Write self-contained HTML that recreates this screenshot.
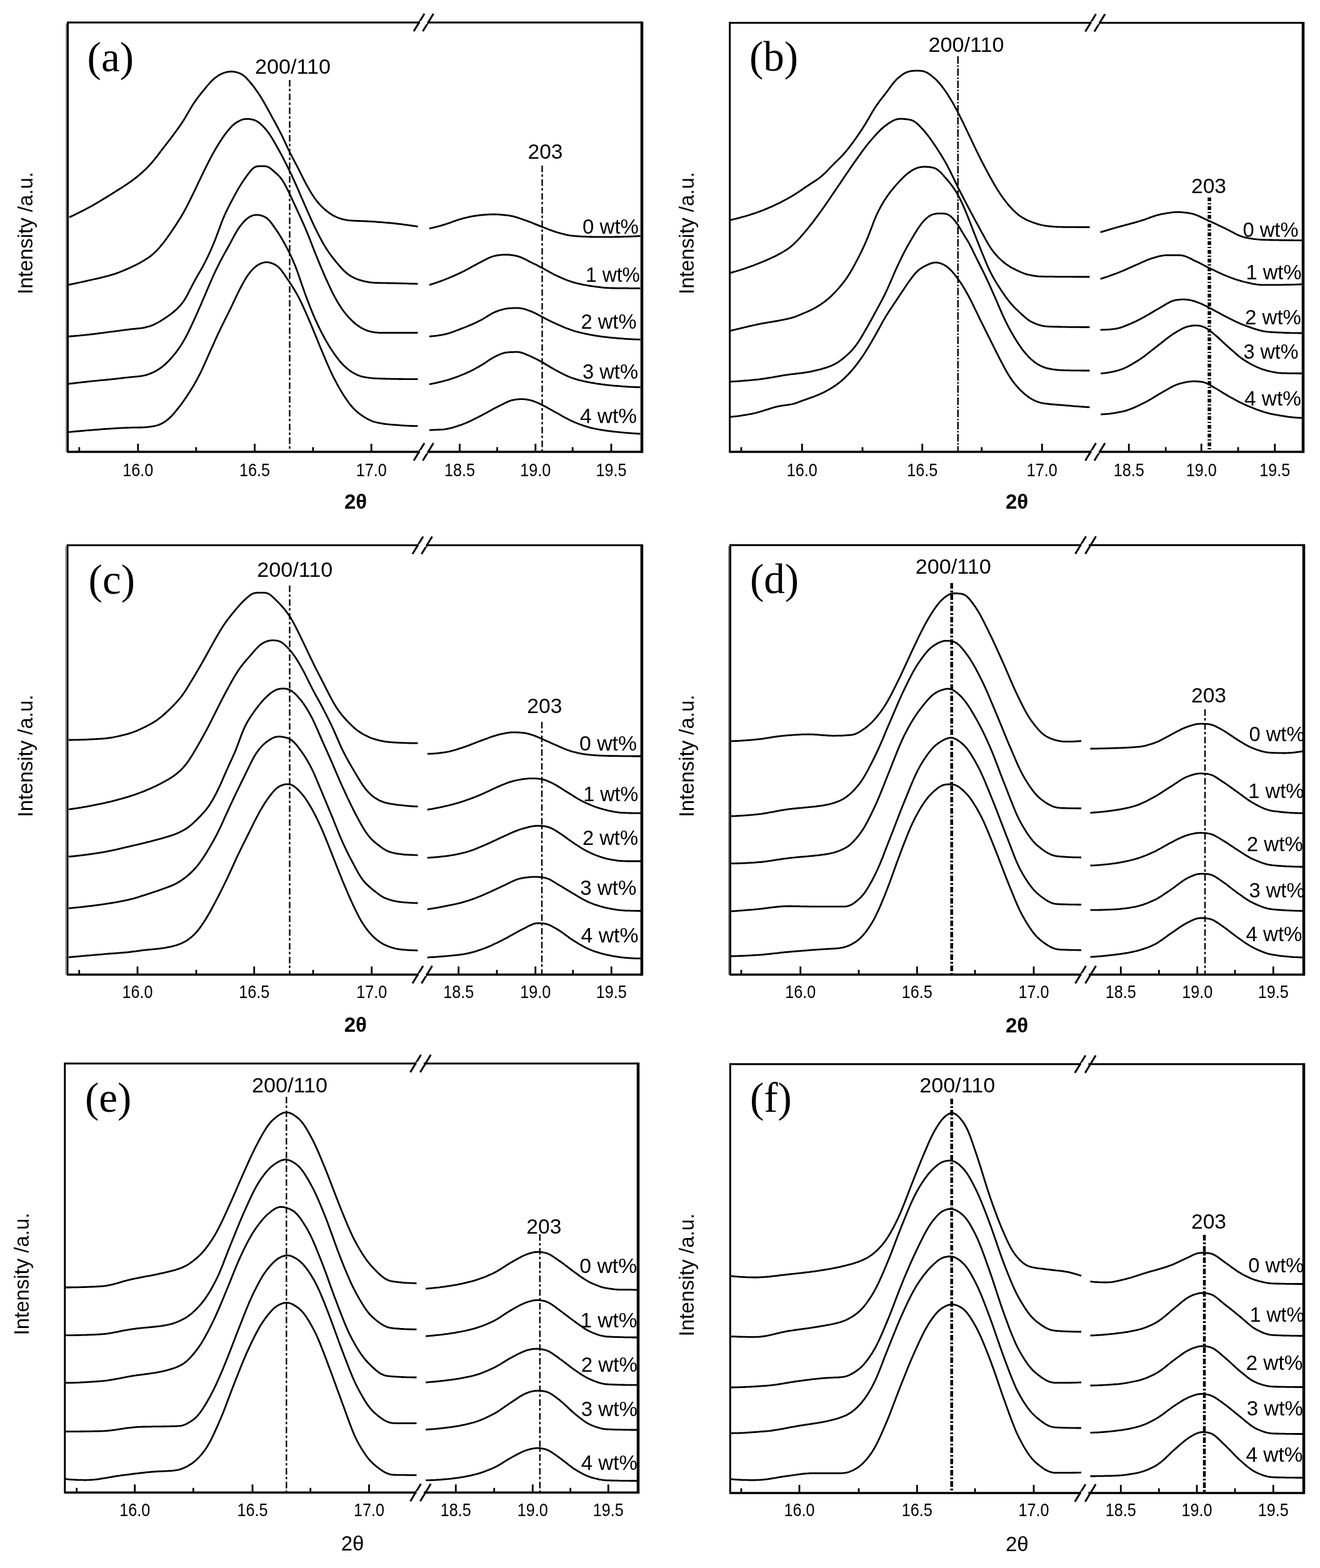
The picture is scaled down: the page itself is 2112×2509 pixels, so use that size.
<!DOCTYPE html>
<html><head><meta charset="utf-8"><style>
html,body{margin:0;padding:0;background:#fff;}
svg{display:block;}
.cv{fill:none;stroke:#000;stroke-width:2.8;stroke-linejoin:round;stroke-linecap:butt;}
.tk{font-family:"Liberation Sans",Arial,sans-serif;font-size:30px;fill:#000;}
.lb{font-family:"Liberation Sans",Arial,sans-serif;font-size:33px;fill:#000;}
.pl{font-family:"Liberation Serif","Times New Roman",serif;font-size:67px;fill:#000;}
.ax{font-family:"Liberation Sans",Arial,sans-serif;font-size:34px;fill:#000;}
.th2{font-family:"Liberation Sans",Arial,sans-serif;font-size:33px;fill:#000;}
.th{font-family:"Liberation Sans",Arial,sans-serif;font-size:33px;fill:#000;font-weight:bold;}
</style></head><body>
<svg xmlns="http://www.w3.org/2000/svg" width="2112" height="2509" viewBox="0 0 2112 2509">
<line x1="108.5" y1="36.0" x2="1027.0" y2="36.0" stroke="#000" stroke-width="3.0"/>
<line x1="108.5" y1="723.0" x2="1027.0" y2="723.0" stroke="#000" stroke-width="3.5"/>
<line x1="108.5" y1="34.5" x2="108.5" y2="724.5" stroke="#000" stroke-width="3.0"/>
<line x1="106.0" y1="37.5" x2="106.0" y2="723.0" stroke="#888" stroke-width="2"/>
<line x1="1027.0" y1="34.5" x2="1027.0" y2="724.8" stroke="#000" stroke-width="4.5"/>
<line x1="126.8" y1="723.0" x2="126.8" y2="715.5" stroke="#000" stroke-width="2.8"/>
<line x1="220.8" y1="723.0" x2="220.8" y2="710.0" stroke="#000" stroke-width="2.8"/>
<text x="220.8" y="762.0" class="tk" text-anchor="middle" textLength="49" lengthAdjust="spacingAndGlyphs">16.0</text>
<line x1="313.8" y1="723.0" x2="313.8" y2="715.5" stroke="#000" stroke-width="2.8"/>
<line x1="407.5" y1="723.0" x2="407.5" y2="710.0" stroke="#000" stroke-width="2.8"/>
<text x="407.5" y="762.0" class="tk" text-anchor="middle" textLength="49" lengthAdjust="spacingAndGlyphs">16.5</text>
<line x1="500.9" y1="723.0" x2="500.9" y2="715.5" stroke="#000" stroke-width="2.8"/>
<line x1="594.2" y1="723.0" x2="594.2" y2="710.0" stroke="#000" stroke-width="2.8"/>
<text x="594.2" y="762.0" class="tk" text-anchor="middle" textLength="49" lengthAdjust="spacingAndGlyphs">17.0</text>
<line x1="735.5" y1="723.0" x2="735.5" y2="710.0" stroke="#000" stroke-width="2.8"/>
<text x="735.5" y="762.0" class="tk" text-anchor="middle" textLength="49" lengthAdjust="spacingAndGlyphs">18.5</text>
<line x1="795.5" y1="723.0" x2="795.5" y2="715.5" stroke="#000" stroke-width="2.8"/>
<line x1="856.8" y1="723.0" x2="856.8" y2="710.0" stroke="#000" stroke-width="2.8"/>
<text x="856.8" y="762.0" class="tk" text-anchor="middle" textLength="49" lengthAdjust="spacingAndGlyphs">19.0</text>
<line x1="916.2" y1="723.0" x2="916.2" y2="715.5" stroke="#000" stroke-width="2.8"/>
<line x1="978.0" y1="723.0" x2="978.0" y2="710.0" stroke="#000" stroke-width="2.8"/>
<text x="978.0" y="762.0" class="tk" text-anchor="middle" textLength="49" lengthAdjust="spacingAndGlyphs">19.5</text>
<line x1="662.0" y1="50.0" x2="679.0" y2="22.0" stroke="#000" stroke-width="3"/>
<line x1="676.5" y1="50.0" x2="693.5" y2="22.0" stroke="#000" stroke-width="3"/>
<line x1="672.0" y1="36.0" x2="683.5" y2="36.0" stroke="#fff" stroke-width="5"/>
<line x1="662.0" y1="737.0" x2="679.0" y2="709.0" stroke="#000" stroke-width="3"/>
<line x1="676.5" y1="737.0" x2="693.5" y2="709.0" stroke="#000" stroke-width="3"/>
<line x1="672.0" y1="723.0" x2="683.5" y2="723.0" stroke="#fff" stroke-width="5"/>
<line x1="463.5" y1="128.0" x2="463.5" y2="723.0" stroke="#000" stroke-width="2.3" stroke-dasharray="10.5 3.5 4 4"/>
<line x1="867.5" y1="265.0" x2="867.5" y2="723.0" stroke="#000" stroke-width="2.3" stroke-dasharray="10.5 3.5 4 4"/>
<path d="M110.8,347.7l2.5,-1.2l2.5,-1.1l2.5,-1.2l2.5,-1.2l2.5,-1.2l2.5,-1.3l2.5,-1.2l2.5,-1.3l2.5,-1.3l2.5,-1.3l2.5,-1.3l2.5,-1.3l2.5,-1.4l2.5,-1.3l2.5,-1.4l2.5,-1.5l2.5,-1.4l2.5,-1.5l2.5,-1.4l2.5,-1.5l2.5,-1.6l2.5,-1.5l2.5,-1.5l2.5,-1.6l2.5,-1.5l2.5,-1.6l2.5,-1.5l2.5,-1.6l2.5,-1.6l2.5,-1.5l2.5,-1.6l2.5,-1.6l2.5,-1.6l2.5,-1.5l2.5,-1.7l2.5,-1.6l2.5,-1.7l2.5,-1.7l2.5,-1.8l2.5,-1.8l2.5,-1.8l2.5,-1.9l2.5,-2l2.5,-2l2.5,-2.1l2.5,-2.1l2.5,-2.3l2.5,-2.3l2.5,-2.4l2.5,-2.5l2.5,-2.6l2.5,-2.7l2.5,-2.8l2.5,-3l2.5,-3.1l2.6,-3.2l2.5,-3.3l2.5,-3.4l2.5,-3.3l2.5,-3.2l2.5,-3.3l2.5,-3.2l2.5,-3.2l2.5,-3.3l2.5,-3.2l2.5,-3.3l2.5,-3.4l2.5,-3.4l2.5,-3.4l2.5,-3.5l2.5,-3.6l2.5,-3.7l2.5,-3.9l2.5,-4l2.5,-4.2l2.5,-4.3l2.5,-4.3l2.5,-4.2l2.5,-4.1l2.5,-3.8l2.5,-3.6l2.5,-3.4l2.5,-3.3l2.5,-3.2l2.5,-3.1l2.5,-3.1l2.5,-3l2.5,-3.1l2.5,-2.9l2.5,-2.9l2.5,-2.6l2.5,-2.4l2.5,-2.2l2.5,-1.9l2.5,-1.7l2.5,-1.6l2.5,-1.3l2.5,-1.2l2.5,-1l2.5,-.7l2.5,-.6l2.5,-.4l2.5,-.3l2.5,0l2.5,.2l2.5,.4l2.5,.5l2.5,.7l2.5,.9l2.5,1.2l2.5,1.6l2.5,1.9l2.5,2.3l2.5,2.6l2.5,2.8l2.5,2.9l2.5,3l2.5,3.2l2.5,3.4l2.5,3.5l2.5,3.7l2.5,3.8l2.5,4l2.5,4.1l2.5,4.3l2.5,4.5l2.5,4.5l2.5,4.6l2.5,4.6l2.5,4.6l2.5,4.6l2.5,4.6l2.5,4.7l2.5,4.7l2.5,4.8l2.5,5l2.5,5.2l2.5,5.3l2.5,5.5l2.5,5.3l2.5,5.2l2.5,5l2.5,4.7l2.5,4.7l2.5,4.7l2.5,4.8l2.5,4.8l2.5,5l2.5,5.1l2.5,5l2.5,4.8l2.5,4.7l2.5,4.4l2.5,4.4l2.5,4.1l2.5,3.9l2.5,3.7l2.5,3.4l2.5,3.1l2.5,3l2.5,2.7l2.5,2.5l2.5,2.4l2.5,2.1l2.5,2l2.5,1.9l2.5,1.8l2.6,1.6l2.5,1.5l2.5,1.3l2.5,1.2l2.5,1l2.5,.9l2.5,.8l2.5,.6l2.5,.6l2.5,.5l2.5,.4l2.5,.3l2.5,.2l2.5,.2l2.5,.1l2.5,.2l2.5,.1l2.5,.1l2.5,.1l2.5,.1l2.5,.1l2.5,.1l2.5,.1l2.5,.1l2.5,.2l2.5,.1l2.5,.2l2.5,.1l2.5,.2l2.5,.2l2.5,.2l2.5,.2l2.5,.2l2.5,.2l2.5,.2l2.5,.2l2.5,.2l2.5,.2l2.5,.3l2.5,.2l2.5,.3l2.5,.3l2.5,.2l2.5,.3l2.5,.3l2.5,.3l2.5,.4l2.5,.3l2.5,.3l2.5,.4l2.5,.3l2.5,.4l2.5,.4l2.5,.3l2.5,.4l2.5,.4" class="cv"/>
<path d="M686.9,365.7l2.5,-.6l2.5,-.6l2.5,-.6l2.5,-.6l2.5,-.7l2.5,-.6l2.5,-.7l2.5,-.7l2.5,-.7l2.5,-.8l2.5,-.8l2.5,-.9l2.5,-.8l2.5,-.9l2.5,-.9l2.5,-.9l2.5,-.9l2.5,-.9l2.5,-.8l2.5,-.7l2.5,-.7l2.5,-.7l2.5,-.6l2.5,-.6l2.5,-.6l2.5,-.5l2.5,-.5l2.5,-.5l2.5,-.4l2.5,-.4l2.5,-.3l2.5,-.3l2.5,-.3l2.5,-.2l2.5,-.3l2.5,-.2l2.5,-.2l2.5,-.1l2.5,-.1l2.5,-.1l2.5,0l2.5,0l2.5,.1l2.5,.1l2.5,.1l2.5,.2l2.5,.3l2.5,.2l2.5,.3l2.5,.3l2.5,.3l2.5,.4l2.5,.5l2.5,.6l2.5,.7l2.5,.7l2.5,.8l2.5,.9l2.5,.8l2.5,.9l2.5,.9l2.5,.9l2.5,.9l2.5,1l2.5,.9l2.5,1l2.5,1.1l2.6,1l2.5,1l2.5,1l2.5,1l2.5,1l2.5,.9l2.5,1l2.5,1l2.5,1l2.5,.9l2.5,.9l2.5,.9l2.5,.9l2.5,.8l2.5,.8l2.5,.7l2.5,.7l2.5,.6l2.5,.7l2.5,.6l2.5,.5l2.5,.5l2.5,.5l2.5,.3l2.5,.3l2.5,.3l2.5,.1l2.5,.2l2.5,.2l2.5,.1l2.5,.2l2.5,.1l2.5,.1l2.5,.1l2.5,.1l2.5,.1l2.5,0l2.5,.1l2.5,0l2.5,.1l2.5,0l2.5,0l2.5,0l2.5,0l2.5,0l2.5,0l2.5,0l2.5,-.1l2.5,0l2.5,0l2.5,0l2.5,-.1l2.5,0l2.5,0l2.5,-.1l2.5,0l2.5,-.1l2.5,-.1l2.5,-.1l2.5,0l2.5,-.1l2.5,-.1l2.5,-.1l2.5,-.1l2.5,-.2l2.5,-.1l2.5,-.2l2.5,-.1" class="cv"/>
<path d="M109.8,455.6l2.5,-.5l2.5,-.5l2.5,-.5l2.5,-.5l2.5,-.5l2.5,-.6l2.5,-.5l2.5,-.5l2.5,-.6l2.6,-.5l2.5,-.6l2.5,-.6l2.5,-.5l2.5,-.6l2.5,-.6l2.5,-.5l2.5,-.6l2.5,-.6l2.5,-.5l2.5,-.6l2.5,-.6l2.5,-.6l2.5,-.6l2.5,-.7l2.5,-.6l2.5,-.7l2.5,-.7l2.6,-.8l2.5,-.8l2.5,-.8l2.5,-.9l2.5,-.9l2.5,-1l2.5,-1l2.5,-1l2.5,-1.1l2.5,-1l2.5,-1.2l2.5,-1.1l2.5,-1.1l2.5,-1.2l2.5,-1.2l2.5,-1.2l2.5,-1.3l2.5,-1.4l2.5,-1.3l2.6,-1.5l2.5,-1.4l2.5,-1.6l2.5,-1.6l2.5,-1.7l2.5,-1.8l2.5,-1.9l2.5,-2.2l2.5,-2.3l2.5,-2.4l2.5,-2.6l2.5,-2.8l2.5,-2.9l2.5,-3l2.5,-3.2l2.5,-3.3l2.5,-3.5l2.5,-3.6l2.5,-3.6l2.6,-3.7l2.5,-3.7l2.5,-3.8l2.5,-3.8l2.5,-3.9l2.5,-3.9l2.5,-4.1l2.5,-4.3l2.5,-4.5l2.5,-4.6l2.5,-4.9l2.5,-5l2.5,-5l2.5,-5.2l2.5,-5.1l2.5,-5.2l2.5,-5.3l2.5,-5.3l2.6,-5.2l2.5,-5.3l2.5,-5.2l2.5,-5.1l2.5,-5l2.5,-5l2.5,-4.9l2.5,-4.8l2.5,-4.6l2.5,-4.5l2.5,-4.4l2.5,-4.2l2.5,-4.1l2.5,-3.9l2.5,-3.8l2.5,-3.6l2.5,-3.4l2.5,-3.3l2.5,-3.1l2.6,-3l2.5,-2.7l2.5,-2.5l2.5,-2.1l2.5,-1.7l2.5,-1.6l2.5,-1.3l2.5,-1.2l2.5,-.9l2.5,-.6l2.5,-.3l2.5,-.1l2.5,.1l2.5,.3l2.5,.4l2.5,.6l2.5,.8l2.5,1.2l2.6,1.5l2.5,1.9l2.5,2.2l2.5,2.4l2.5,2.7l2.5,2.8l2.5,3.1l2.5,3.4l2.5,3.8l2.5,4l2.5,4.2l2.5,4.4l2.5,4.4l2.5,4.5l2.5,4.5l2.5,4.7l2.5,4.7l2.5,4.9l2.5,4.9l2.6,5.1l2.5,5.1l2.5,5.3l2.5,5.4l2.5,5.5l2.5,5.5l2.5,5.6l2.5,5.7l2.5,5.8l2.5,5.8l2.5,5.7l2.5,5.8l2.5,5.7l2.5,5.7l2.5,5.6l2.5,5.6l2.5,5.5l2.5,5.4l2.6,5.2l2.5,5l2.5,4.9l2.5,4.8l2.5,4.6l2.5,4.4l2.5,4.2l2.5,3.9l2.5,3.8l2.5,3.5l2.5,3.4l2.5,3.2l2.5,3.1l2.5,3.1l2.5,2.9l2.5,2.9l2.5,2.9l2.5,2.7l2.5,2.5l2.6,2.4l2.5,2.1l2.5,1.8l2.5,1.7l2.5,1.4l2.5,1.4l2.5,1.1l2.5,1.1l2.5,.9l2.5,.8l2.5,.7l2.5,.7l2.5,.6l2.5,.5l2.5,.5l2.5,.5l2.5,.3l2.5,.2l2.5,.2l2.6,.1l2.5,.1l2.5,.1l2.5,0l2.5,.1l2.5,0l2.5,.1l2.5,0l2.5,.1l2.5,0l2.5,.1l2.5,0l2.5,.1l2.5,0l2.5,.1l2.5,.1l2.5,0l2.5,.1l2.6,.1l2.5,0l2.5,.1l2.5,.1l2.5,0l2.5,.1l2.5,.1l2.5,0l2.5,.1l2.5,.1" class="cv"/>
<path d="M686.9,456.0l2.5,-.8l2.5,-.8l2.5,-.8l2.5,-.9l2.5,-.8l2.5,-.9l2.5,-.9l2.5,-.9l2.5,-1l2.5,-.9l2.5,-1l2.5,-1l2.5,-1.1l2.5,-1l2.5,-1.1l2.5,-1.1l2.5,-1.1l2.5,-1.2l2.5,-1.1l2.5,-1.2l2.5,-1.2l2.5,-1.2l2.5,-1.3l2.5,-1.3l2.5,-1.4l2.5,-1.3l2.5,-1.4l2.5,-1.4l2.5,-1.4l2.5,-1.3l2.5,-1.4l2.5,-1.3l2.5,-1.3l2.5,-1.3l2.5,-1.3l2.5,-1.3l2.5,-1.3l2.5,-1.2l2.5,-1.1l2.5,-.9l2.5,-.8l2.5,-.6l2.5,-.5l2.5,-.4l2.5,-.3l2.5,-.3l2.5,-.2l2.5,-.1l2.5,-.1l2.5,.1l2.5,.1l2.5,.3l2.5,.3l2.5,.3l2.5,.5l2.5,.5l2.5,.7l2.5,.8l2.5,1l2.5,1.1l2.5,1.3l2.5,1.3l2.5,1.3l2.5,1.3l2.5,1.2l2.5,1.3l2.5,1.2l2.6,1.2l2.5,1.3l2.5,1.3l2.5,1.3l2.5,1.3l2.5,1.3l2.5,1.4l2.5,1.4l2.5,1.4l2.5,1.4l2.5,1.4l2.5,1.3l2.5,1.3l2.5,1.2l2.5,1.2l2.5,1.1l2.5,1.1l2.5,1.1l2.5,1.1l2.5,1l2.5,1l2.5,1l2.5,.8l2.5,.9l2.5,.7l2.5,.7l2.5,.7l2.5,.6l2.5,.6l2.5,.5l2.5,.6l2.5,.5l2.5,.4l2.5,.5l2.5,.4l2.5,.4l2.5,.4l2.5,.3l2.5,.4l2.5,.3l2.5,.3l2.5,.3l2.5,.3l2.5,.3l2.5,.3l2.5,.2l2.5,.1l2.5,.2l2.5,0l2.5,.1l2.5,0l2.5,.1l2.5,0l2.5,0l2.5,.1l2.5,0l2.5,0l2.5,0l2.5,0l2.5,0l2.5,.1l2.5,0l2.5,0l2.5,0l2.5,0l2.5,0l2.5,0l2.5,0" class="cv"/>
<path d="M109.8,538.4l2.5,-.2l2.5,-.2l2.5,-.2l2.5,-.3l2.5,-.2l2.5,-.2l2.5,-.2l2.5,-.3l2.5,-.2l2.6,-.3l2.5,-.2l2.5,-.3l2.5,-.3l2.5,-.3l2.5,-.2l2.5,-.3l2.5,-.3l2.5,-.3l2.5,-.4l2.5,-.3l2.5,-.3l2.5,-.3l2.5,-.4l2.5,-.3l2.5,-.3l2.5,-.4l2.5,-.3l2.6,-.3l2.5,-.3l2.5,-.4l2.5,-.3l2.5,-.3l2.5,-.4l2.5,-.3l2.5,-.3l2.5,-.4l2.5,-.3l2.5,-.3l2.5,-.3l2.5,-.3l2.5,-.2l2.5,-.3l2.5,-.2l2.5,-.3l2.5,-.2l2.5,-.4l2.6,-.3l2.5,-.5l2.5,-.5l2.5,-.6l2.5,-.7l2.5,-.7l2.5,-.9l2.5,-1l2.5,-1.1l2.5,-1.3l2.5,-1.4l2.5,-1.4l2.5,-1.5l2.5,-1.6l2.5,-1.6l2.5,-1.6l2.5,-1.7l2.5,-1.8l2.5,-1.8l2.6,-2l2.5,-2l2.5,-2.2l2.5,-2.2l2.5,-2.5l2.5,-2.6l2.5,-2.9l2.5,-3.2l2.5,-3.7l2.5,-4.1l2.5,-4.6l2.5,-4.9l2.5,-4.9l2.5,-4.9l2.5,-4.8l2.5,-4.6l2.5,-4.4l2.5,-4.3l2.6,-4.4l2.5,-4.4l2.5,-4.6l2.5,-4.7l2.5,-5l2.5,-5.2l2.5,-5.4l2.5,-5.6l2.5,-5.8l2.5,-6l2.5,-6.3l2.5,-6.6l2.5,-6.8l2.5,-6.8l2.5,-6.6l2.5,-6.2l2.5,-5.7l2.5,-5.3l2.5,-5.1l2.6,-4.9l2.5,-4.9l2.5,-4.7l2.5,-4.7l2.5,-4.5l2.5,-4.5l2.5,-4.2l2.5,-4.1l2.5,-3.9l2.5,-3.7l2.5,-3.6l2.5,-3.5l2.5,-3.3l2.5,-3.2l2.5,-2.9l2.5,-2.2l2.5,-1.6l2.5,-1l2.6,-.4l2.5,-.1l2.5,-.1l2.5,0l2.5,.1l2.5,.3l2.5,.6l2.5,1.2l2.5,1.6l2.5,2.1l2.5,2.2l2.5,2.2l2.5,2.3l2.5,2.3l2.5,2.7l2.5,3.2l2.5,3.7l2.5,4.3l2.5,4.7l2.6,5.1l2.5,5.2l2.5,5.3l2.5,5.4l2.5,5.4l2.5,5.4l2.5,5.5l2.5,5.4l2.5,5.4l2.5,5.5l2.5,5.6l2.5,5.7l2.5,5.9l2.5,6.1l2.5,6.3l2.5,6.5l2.5,6.4l2.5,6.5l2.6,6.3l2.5,6.2l2.5,6.2l2.5,6l2.5,5.9l2.5,5.9l2.5,5.7l2.5,5.5l2.5,5.4l2.5,5.4l2.5,5.2l2.5,5l2.5,4.8l2.5,4.5l2.5,4.3l2.5,4l2.5,3.9l2.5,3.6l2.5,3.5l2.6,3.2l2.5,3l2.5,2.8l2.5,2.6l2.5,2.5l2.5,2.3l2.5,2.2l2.5,1.9l2.5,1.8l2.5,1.7l2.5,1.5l2.5,1.4l2.5,1.2l2.5,1.1l2.5,.9l2.5,.7l2.5,.7l2.5,.5l2.5,.4l2.6,.4l2.5,.2l2.5,.2l2.5,.1l2.5,0l2.5,0l2.5,0l2.5,0l2.5,0l2.5,0l2.5,0l2.5,0l2.5,0l2.5,0l2.5,0l2.5,0l2.5,0l2.5,0l2.6,0l2.5,0l2.5,0l2.5,0l2.5,0l2.5,0l2.5,0l2.5,0l2.5,0l2.5,0" class="cv"/>
<path d="M686.9,538.3l2.5,-.2l2.5,-.2l2.5,-.2l2.5,-.3l2.5,-.3l2.5,-.4l2.5,-.4l2.5,-.4l2.5,-.5l2.5,-.5l2.5,-.6l2.5,-.7l2.5,-.7l2.5,-.9l2.5,-.8l2.5,-.9l2.5,-1l2.5,-1l2.5,-.9l2.5,-1l2.5,-1l2.5,-.9l2.5,-1l2.5,-1l2.5,-1l2.5,-1.1l2.5,-1l2.5,-1.1l2.5,-1.1l2.5,-1.2l2.5,-1.2l2.5,-1.2l2.5,-1.3l2.5,-1.4l2.5,-1.5l2.5,-1.5l2.5,-1.6l2.5,-1.6l2.5,-1.5l2.5,-1.4l2.5,-1.3l2.5,-1.1l2.5,-1l2.5,-1l2.5,-.9l2.5,-.7l2.5,-.7l2.5,-.6l2.5,-.5l2.5,-.3l2.5,-.3l2.5,-.2l2.5,-.1l2.5,-.2l2.5,-.1l2.5,0l2.5,.1l2.5,.2l2.5,.4l2.5,.5l2.5,.7l2.5,.7l2.5,.9l2.5,.9l2.5,.9l2.5,1l2.5,1.2l2.6,1.2l2.5,1.3l2.5,1.4l2.5,1.3l2.5,1.3l2.5,1.3l2.5,1.3l2.5,1.3l2.5,1.3l2.5,1.2l2.5,1.3l2.5,1.2l2.5,1.1l2.5,1.2l2.5,1.1l2.5,1.1l2.5,1.1l2.5,1.1l2.5,1.1l2.5,1l2.5,1l2.5,.9l2.5,.9l2.5,.9l2.5,.8l2.5,.8l2.5,.7l2.5,.6l2.5,.7l2.5,.6l2.5,.6l2.5,.6l2.5,.6l2.5,.5l2.5,.5l2.5,.5l2.5,.4l2.5,.4l2.5,.5l2.5,.4l2.5,.3l2.5,.4l2.5,.4l2.5,.3l2.5,.3l2.5,.3l2.5,.3l2.5,.3l2.5,.2l2.5,.3l2.5,.2l2.5,.2l2.5,.2l2.5,.2l2.5,.2l2.5,.2l2.5,.2l2.5,.2l2.5,.2l2.5,.1l2.5,.2l2.5,.1l2.5,.1l2.5,.2l2.5,.1l2.5,0l2.5,.1l2.5,.1" class="cv"/>
<path d="M109.8,614.2l2.5,-.3l2.5,-.3l2.5,-.3l2.5,-.3l2.5,-.3l2.5,-.3l2.5,-.3l2.5,-.3l2.5,-.3l2.6,-.2l2.5,-.3l2.5,-.3l2.5,-.3l2.5,-.2l2.5,-.3l2.5,-.2l2.5,-.3l2.5,-.2l2.5,-.3l2.5,-.2l2.5,-.3l2.5,-.2l2.5,-.2l2.5,-.3l2.5,-.2l2.5,-.3l2.5,-.2l2.6,-.3l2.5,-.2l2.5,-.3l2.5,-.3l2.5,-.3l2.5,-.3l2.5,-.3l2.5,-.3l2.5,-.3l2.5,-.3l2.5,-.2l2.5,-.3l2.5,-.3l2.5,-.2l2.5,-.2l2.5,-.3l2.5,-.2l2.5,-.3l2.5,-.3l2.6,-.4l2.5,-.5l2.5,-.6l2.5,-.7l2.5,-.8l2.5,-.9l2.5,-1l2.5,-1.1l2.5,-1.3l2.5,-1.3l2.5,-1.5l2.5,-1.7l2.5,-1.7l2.5,-1.9l2.5,-2l2.5,-2.3l2.5,-2.4l2.5,-2.5l2.5,-2.7l2.6,-2.9l2.5,-2.9l2.5,-3.1l2.5,-3.3l2.5,-3.4l2.5,-3.7l2.5,-3.8l2.5,-4l2.5,-4.3l2.5,-4.6l2.5,-4.8l2.5,-5.1l2.5,-5.2l2.5,-5.3l2.5,-5.4l2.5,-5.5l2.5,-5.7l2.5,-5.7l2.6,-5.8l2.5,-5.8l2.5,-5.9l2.5,-5.8l2.5,-5.9l2.5,-5.8l2.5,-5.9l2.5,-5.7l2.5,-5.7l2.5,-5.5l2.5,-5.3l2.5,-5.2l2.5,-5l2.5,-4.9l2.5,-4.7l2.5,-4.6l2.5,-4.6l2.5,-4.5l2.5,-4.5l2.6,-4.6l2.5,-4.7l2.5,-4.7l2.5,-4.7l2.5,-4.4l2.5,-4.2l2.5,-3.7l2.5,-3.3l2.5,-3.1l2.5,-2.7l2.5,-2.5l2.5,-2.2l2.5,-1.9l2.5,-1.5l2.5,-1.1l2.5,-.9l2.5,-.5l2.5,-.2l2.6,.1l2.5,.4l2.5,.6l2.5,.8l2.5,1.1l2.5,1.4l2.5,1.8l2.5,2.4l2.5,2.9l2.5,3.3l2.5,3.5l2.5,3.6l2.5,3.7l2.5,3.7l2.5,4l2.5,4.1l2.5,4.3l2.5,4.5l2.5,4.8l2.6,4.8l2.5,5.1l2.5,5.2l2.5,5.4l2.5,5.8l2.5,6.2l2.5,6.7l2.5,7.2l2.5,7.3l2.5,7.3l2.5,7.1l2.5,7l2.5,6.8l2.5,6.6l2.5,6.5l2.5,6.2l2.5,6.1l2.5,5.8l2.6,5.7l2.5,5.5l2.5,5.3l2.5,5.1l2.5,4.8l2.5,4.7l2.5,4.6l2.5,4.3l2.5,4.2l2.5,4.1l2.5,3.8l2.5,3.8l2.5,3.6l2.5,3.5l2.5,3.3l2.5,3.1l2.5,3l2.5,2.7l2.5,2.5l2.6,2.3l2.5,2.2l2.5,2l2.5,1.8l2.5,1.7l2.5,1.4l2.5,1.4l2.5,1.2l2.5,1.1l2.5,.9l2.5,.8l2.5,.6l2.5,.6l2.5,.4l2.5,.3l2.5,.4l2.5,.2l2.5,.3l2.5,.2l2.6,.2l2.5,.1l2.5,.1l2.5,.1l2.5,.1l2.5,.1l2.5,0l2.5,.1l2.5,.1l2.5,0l2.5,.1l2.5,0l2.5,.1l2.5,0l2.5,0l2.5,.1l2.5,0l2.5,0l2.6,.1l2.5,0l2.5,0l2.5,0l2.5,.1l2.5,0l2.5,0l2.5,0l2.5,0l2.5,0" class="cv"/>
<path d="M686.9,614.7l2.5,-.4l2.5,-.5l2.5,-.5l2.5,-.5l2.5,-.5l2.5,-.6l2.5,-.6l2.5,-.6l2.5,-.6l2.5,-.7l2.5,-.7l2.5,-.7l2.5,-.8l2.5,-.8l2.5,-.8l2.5,-.9l2.5,-.9l2.5,-.9l2.5,-.9l2.5,-1l2.5,-1l2.5,-1.1l2.5,-1l2.5,-1.1l2.5,-1.2l2.5,-1.2l2.5,-1.3l2.5,-1.2l2.5,-1.3l2.5,-1.4l2.5,-1.3l2.5,-1.4l2.5,-1.5l2.5,-1.5l2.5,-1.6l2.5,-1.6l2.5,-1.7l2.5,-1.7l2.5,-1.6l2.5,-1.6l2.5,-1.4l2.5,-1.3l2.5,-1.3l2.5,-1.2l2.5,-1.1l2.5,-1l2.5,-.9l2.5,-.6l2.5,-.5l2.5,-.3l2.5,-.2l2.5,-.2l2.5,-.1l2.5,-.1l2.5,-.1l2.5,0l2.5,.2l2.5,.3l2.5,.6l2.5,.8l2.5,.9l2.5,1.1l2.5,1.1l2.5,1.1l2.5,1.1l2.5,1.2l2.5,1.2l2.6,1.2l2.5,1.3l2.5,1.3l2.5,1.3l2.5,1.4l2.5,1.4l2.5,1.5l2.5,1.5l2.5,1.5l2.5,1.5l2.5,1.5l2.5,1.5l2.5,1.4l2.5,1.4l2.5,1.3l2.5,1.3l2.5,1.4l2.5,1.2l2.5,1.3l2.5,1.2l2.5,1.2l2.5,1.1l2.5,1l2.5,1l2.5,.8l2.5,.8l2.5,.8l2.5,.7l2.5,.7l2.5,.6l2.5,.6l2.5,.6l2.5,.5l2.5,.5l2.5,.5l2.5,.5l2.5,.4l2.5,.4l2.5,.5l2.5,.4l2.5,.3l2.5,.4l2.5,.4l2.5,.3l2.5,.3l2.5,.3l2.5,.3l2.5,.3l2.5,.2l2.5,.3l2.5,.2l2.5,.2l2.5,.2l2.5,.2l2.5,.2l2.5,.2l2.5,.2l2.5,.2l2.5,.2l2.5,.1l2.5,.2l2.5,.1l2.5,.1l2.5,.2l2.5,.1l2.5,0l2.5,.1l2.5,.1" class="cv"/>
<path d="M109.8,691.3l2.5,-.2l2.5,-.2l2.5,-.3l2.5,-.2l2.5,-.2l2.5,-.2l2.5,-.2l2.5,-.3l2.5,-.2l2.6,-.2l2.5,-.2l2.5,-.2l2.5,-.2l2.5,-.2l2.5,-.2l2.5,-.2l2.5,-.2l2.5,-.2l2.5,-.2l2.5,-.2l2.5,-.2l2.5,-.2l2.5,-.2l2.5,-.2l2.5,-.2l2.5,-.1l2.5,-.2l2.6,-.2l2.5,-.1l2.5,-.2l2.5,-.1l2.5,-.1l2.5,-.2l2.5,-.1l2.5,-.1l2.5,-.2l2.5,-.1l2.5,0l2.5,-.1l2.5,-.1l2.5,0l2.5,-.1l2.5,0l2.5,0l2.5,-.1l2.5,0l2.6,-.1l2.5,-.1l2.5,-.2l2.5,-.2l2.5,-.2l2.5,-.4l2.5,-.3l2.5,-.5l2.5,-.4l2.5,-.6l2.5,-.7l2.5,-.9l2.5,-1.1l2.5,-1.3l2.5,-1.5l2.5,-1.7l2.5,-1.9l2.5,-2l2.5,-2.4l2.6,-2.6l2.5,-2.7l2.5,-3l2.5,-3.1l2.5,-3.1l2.5,-3.2l2.5,-3.3l2.5,-3.4l2.5,-3.6l2.5,-3.6l2.5,-3.8l2.5,-3.8l2.5,-4l2.5,-4l2.5,-4.2l2.5,-4.4l2.5,-4.5l2.5,-4.8l2.6,-4.9l2.5,-5.2l2.5,-5.4l2.5,-5.6l2.5,-5.6l2.5,-5.7l2.5,-5.6l2.5,-5.6l2.5,-5.5l2.5,-5.6l2.5,-5.5l2.5,-5.5l2.5,-5.3l2.5,-5.3l2.5,-5.1l2.5,-5.1l2.5,-5l2.5,-5l2.5,-5l2.6,-5.2l2.5,-5.2l2.5,-5.3l2.5,-5.4l2.5,-5.3l2.5,-5.2l2.5,-5l2.5,-4.8l2.5,-4.7l2.5,-4.4l2.5,-4.3l2.5,-4l2.5,-3.6l2.5,-3.2l2.5,-2.9l2.5,-2.6l2.5,-2.2l2.5,-2.1l2.6,-1.7l2.5,-1.4l2.5,-1.1l2.5,-.8l2.5,-.6l2.5,-.3l2.5,.1l2.5,.3l2.5,.6l2.5,.8l2.5,1.1l2.5,1.3l2.5,1.6l2.5,2l2.5,2.5l2.5,3.1l2.5,3.4l2.5,3.6l2.5,3.7l2.6,3.8l2.5,3.7l2.5,3.8l2.5,3.9l2.5,4.1l2.5,4.2l2.5,4.4l2.5,4.7l2.5,4.9l2.5,5.2l2.5,5.4l2.5,5.5l2.5,5.7l2.5,5.7l2.5,5.9l2.5,5.9l2.5,6.1l2.5,6.1l2.6,6.2l2.5,6.1l2.5,6.2l2.5,6l2.5,6.1l2.5,5.9l2.5,6l2.5,5.8l2.5,5.7l2.5,5.6l2.5,5.3l2.5,5.2l2.5,4.9l2.5,4.7l2.5,4.6l2.5,4.4l2.5,4.3l2.5,4.1l2.5,3.9l2.6,3.9l2.5,3.7l2.5,3.5l2.5,3.2l2.5,3l2.5,2.8l2.5,2.4l2.5,2.3l2.5,2.1l2.5,1.9l2.5,1.8l2.5,1.7l2.5,1.6l2.5,1.5l2.5,1.4l2.5,1.3l2.5,1.2l2.5,1l2.5,.8l2.6,.7l2.5,.6l2.5,.6l2.5,.5l2.5,.4l2.5,.4l2.5,.3l2.5,.4l2.5,.2l2.5,.3l2.5,.2l2.5,.2l2.5,.2l2.5,.2l2.5,.2l2.5,.2l2.5,.2l2.5,.2l2.6,.1l2.5,.2l2.5,.1l2.5,.1l2.5,.1l2.5,.1l2.5,.1l2.5,0l2.5,.1l2.5,0" class="cv"/>
<path d="M686.9,688.1l2.5,0l2.5,-.1l2.5,-.1l2.5,-.1l2.5,-.1l2.5,-.1l2.5,-.2l2.5,-.1l2.5,-.2l2.5,-.3l2.5,-.4l2.5,-.4l2.5,-.6l2.5,-.6l2.5,-.7l2.5,-.7l2.5,-.8l2.5,-.8l2.5,-.9l2.5,-.8l2.5,-.9l2.5,-.9l2.5,-1l2.5,-1.1l2.5,-1.1l2.5,-1.1l2.5,-1.2l2.5,-1.2l2.5,-1.3l2.5,-1.3l2.5,-1.2l2.5,-1.3l2.5,-1.3l2.5,-1.3l2.5,-1.3l2.5,-1.4l2.5,-1.3l2.5,-1.4l2.5,-1.4l2.5,-1.4l2.5,-1.4l2.5,-1.3l2.5,-1.3l2.5,-1.3l2.5,-1.2l2.5,-1.3l2.5,-1.2l2.5,-1.3l2.5,-1.2l2.5,-1.1l2.5,-1.1l2.5,-.9l2.5,-.7l2.5,-.5l2.5,-.5l2.5,-.3l2.5,-.2l2.5,-.2l2.5,0l2.5,0l2.5,.1l2.5,.3l2.5,.5l2.5,.5l2.5,.6l2.5,.7l2.5,.8l2.6,1l2.5,1l2.5,1.1l2.5,1.2l2.5,1.3l2.5,1.2l2.5,1.3l2.5,1.4l2.5,1.4l2.5,1.4l2.5,1.4l2.5,1.4l2.5,1.4l2.5,1.3l2.5,1.4l2.5,1.4l2.5,1.4l2.5,1.5l2.5,1.4l2.5,1.3l2.5,1.4l2.5,1.3l2.5,1.2l2.5,1.2l2.5,1.1l2.5,1.1l2.5,1l2.5,1l2.5,1l2.5,.9l2.5,.9l2.5,.9l2.5,.8l2.5,.7l2.5,.7l2.5,.7l2.5,.6l2.5,.6l2.5,.5l2.5,.5l2.5,.5l2.5,.5l2.5,.4l2.5,.4l2.5,.4l2.5,.3l2.5,.4l2.5,.3l2.5,.3l2.5,.3l2.5,.3l2.5,.3l2.5,.2l2.5,.3l2.5,.3l2.5,.2l2.5,.3l2.5,.2l2.5,.2l2.5,.2l2.5,.2l2.5,.2l2.5,.2l2.5,.2l2.5,.1l2.5,.2l2.5,.1l2.5,.1" class="cv"/>
<text x="139.6" y="113.8" class="pl" >(a)</text>
<text x="408.0" y="117.5" class="lb" textLength="121" lengthAdjust="spacingAndGlyphs">200/110</text>
<text x="844.5" y="254.0" class="lb" textLength="56" lengthAdjust="spacingAndGlyphs">203</text>
<text x="932.0" y="373.5" class="lb" textLength="90" lengthAdjust="spacingAndGlyphs">0 wt%</text>
<text x="937.0" y="451.0" class="lb" textLength="87" lengthAdjust="spacingAndGlyphs">1 wt%</text>
<text x="929.5" y="526.0" class="lb" textLength="89" lengthAdjust="spacingAndGlyphs">2 wt%</text>
<text x="932.0" y="606.0" class="lb" textLength="89" lengthAdjust="spacingAndGlyphs">3 wt%</text>
<text x="928.0" y="677.0" class="lb" textLength="91" lengthAdjust="spacingAndGlyphs">4 wt%</text>
<text x="0.0" y="0.0" class="ax" transform="translate(51.5,471) rotate(-90)" textLength="196" lengthAdjust="spacingAndGlyphs">Intensity /a.u.</text>
<text x="551.0" y="813.5" class="th" >2θ</text>
<line x1="1167.7" y1="36.5" x2="2085.0" y2="36.5" stroke="#000" stroke-width="3.0"/>
<line x1="1167.7" y1="723.0" x2="2085.0" y2="723.0" stroke="#000" stroke-width="3.5"/>
<line x1="1167.7" y1="35.0" x2="1167.7" y2="724.5" stroke="#000" stroke-width="3.0"/>
<line x1="2085.0" y1="35.0" x2="2085.0" y2="724.8" stroke="#000" stroke-width="4.5"/>
<line x1="1186.0" y1="723.0" x2="1186.0" y2="715.5" stroke="#000" stroke-width="2.8"/>
<line x1="1283.3" y1="723.0" x2="1283.3" y2="710.0" stroke="#000" stroke-width="2.8"/>
<text x="1283.3" y="762.0" class="tk" text-anchor="middle" textLength="49" lengthAdjust="spacingAndGlyphs">16.0</text>
<line x1="1380.0" y1="723.0" x2="1380.0" y2="715.5" stroke="#000" stroke-width="2.8"/>
<line x1="1475.7" y1="723.0" x2="1475.7" y2="710.0" stroke="#000" stroke-width="2.8"/>
<text x="1475.7" y="762.0" class="tk" text-anchor="middle" textLength="49" lengthAdjust="spacingAndGlyphs">16.5</text>
<line x1="1570.7" y1="723.0" x2="1570.7" y2="715.5" stroke="#000" stroke-width="2.8"/>
<line x1="1667.3" y1="723.0" x2="1667.3" y2="710.0" stroke="#000" stroke-width="2.8"/>
<text x="1667.3" y="762.0" class="tk" text-anchor="middle" textLength="49" lengthAdjust="spacingAndGlyphs">17.0</text>
<line x1="1806.2" y1="723.0" x2="1806.2" y2="710.0" stroke="#000" stroke-width="2.8"/>
<text x="1806.2" y="762.0" class="tk" text-anchor="middle" textLength="49" lengthAdjust="spacingAndGlyphs">18.5</text>
<line x1="1865.2" y1="723.0" x2="1865.2" y2="715.5" stroke="#000" stroke-width="2.8"/>
<line x1="1922.2" y1="723.0" x2="1922.2" y2="710.0" stroke="#000" stroke-width="2.8"/>
<text x="1922.2" y="762.0" class="tk" text-anchor="middle" textLength="49" lengthAdjust="spacingAndGlyphs">19.0</text>
<line x1="1981.0" y1="723.0" x2="1981.0" y2="715.5" stroke="#000" stroke-width="2.8"/>
<line x1="2039.8" y1="723.0" x2="2039.8" y2="710.0" stroke="#000" stroke-width="2.8"/>
<text x="2039.8" y="762.0" class="tk" text-anchor="middle" textLength="49" lengthAdjust="spacingAndGlyphs">19.5</text>
<line x1="1736.5" y1="50.5" x2="1753.5" y2="22.5" stroke="#000" stroke-width="3"/>
<line x1="1751.0" y1="50.5" x2="1768.0" y2="22.5" stroke="#000" stroke-width="3"/>
<line x1="1746.5" y1="36.5" x2="1758.0" y2="36.5" stroke="#fff" stroke-width="5"/>
<line x1="1736.5" y1="737.0" x2="1753.5" y2="709.0" stroke="#000" stroke-width="3"/>
<line x1="1751.0" y1="737.0" x2="1768.0" y2="709.0" stroke="#000" stroke-width="3"/>
<line x1="1746.5" y1="723.0" x2="1758.0" y2="723.0" stroke="#fff" stroke-width="5"/>
<line x1="1532.7" y1="90.0" x2="1532.7" y2="723.0" stroke="#000" stroke-width="2.4" stroke-dasharray="12 2.5 2.5 2.5"/>
<line x1="1935.0" y1="316.0" x2="1935.0" y2="723.0" stroke="#000" stroke-width="5.5" stroke-dasharray="6 3 2 3"/>
<path d="M1168.0,352.1l2.5,-.5l2.5,-.6l2.5,-.6l2.5,-.6l2.5,-.6l2.5,-.6l2.5,-.7l2.5,-.7l2.5,-.7l2.5,-.7l2.5,-.8l2.5,-.7l2.5,-.8l2.5,-.8l2.5,-.8l2.5,-.8l2.5,-.9l2.5,-.9l2.5,-.9l2.5,-1l2.5,-.9l2.5,-1l2.6,-1.1l2.5,-1l2.5,-1.1l2.5,-1.1l2.5,-1.1l2.5,-1.1l2.5,-1.2l2.5,-1.2l2.5,-1.2l2.5,-1.2l2.5,-1.3l2.5,-1.3l2.5,-1.3l2.5,-1.4l2.5,-1.4l2.5,-1.4l2.5,-1.4l2.5,-1.5l2.5,-1.5l2.5,-1.6l2.5,-1.6l2.5,-1.7l2.5,-1.6l2.5,-1.7l2.5,-1.8l2.5,-1.7l2.5,-1.7l2.5,-1.6l2.5,-1.7l2.5,-1.6l2.5,-1.6l2.5,-1.6l2.5,-1.7l2.5,-1.7l2.5,-1.8l2.5,-2l2.5,-2.1l2.5,-2.3l2.5,-2.4l2.5,-2.5l2.5,-2.6l2.5,-2.6l2.5,-2.6l2.5,-2.5l2.5,-2.6l2.5,-2.4l2.5,-2.5l2.6,-2.5l2.5,-2.5l2.5,-2.6l2.5,-2.8l2.5,-2.9l2.5,-3l2.5,-3.1l2.5,-3.3l2.5,-3.3l2.5,-3.4l2.5,-3.5l2.5,-3.6l2.5,-3.6l2.5,-3.7l2.5,-3.7l2.5,-3.9l2.5,-4l2.5,-4l2.5,-4.2l2.5,-4.3l2.5,-4.4l2.5,-4.3l2.5,-4.1l2.5,-3.9l2.5,-3.7l2.5,-3.5l2.5,-3.4l2.5,-3.2l2.5,-3.2l2.5,-3.2l2.5,-3.3l2.5,-3.3l2.5,-3.5l2.5,-3.4l2.5,-3.2l2.5,-3.1l2.5,-2.8l2.5,-2.4l2.5,-2.3l2.5,-2l2.5,-1.9l2.5,-1.7l2.5,-1.5l2.5,-1.1l2.5,-.9l2.6,-.6l2.5,-.4l2.5,-.3l2.5,-.2l2.5,-.1l2.5,0l2.5,.1l2.5,.2l2.5,.3l2.5,.6l2.5,.9l2.5,1.1l2.5,1.5l2.5,1.8l2.5,1.9l2.5,2.1l2.5,2.1l2.5,2.4l2.5,2.6l2.5,2.8l2.5,3.1l2.5,3.2l2.5,3.5l2.5,3.5l2.5,3.7l2.5,3.9l2.5,4l2.5,4.2l2.5,4.4l2.5,4.6l2.5,4.6l2.5,4.8l2.5,4.8l2.5,5l2.5,5.1l2.5,5.2l2.5,5.2l2.5,5.2l2.5,5.3l2.5,5.2l2.5,5.3l2.5,5.3l2.5,5.2l2.5,5.2l2.5,5.2l2.5,5l2.5,4.9l2.6,4.9l2.5,4.8l2.5,4.7l2.5,4.7l2.5,4.5l2.5,4.5l2.5,4.5l2.5,4.3l2.5,4.3l2.5,4.1l2.5,3.9l2.5,3.8l2.5,3.6l2.5,3.5l2.5,3.3l2.5,3.2l2.5,3.1l2.5,2.8l2.5,2.7l2.5,2.6l2.5,2.5l2.5,2.3l2.5,2.1l2.5,2l2.5,1.7l2.5,1.6l2.5,1.5l2.5,1.3l2.5,1.3l2.5,1.1l2.5,1l2.5,1l2.5,.9l2.5,.8l2.5,.8l2.5,.8l2.5,.7l2.5,.7l2.5,.5l2.5,.5l2.5,.4l2.5,.3l2.5,.3l2.5,.2l2.5,.3l2.6,.2l2.5,.1l2.5,.2l2.5,.1l2.5,.1l2.5,0l2.5,.1l2.5,0l2.5,0l2.5,.1l2.5,0l2.5,0l2.5,0l2.5,0l2.5,0l2.5,.1l2.5,0l2.5,0l2.5,0l2.5,0l2.5,0l2.5,0l2.5,0l2.5,0" class="cv"/>
<path d="M1760.6,371.7l2.5,-.8l2.5,-.7l2.5,-.8l2.5,-.7l2.5,-.8l2.5,-.7l2.5,-.8l2.5,-.7l2.5,-.7l2.5,-.8l2.5,-.7l2.5,-.7l2.5,-.7l2.5,-.7l2.5,-.6l2.5,-.7l2.5,-.7l2.5,-.6l2.5,-.7l2.5,-.7l2.5,-.6l2.5,-.7l2.5,-.7l2.5,-.7l2.5,-.7l2.5,-.8l2.5,-.8l2.5,-.8l2.5,-.9l2.5,-.9l2.5,-.9l2.5,-1l2.5,-.9l2.5,-.9l2.5,-.8l2.5,-.8l2.5,-.6l2.5,-.6l2.5,-.6l2.5,-.4l2.5,-.5l2.5,-.5l2.5,-.4l2.5,-.3l2.5,-.4l2.5,-.3l2.5,-.2l2.5,-.2l2.5,-.1l2.5,0l2.5,.1l2.5,.1l2.5,.2l2.5,.3l2.5,.3l2.5,.3l2.5,.4l2.5,.5l2.5,.6l2.5,.7l2.5,.9l2.5,.9l2.5,1.1l2.5,1.1l2.4,1.2l2.5,1.2l2.5,1.2l2.5,1.1l2.5,1.2l2.5,1.1l2.5,1.1l2.5,1.2l2.5,1.1l2.5,1.2l2.5,1.2l2.5,1.2l2.5,1.1l2.5,1.2l2.5,1.2l2.5,1.2l2.5,1.3l2.5,1.2l2.5,1.3l2.5,1.4l2.5,1.3l2.5,1.3l2.5,1.3l2.5,1.2l2.5,1.1l2.5,1l2.5,.8l2.5,.7l2.5,.6l2.5,.5l2.5,.5l2.5,.4l2.5,.4l2.5,.4l2.5,.3l2.5,.3l2.5,.2l2.5,.2l2.5,.2l2.5,.1l2.5,.1l2.5,.1l2.5,0l2.5,.1l2.5,.1l2.5,0l2.5,.1l2.5,0l2.5,.1l2.5,0l2.5,.1l2.5,0l2.5,.1l2.5,0l2.5,0l2.5,.1l2.5,0l2.5,0l2.5,0l2.5,.1l2.5,0l2.5,0l2.5,0l2.5,0l2.5,0" class="cv"/>
<path d="M1168.0,436.8l2.5,-.7l2.5,-.7l2.5,-.7l2.5,-.7l2.5,-.8l2.5,-.7l2.5,-.8l2.5,-.8l2.5,-.9l2.5,-.8l2.5,-.9l2.5,-.9l2.5,-.9l2.5,-.9l2.5,-.9l2.5,-1l2.5,-1l2.5,-.9l2.5,-1l2.5,-1l2.5,-1.1l2.5,-1l2.6,-1.1l2.5,-1.1l2.5,-1.1l2.5,-1.1l2.5,-1.2l2.5,-1.2l2.5,-1.2l2.5,-1.3l2.5,-1.3l2.5,-1.3l2.5,-1.4l2.5,-1.5l2.5,-1.5l2.5,-1.6l2.5,-1.7l2.5,-1.8l2.5,-2l2.5,-2.1l2.5,-2.2l2.5,-2.4l2.5,-2.6l2.5,-2.6l2.5,-2.8l2.5,-2.9l2.5,-2.9l2.5,-2.9l2.5,-3l2.5,-3.1l2.5,-3.1l2.5,-3.1l2.5,-3.3l2.5,-3.2l2.5,-3.4l2.5,-3.4l2.5,-3.4l2.5,-3.4l2.5,-3.5l2.5,-3.5l2.5,-3.6l2.5,-3.6l2.5,-3.6l2.5,-3.7l2.5,-3.7l2.5,-3.7l2.5,-3.7l2.5,-3.7l2.5,-3.7l2.6,-3.7l2.5,-3.7l2.5,-3.7l2.5,-3.8l2.5,-3.7l2.5,-3.7l2.5,-3.7l2.5,-3.6l2.5,-3.7l2.5,-3.6l2.5,-3.5l2.5,-3.5l2.5,-3.6l2.5,-3.4l2.5,-3.5l2.5,-3.4l2.5,-3.4l2.5,-3.2l2.5,-3.2l2.5,-3.1l2.5,-2.9l2.5,-3l2.5,-2.8l2.5,-2.8l2.5,-2.7l2.5,-2.7l2.5,-2.5l2.5,-2.3l2.5,-2.2l2.5,-2.1l2.5,-1.8l2.5,-1.8l2.5,-1.7l2.5,-1.6l2.5,-1.4l2.5,-1.2l2.5,-1l2.5,-.6l2.5,-.4l2.5,-.1l2.5,0l2.5,.2l2.5,.1l2.5,.3l2.5,.3l2.6,.5l2.5,.6l2.5,1l2.5,1.4l2.5,1.9l2.5,2.1l2.5,2.4l2.5,2.6l2.5,2.6l2.5,2.8l2.5,3l2.5,3.1l2.5,3.2l2.5,3.5l2.5,3.5l2.5,3.6l2.5,3.7l2.5,3.7l2.5,3.9l2.5,3.9l2.5,4l2.5,4.1l2.5,4.2l2.5,4.4l2.5,4.5l2.5,4.8l2.5,4.9l2.5,5.1l2.5,5.2l2.5,5.3l2.5,5.1l2.5,5.1l2.5,5l2.5,4.9l2.5,4.8l2.5,4.8l2.5,4.8l2.5,4.7l2.5,4.8l2.5,4.7l2.5,4.7l2.5,4.6l2.5,4.7l2.5,4.6l2.5,4.6l2.5,4.6l2.5,4.7l2.6,4.6l2.5,4.7l2.5,4.5l2.5,4.4l2.5,4.1l2.5,3.8l2.5,3.5l2.5,3.2l2.5,2.9l2.5,2.8l2.5,2.6l2.5,2.4l2.5,2.2l2.5,2.1l2.5,2l2.5,1.8l2.5,1.7l2.5,1.6l2.5,1.5l2.5,1.3l2.5,1.3l2.5,1.3l2.5,1.2l2.5,1.1l2.5,1.1l2.5,1l2.5,1l2.5,.8l2.5,.8l2.5,.6l2.5,.5l2.5,.5l2.5,.4l2.5,.4l2.5,.3l2.5,.3l2.5,.2l2.5,.1l2.5,.1l2.5,.1l2.5,0l2.5,0l2.5,.1l2.5,0l2.5,0l2.6,0l2.5,.1l2.5,0l2.5,0l2.5,0l2.5,0l2.5,.1l2.5,0l2.5,0l2.5,0l2.5,0l2.5,0l2.5,0l2.5,.1l2.5,0l2.5,0l2.5,0l2.5,0l2.5,0l2.5,0l2.5,0l2.5,0l2.5,0l2.5,0" class="cv"/>
<path d="M1760.6,446.3l2.5,-.8l2.5,-.8l2.5,-.8l2.5,-.8l2.5,-.9l2.5,-.9l2.5,-.9l2.5,-.9l2.5,-.9l2.5,-.9l2.5,-1l2.5,-1l2.5,-1l2.5,-1l2.5,-1.1l2.5,-1l2.5,-1.1l2.5,-1.2l2.5,-1.1l2.5,-1.1l2.5,-1.1l2.5,-1.1l2.5,-1.1l2.5,-1.1l2.5,-1.1l2.5,-1.2l2.5,-1.1l2.5,-1.1l2.5,-1.1l2.5,-1.1l2.5,-.9l2.5,-.9l2.5,-.8l2.5,-.8l2.5,-.8l2.5,-.7l2.5,-.7l2.5,-.6l2.5,-.5l2.5,-.4l2.5,-.3l2.5,-.2l2.5,-.1l2.5,0l2.5,0l2.5,0l2.5,0l2.5,0l2.5,0l2.5,0l2.5,.2l2.5,.2l2.5,.4l2.5,.7l2.5,.9l2.5,1l2.5,1.2l2.5,1.2l2.5,1.3l2.5,1.3l2.5,1.2l2.5,1.2l2.5,1.2l2.5,1.3l2.4,1.2l2.5,1.3l2.5,1.3l2.5,1.3l2.5,1.2l2.5,1.3l2.5,1.2l2.5,1.2l2.5,1.2l2.5,1.2l2.5,1.2l2.5,1.2l2.5,1.1l2.5,1.2l2.5,1l2.5,1.1l2.5,1l2.5,1l2.5,.9l2.5,1l2.5,.9l2.5,.9l2.5,.8l2.5,.9l2.5,.7l2.5,.7l2.5,.7l2.5,.7l2.5,.5l2.5,.6l2.5,.6l2.5,.5l2.5,.6l2.5,.5l2.5,.4l2.5,.4l2.5,.3l2.5,.2l2.5,.2l2.5,0l2.5,.1l2.5,0l2.5,0l2.5,0l2.5,0l2.5,0l2.5,0l2.5,0l2.5,-.1l2.5,0l2.5,0l2.5,0l2.5,-.1l2.5,0l2.5,0l2.5,-.1l2.5,0l2.5,-.1l2.5,-.1l2.5,0l2.5,-.1l2.5,-.1l2.5,-.1l2.5,-.1l2.5,-.1" class="cv"/>
<path d="M1168.0,529.5l2.5,-.6l2.5,-.7l2.5,-.6l2.5,-.6l2.5,-.6l2.5,-.6l2.5,-.6l2.5,-.6l2.5,-.6l2.5,-.6l2.5,-.6l2.5,-.6l2.5,-.6l2.5,-.5l2.5,-.6l2.5,-.5l2.5,-.6l2.5,-.5l2.5,-.5l2.5,-.5l2.5,-.5l2.5,-.4l2.6,-.5l2.5,-.4l2.5,-.4l2.5,-.4l2.5,-.5l2.5,-.4l2.5,-.4l2.5,-.4l2.5,-.4l2.5,-.5l2.5,-.5l2.5,-.5l2.5,-.5l2.5,-.5l2.5,-.6l2.5,-.6l2.5,-.6l2.5,-.7l2.5,-.8l2.5,-.9l2.5,-1l2.5,-1l2.5,-1l2.5,-1.1l2.5,-1.1l2.5,-1l2.5,-1.1l2.5,-1.1l2.5,-1.2l2.5,-1.2l2.5,-1.2l2.5,-1.4l2.5,-1.4l2.5,-1.5l2.5,-1.5l2.5,-1.6l2.5,-1.7l2.5,-1.8l2.5,-1.9l2.5,-2l2.5,-2.1l2.5,-2.2l2.5,-2.3l2.5,-2.5l2.5,-2.6l2.5,-2.7l2.5,-2.7l2.6,-2.9l2.5,-3l2.5,-3.1l2.5,-3.2l2.5,-3.4l2.5,-3.6l2.5,-3.8l2.5,-4.1l2.5,-4.2l2.5,-4.5l2.5,-4.6l2.5,-4.8l2.5,-4.8l2.5,-5l2.5,-5l2.5,-5.2l2.5,-5.4l2.5,-5.7l2.5,-5.9l2.5,-6.3l2.5,-6.6l2.5,-6.6l2.5,-6.6l2.5,-6.1l2.5,-5.7l2.5,-5.2l2.5,-4.8l2.5,-4.5l2.5,-4.2l2.5,-4.1l2.5,-3.8l2.5,-3.5l2.5,-3.5l2.5,-3.2l2.5,-3.1l2.5,-3l2.5,-2.9l2.5,-2.8l2.5,-2.8l2.5,-2.7l2.5,-2.5l2.5,-2.5l2.5,-2.3l2.5,-2.2l2.5,-2l2.6,-1.9l2.5,-1.7l2.5,-1.5l2.5,-1.3l2.5,-1.1l2.5,-.9l2.5,-.7l2.5,-.5l2.5,-.3l2.5,-.1l2.5,0l2.5,.1l2.5,.2l2.5,.3l2.5,.4l2.5,.5l2.5,.8l2.5,1.2l2.5,1.7l2.5,2.1l2.5,2.4l2.5,2.8l2.5,2.8l2.5,2.9l2.5,2.9l2.5,3l2.5,3.1l2.5,3.3l2.5,3.5l2.5,3.7l2.5,4.1l2.5,4.4l2.5,4.7l2.5,5.1l2.5,5.5l2.5,5.7l2.5,5.9l2.5,6.2l2.5,6.3l2.5,6.5l2.5,6.5l2.5,6.5l2.5,6.3l2.5,6.3l2.5,6.2l2.5,6.2l2.5,6.2l2.6,6.3l2.5,6.2l2.5,6l2.5,5.8l2.5,5.4l2.5,5l2.5,4.6l2.5,4.4l2.5,4.2l2.5,4.1l2.5,3.9l2.5,3.9l2.5,3.7l2.5,3.7l2.5,3.6l2.5,3.4l2.5,3.3l2.5,3.1l2.5,2.9l2.5,2.8l2.5,2.7l2.5,2.5l2.5,2.4l2.5,2.4l2.5,2.3l2.5,2.3l2.5,2.2l2.5,2.1l2.5,2.1l2.5,1.8l2.5,1.6l2.5,1.3l2.5,1.2l2.5,1.1l2.5,1l2.5,.9l2.5,.8l2.5,.7l2.5,.6l2.5,.4l2.5,.3l2.5,.2l2.5,.2l2.5,.1l2.5,0l2.6,.1l2.5,.1l2.5,0l2.5,.1l2.5,0l2.5,.1l2.5,0l2.5,.1l2.5,0l2.5,.1l2.5,0l2.5,0l2.5,.1l2.5,0l2.5,0l2.5,0l2.5,0l2.5,.1l2.5,0l2.5,0l2.5,0l2.5,0l2.5,0l2.5,0" class="cv"/>
<path d="M1760.6,527.8l2.5,-.1l2.5,0l2.5,-.1l2.5,-.2l2.5,-.1l2.5,-.2l2.5,-.2l2.5,-.3l2.5,-.3l2.5,-.4l2.5,-.4l2.5,-.6l2.5,-.8l2.5,-.8l2.5,-.9l2.5,-1l2.5,-1l2.5,-1l2.5,-1.1l2.5,-1l2.5,-1.2l2.5,-1.1l2.5,-1.2l2.5,-1.3l2.5,-1.3l2.5,-1.3l2.5,-1.3l2.5,-1.4l2.5,-1.4l2.5,-1.4l2.5,-1.4l2.5,-1.5l2.5,-1.5l2.5,-1.5l2.5,-1.5l2.5,-1.4l2.5,-1.5l2.5,-1.4l2.5,-1.4l2.5,-1.5l2.5,-1.5l2.5,-1.5l2.5,-1.5l2.5,-1.3l2.5,-1.3l2.5,-1l2.5,-.8l2.5,-.6l2.5,-.4l2.5,-.3l2.5,-.2l2.5,-.2l2.5,0l2.5,0l2.5,.1l2.5,.3l2.5,.4l2.5,.5l2.5,.7l2.5,.7l2.5,.8l2.5,.9l2.5,.9l2.5,1l2.4,1.1l2.5,1.2l2.5,1.2l2.5,1.3l2.5,1.2l2.5,1.3l2.5,1.3l2.5,1.3l2.5,1.3l2.5,1.4l2.5,1.4l2.5,1.3l2.5,1.4l2.5,1.4l2.5,1.3l2.5,1.3l2.5,1.3l2.5,1.3l2.5,1.2l2.5,1.3l2.5,1.3l2.5,1.2l2.5,1.2l2.5,1.1l2.5,1.2l2.5,1l2.5,1l2.5,1l2.5,.9l2.5,.9l2.5,.9l2.5,.9l2.5,.9l2.5,.8l2.5,.8l2.5,.8l2.5,.7l2.5,.7l2.5,.6l2.5,.6l2.5,.4l2.5,.4l2.5,.3l2.5,.2l2.5,.2l2.5,.2l2.5,.1l2.5,.2l2.5,.1l2.5,.1l2.5,.1l2.5,.1l2.5,.2l2.5,.1l2.5,0l2.5,.1l2.5,.1l2.5,.1l2.5,0l2.5,.1l2.5,0l2.5,0l2.5,.1l2.5,0l2.5,0" class="cv"/>
<path d="M1168.0,610.7l2.5,-.1l2.5,-.2l2.5,-.1l2.5,-.2l2.5,-.1l2.5,-.2l2.5,-.2l2.5,-.2l2.5,-.2l2.5,-.2l2.5,-.2l2.5,-.2l2.5,-.3l2.5,-.2l2.5,-.2l2.5,-.3l2.5,-.3l2.5,-.2l2.5,-.3l2.5,-.3l2.5,-.4l2.5,-.3l2.6,-.4l2.5,-.4l2.5,-.4l2.5,-.4l2.5,-.4l2.5,-.5l2.5,-.4l2.5,-.4l2.5,-.5l2.5,-.4l2.5,-.4l2.5,-.5l2.5,-.4l2.5,-.4l2.5,-.3l2.5,-.4l2.5,-.3l2.5,-.3l2.5,-.3l2.5,-.3l2.5,-.3l2.5,-.2l2.5,-.3l2.5,-.3l2.5,-.4l2.5,-.4l2.5,-.4l2.5,-.4l2.5,-.5l2.5,-.5l2.5,-.5l2.5,-.6l2.5,-.5l2.5,-.6l2.5,-.7l2.5,-.6l2.5,-.7l2.5,-.7l2.5,-.8l2.5,-.8l2.5,-.9l2.5,-.9l2.5,-1l2.5,-1.1l2.5,-1.3l2.5,-1.4l2.5,-1.5l2.6,-1.7l2.5,-1.9l2.5,-1.9l2.5,-2.1l2.5,-2.1l2.5,-2.2l2.5,-2.3l2.5,-2.5l2.5,-2.7l2.5,-2.8l2.5,-3.1l2.5,-3.4l2.5,-3.6l2.5,-3.9l2.5,-4.1l2.5,-4.2l2.5,-4.3l2.5,-4.4l2.5,-4.3l2.5,-4.5l2.5,-4.5l2.5,-4.6l2.5,-4.6l2.5,-4.6l2.5,-4.6l2.5,-4.6l2.5,-4.6l2.5,-4.7l2.5,-4.9l2.5,-4.9l2.5,-5.2l2.5,-5.4l2.5,-5.7l2.5,-5.7l2.5,-5.9l2.5,-5.8l2.5,-5.6l2.5,-5.5l2.5,-5.3l2.5,-5.2l2.5,-5.1l2.5,-5l2.5,-4.8l2.5,-4.7l2.5,-4.5l2.6,-4.5l2.5,-4.3l2.5,-4.2l2.5,-4.1l2.5,-4.1l2.5,-4l2.5,-3.8l2.5,-3.5l2.5,-3.1l2.5,-2.8l2.5,-2.5l2.5,-2.3l2.5,-2l2.5,-1.6l2.5,-1.2l2.5,-.9l2.5,-.5l2.5,-.4l2.5,-.2l2.5,-.1l2.5,0l2.5,.1l2.5,.2l2.5,.3l2.5,.8l2.5,1.2l2.5,1.7l2.5,2.3l2.5,2.7l2.5,3.1l2.5,3.3l2.5,3.7l2.5,4l2.5,4.2l2.5,4.2l2.5,4.1l2.5,4l2.5,4.1l2.5,4.3l2.5,4.7l2.5,5.1l2.5,5.2l2.5,5.1l2.5,5.1l2.5,4.9l2.5,5l2.5,5l2.6,5.1l2.5,5.2l2.5,5.3l2.5,5.4l2.5,5.4l2.5,5.6l2.5,5.6l2.5,5.6l2.5,5.7l2.5,5.8l2.5,5.9l2.5,5.8l2.5,5.7l2.5,5.5l2.5,5.3l2.5,5l2.5,4.9l2.5,4.7l2.5,4.5l2.5,4.3l2.5,4.2l2.5,4.1l2.5,3.9l2.5,3.7l2.5,3.7l2.5,3.4l2.5,3.2l2.5,3l2.5,2.9l2.5,2.6l2.5,2.5l2.5,2.3l2.5,2.1l2.5,1.9l2.5,1.8l2.5,1.5l2.5,1.4l2.5,1.2l2.5,1.2l2.5,.9l2.5,.8l2.5,.7l2.5,.5l2.5,.5l2.5,.5l2.6,.4l2.5,.3l2.5,.3l2.5,.3l2.5,.1l2.5,.2l2.5,.1l2.5,.1l2.5,0l2.5,.1l2.5,0l2.5,.1l2.5,0l2.5,0l2.5,.1l2.5,0l2.5,0l2.5,0l2.5,.1l2.5,0l2.5,0l2.5,0l2.5,0l2.5,0" class="cv"/>
<path d="M1761.2,597.5l2.5,-.2l2.5,-.2l2.5,-.2l2.5,-.4l2.5,-.4l2.5,-.4l2.5,-.5l2.5,-.6l2.5,-.5l2.5,-.7l2.5,-.6l2.5,-.8l2.5,-.8l2.5,-.9l2.5,-1l2.5,-1.2l2.5,-1.2l2.4,-1.3l2.5,-1.4l2.5,-1.4l2.5,-1.5l2.5,-1.5l2.5,-1.5l2.5,-1.6l2.5,-1.6l2.5,-1.7l2.5,-1.8l2.5,-1.8l2.5,-1.9l2.5,-2l2.5,-1.9l2.5,-2l2.5,-2l2.5,-1.9l2.4,-2l2.5,-1.9l2.5,-1.9l2.5,-2l2.5,-2l2.5,-2l2.5,-1.9l2.5,-2l2.5,-1.9l2.5,-1.8l2.5,-1.8l2.5,-1.7l2.5,-1.7l2.5,-1.5l2.5,-1.6l2.5,-1.4l2.5,-1.4l2.4,-1.3l2.5,-1.2l2.5,-1.1l2.5,-.9l2.5,-.7l2.5,-.6l2.5,-.5l2.5,-.3l2.5,-.2l2.5,0l2.5,.1l2.5,.3l2.5,.5l2.5,.6l2.5,.9l2.5,1.1l2.5,1.4l2.4,1.7l2.5,1.9l2.5,1.9l2.5,2l2.5,2.1l2.5,2.1l2.5,2.2l2.5,2.3l2.5,2.3l2.5,2.4l2.5,2.3l2.5,2.3l2.5,2.2l2.5,2.3l2.5,2.2l2.5,2.2l2.5,2.2l2.5,2.2l2.4,2.1l2.5,2.2l2.5,2l2.5,1.9l2.5,1.8l2.5,1.7l2.5,1.6l2.5,1.5l2.5,1.5l2.5,1.4l2.5,1.3l2.5,1.3l2.5,1.2l2.5,1.2l2.5,1.1l2.5,1l2.5,1l2.4,.8l2.5,.8l2.5,.7l2.5,.7l2.5,.6l2.5,.6l2.5,.5l2.5,.5l2.5,.4l2.5,.4l2.5,.3l2.5,.2l2.5,.2l2.5,.1l2.5,0l2.5,.1l2.5,.1l2.4,0l2.5,0l2.5,.1l2.5,0l2.5,0l2.5,.1l2.5,0l2.5,0l2.5,0" class="cv"/>
<path d="M1168.0,667.2l2.5,-.3l2.5,-.2l2.5,-.3l2.5,-.3l2.5,-.3l2.5,-.4l2.5,-.3l2.5,-.4l2.5,-.4l2.5,-.4l2.5,-.4l2.5,-.5l2.5,-.5l2.5,-.4l2.5,-.6l2.5,-.5l2.5,-.6l2.5,-.7l2.5,-.7l2.5,-.8l2.5,-.7l2.5,-.8l2.6,-.8l2.5,-.8l2.5,-.8l2.5,-.8l2.5,-.8l2.5,-.7l2.5,-.7l2.5,-.6l2.5,-.6l2.5,-.5l2.5,-.4l2.5,-.4l2.5,-.3l2.5,-.3l2.5,-.4l2.5,-.3l2.5,-.5l2.5,-.5l2.5,-.6l2.5,-.8l2.5,-.8l2.5,-1l2.5,-.9l2.5,-1l2.5,-.9l2.5,-.9l2.5,-.8l2.5,-.9l2.5,-.9l2.5,-.9l2.5,-.9l2.5,-.9l2.5,-1l2.5,-1l2.5,-1.1l2.5,-1.1l2.5,-1.2l2.5,-1.2l2.5,-1.3l2.5,-1.3l2.5,-1.4l2.5,-1.4l2.5,-1.5l2.5,-1.6l2.5,-1.7l2.5,-1.7l2.5,-1.9l2.6,-1.9l2.5,-2.1l2.5,-2.2l2.5,-2.2l2.5,-2.4l2.5,-2.5l2.5,-2.6l2.5,-2.8l2.5,-2.8l2.5,-3l2.5,-3.1l2.5,-3.1l2.5,-3.3l2.5,-3.5l2.5,-3.5l2.5,-3.7l2.5,-3.7l2.5,-3.9l2.5,-4l2.5,-4.2l2.5,-4.3l2.5,-4.3l2.5,-4.4l2.5,-4.4l2.5,-4.5l2.5,-4.5l2.5,-4.6l2.5,-4.5l2.5,-4.5l2.5,-4.3l2.5,-4.2l2.5,-4l2.5,-3.9l2.5,-3.8l2.5,-3.7l2.5,-3.7l2.5,-3.7l2.5,-3.7l2.5,-3.8l2.5,-3.8l2.5,-3.8l2.5,-3.8l2.5,-3.7l2.5,-3.7l2.5,-3.6l2.6,-3.6l2.5,-3.5l2.5,-3.3l2.5,-3.1l2.5,-2.8l2.5,-2.4l2.5,-2.1l2.5,-1.8l2.5,-1.6l2.5,-1.5l2.5,-1.3l2.5,-1.2l2.5,-1.1l2.5,-1l2.5,-.8l2.5,-.7l2.5,-.3l2.5,-.1l2.5,.3l2.5,.6l2.5,.9l2.5,1l2.5,1.3l2.5,1.4l2.5,1.8l2.5,2l2.5,2.4l2.5,2.7l2.5,2.9l2.5,3.1l2.5,3.2l2.5,3.4l2.5,3.5l2.5,3.8l2.5,4l2.5,4.1l2.5,4.3l2.5,4.5l2.5,4.6l2.5,4.8l2.5,5l2.5,5.2l2.5,5.2l2.5,5.2l2.5,5.2l2.5,5.2l2.5,5.1l2.6,5l2.5,5.1l2.5,5l2.5,5l2.5,5l2.5,5.1l2.5,5l2.5,5.1l2.5,5l2.5,4.9l2.5,4.9l2.5,4.8l2.5,4.8l2.5,4.8l2.5,4.6l2.5,4.4l2.5,4.3l2.5,3.9l2.5,3.7l2.5,3.5l2.5,3.2l2.5,3l2.5,2.9l2.5,2.7l2.5,2.5l2.5,2.4l2.5,2.3l2.5,2.1l2.5,2l2.5,1.8l2.5,1.7l2.5,1.4l2.5,1.4l2.5,1.2l2.5,1.1l2.5,.9l2.5,.8l2.5,.7l2.5,.5l2.5,.4l2.5,.3l2.5,.3l2.5,.3l2.5,.3l2.5,.2l2.6,.2l2.5,.2l2.5,.2l2.5,.2l2.5,.2l2.5,.2l2.5,.2l2.5,.2l2.5,.2l2.5,.2l2.5,.2l2.5,.2l2.5,.3l2.5,.2l2.5,.2l2.5,.1l2.5,.2l2.5,.2l2.5,.2l2.5,.2l2.5,.2l2.5,.2l2.5,.1l2.5,.2" class="cv"/>
<path d="M1761.2,663.0l2.5,-.1l2.5,-.1l2.5,-.2l2.5,-.2l2.5,-.2l2.5,-.3l2.5,-.4l2.5,-.3l2.5,-.4l2.5,-.4l2.5,-.5l2.5,-.5l2.5,-.4l2.5,-.6l2.5,-.6l2.5,-.7l2.5,-.7l2.4,-.9l2.5,-.9l2.5,-1l2.5,-1l2.5,-1.1l2.5,-1.1l2.5,-1.2l2.5,-1.2l2.5,-1.2l2.5,-1.2l2.5,-1.2l2.5,-1.3l2.5,-1.3l2.5,-1.5l2.5,-1.4l2.5,-1.5l2.5,-1.6l2.4,-1.5l2.5,-1.5l2.5,-1.5l2.5,-1.5l2.5,-1.4l2.5,-1.5l2.5,-1.4l2.5,-1.4l2.5,-1.5l2.5,-1.4l2.5,-1.4l2.5,-1.3l2.5,-1.2l2.5,-1.1l2.5,-1l2.5,-.9l2.5,-.7l2.4,-.6l2.5,-.6l2.5,-.6l2.5,-.5l2.5,-.4l2.5,-.3l2.5,-.3l2.5,-.1l2.5,-.1l2.5,.1l2.5,.1l2.5,.2l2.5,.3l2.5,.4l2.5,.5l2.5,.8l2.5,1l2.4,1.2l2.5,1.4l2.5,1.4l2.5,1.5l2.5,1.5l2.5,1.4l2.5,1.5l2.5,1.5l2.5,1.5l2.5,1.6l2.5,1.5l2.5,1.5l2.5,1.5l2.5,1.5l2.5,1.4l2.5,1.4l2.5,1.3l2.5,1.4l2.4,1.3l2.5,1.3l2.5,1.3l2.5,1.2l2.5,1.2l2.5,1.2l2.5,1.1l2.5,1.1l2.5,1.1l2.5,1l2.5,1l2.5,1l2.5,.9l2.5,1l2.5,.9l2.5,.9l2.5,.9l2.4,.8l2.5,.8l2.5,.7l2.5,.7l2.5,.6l2.5,.6l2.5,.5l2.5,.5l2.5,.4l2.5,.5l2.5,.5l2.5,.4l2.5,.4l2.5,.4l2.5,.4l2.5,.4l2.5,.4l2.4,.3l2.5,.3l2.5,.3l2.5,.2l2.5,.2l2.5,.2l2.5,.1l2.5,.2l2.5,0" class="cv"/>
<text x="1199.0" y="113.3" class="pl" >(b)</text>
<text x="1485.6" y="82.5" class="lb" textLength="121" lengthAdjust="spacingAndGlyphs">200/110</text>
<text x="1906.0" y="308.5" class="lb" textLength="56" lengthAdjust="spacingAndGlyphs">203</text>
<text x="1988.5" y="379.0" class="lb" textLength="89" lengthAdjust="spacingAndGlyphs">0 wt%</text>
<text x="1993.5" y="447.0" class="lb" textLength="89" lengthAdjust="spacingAndGlyphs">1 wt%</text>
<text x="1992.0" y="518.5" class="lb" textLength="90" lengthAdjust="spacingAndGlyphs">2 wt%</text>
<text x="1989.5" y="573.5" class="lb" textLength="88" lengthAdjust="spacingAndGlyphs">3 wt%</text>
<text x="1991.0" y="648.5" class="lb" textLength="91" lengthAdjust="spacingAndGlyphs">4 wt%</text>
<text x="0.0" y="0.0" class="ax" transform="translate(1109.7,471) rotate(-90)" textLength="196" lengthAdjust="spacingAndGlyphs">Intensity /a.u.</text>
<text x="1609.0" y="814.0" class="th" >2θ</text>
<line x1="108.0" y1="872.5" x2="1026.9" y2="872.5" stroke="#000" stroke-width="3.0"/>
<line x1="108.0" y1="1559.5" x2="1026.9" y2="1559.5" stroke="#000" stroke-width="3.5"/>
<line x1="108.0" y1="871.0" x2="108.0" y2="1561.0" stroke="#000" stroke-width="3.0"/>
<line x1="105.5" y1="874.0" x2="105.5" y2="1559.5" stroke="#888" stroke-width="2"/>
<line x1="1026.9" y1="871.0" x2="1026.9" y2="1561.2" stroke="#000" stroke-width="4.5"/>
<line x1="126.7" y1="1559.5" x2="126.7" y2="1552.0" stroke="#000" stroke-width="2.8"/>
<line x1="220.0" y1="1559.5" x2="220.0" y2="1546.5" stroke="#000" stroke-width="2.8"/>
<text x="220.0" y="1597.0" class="tk" text-anchor="middle" textLength="49" lengthAdjust="spacingAndGlyphs">16.0</text>
<line x1="314.0" y1="1559.5" x2="314.0" y2="1552.0" stroke="#000" stroke-width="2.8"/>
<line x1="406.7" y1="1559.5" x2="406.7" y2="1546.5" stroke="#000" stroke-width="2.8"/>
<text x="406.7" y="1597.0" class="tk" text-anchor="middle" textLength="49" lengthAdjust="spacingAndGlyphs">16.5</text>
<line x1="501.0" y1="1559.5" x2="501.0" y2="1552.0" stroke="#000" stroke-width="2.8"/>
<line x1="594.7" y1="1559.5" x2="594.7" y2="1546.5" stroke="#000" stroke-width="2.8"/>
<text x="594.7" y="1597.0" class="tk" text-anchor="middle" textLength="49" lengthAdjust="spacingAndGlyphs">17.0</text>
<line x1="733.7" y1="1559.5" x2="733.7" y2="1546.5" stroke="#000" stroke-width="2.8"/>
<text x="733.7" y="1597.0" class="tk" text-anchor="middle" textLength="49" lengthAdjust="spacingAndGlyphs">18.5</text>
<line x1="795.0" y1="1559.5" x2="795.0" y2="1552.0" stroke="#000" stroke-width="2.8"/>
<line x1="856.7" y1="1559.5" x2="856.7" y2="1546.5" stroke="#000" stroke-width="2.8"/>
<text x="856.7" y="1597.0" class="tk" text-anchor="middle" textLength="49" lengthAdjust="spacingAndGlyphs">19.0</text>
<line x1="916.7" y1="1559.5" x2="916.7" y2="1552.0" stroke="#000" stroke-width="2.8"/>
<line x1="978.3" y1="1559.5" x2="978.3" y2="1546.5" stroke="#000" stroke-width="2.8"/>
<text x="978.3" y="1597.0" class="tk" text-anchor="middle" textLength="49" lengthAdjust="spacingAndGlyphs">19.5</text>
<line x1="660.0" y1="886.5" x2="677.0" y2="858.5" stroke="#000" stroke-width="3"/>
<line x1="674.5" y1="886.5" x2="691.5" y2="858.5" stroke="#000" stroke-width="3"/>
<line x1="670.0" y1="872.5" x2="681.5" y2="872.5" stroke="#fff" stroke-width="5"/>
<line x1="660.0" y1="1573.5" x2="677.0" y2="1545.5" stroke="#000" stroke-width="3"/>
<line x1="674.5" y1="1573.5" x2="691.5" y2="1545.5" stroke="#000" stroke-width="3"/>
<line x1="670.0" y1="1559.5" x2="681.5" y2="1559.5" stroke="#fff" stroke-width="5"/>
<line x1="463.5" y1="937.0" x2="463.5" y2="1559.5" stroke="#000" stroke-width="2.3" stroke-dasharray="10.5 3.5 4 4"/>
<line x1="867.0" y1="1155.0" x2="867.0" y2="1559.5" stroke="#000" stroke-width="2.3" stroke-dasharray="10.5 3.5 4 4"/>
<path d="M110.0,1184.0l2.5,0l2.5,0l2.5,-.1l2.5,0l2.5,0l2.5,-.1l2.5,-.1l2.5,0l2.5,-.1l2.5,-.1l2.5,-.1l2.6,-.1l2.5,-.2l2.5,-.1l2.5,-.1l2.5,-.1l2.5,-.2l2.5,-.1l2.5,-.2l2.5,-.2l2.5,-.1l2.5,-.2l2.5,-.2l2.5,-.3l2.5,-.2l2.5,-.4l2.5,-.3l2.5,-.4l2.5,-.5l2.5,-.5l2.5,-.5l2.5,-.6l2.5,-.6l2.6,-.6l2.5,-.6l2.5,-.7l2.5,-.6l2.5,-.7l2.5,-.8l2.5,-.8l2.5,-.8l2.5,-1l2.5,-1l2.5,-1l2.5,-1.1l2.5,-1.2l2.5,-1.1l2.5,-1.2l2.5,-1.2l2.5,-1.3l2.5,-1.3l2.5,-1.4l2.5,-1.4l2.5,-1.5l2.5,-1.5l2.6,-1.7l2.5,-1.8l2.5,-1.9l2.5,-1.9l2.5,-2.1l2.5,-2.2l2.5,-2.3l2.5,-2.3l2.5,-2.4l2.5,-2.4l2.5,-2.4l2.5,-2.6l2.5,-2.6l2.5,-2.7l2.5,-2.8l2.5,-3l2.5,-3.1l2.5,-3.4l2.5,-3.6l2.5,-3.9l2.5,-4l2.5,-4.1l2.5,-4.2l2.6,-4.1l2.5,-4.2l2.5,-4.2l2.5,-4.3l2.5,-4.2l2.5,-4.3l2.5,-4.4l2.5,-4.4l2.5,-4.5l2.5,-4.5l2.5,-4.5l2.5,-4.6l2.5,-4.5l2.5,-4.5l2.5,-4.4l2.5,-4.5l2.5,-4.3l2.5,-4.3l2.5,-4.2l2.5,-4l2.5,-3.9l2.5,-3.6l2.6,-3.5l2.5,-3.3l2.5,-3.3l2.5,-3.1l2.5,-3.1l2.5,-3l2.5,-3l2.5,-2.9l2.5,-2.9l2.5,-2.7l2.5,-2.6l2.5,-2.5l2.5,-2.3l2.5,-2.3l2.5,-2.1l2.5,-2l2.5,-1.5l2.5,-1.1l2.5,-.7l2.5,-.3l2.5,-.2l2.5,0l2.6,0l2.5,0l2.5,.1l2.5,.4l2.5,.6l2.5,1.2l2.5,1.7l2.5,2.2l2.5,2.3l2.5,2.5l2.5,2.4l2.5,2.5l2.5,2.6l2.5,2.7l2.5,2.9l2.5,3l2.5,3.2l2.5,3.4l2.5,3.6l2.5,4l2.5,4.3l2.5,4.5l2.6,4.9l2.5,5l2.5,5.1l2.5,5.1l2.5,5.2l2.5,5.1l2.5,5.2l2.5,5.3l2.5,5.3l2.5,5.2l2.5,5.3l2.5,5.1l2.5,5.1l2.5,5l2.5,4.9l2.5,4.9l2.5,4.8l2.5,4.9l2.5,4.9l2.5,4.9l2.5,5l2.5,4.9l2.5,4.9l2.6,4.7l2.5,4.6l2.5,4.3l2.5,4l2.5,3.8l2.5,3.4l2.5,3.3l2.5,3.1l2.5,2.9l2.5,2.8l2.5,2.7l2.5,2.6l2.5,2.5l2.5,2.4l2.5,2.3l2.5,2.2l2.5,2l2.5,1.8l2.5,1.7l2.5,1.6l2.5,1.5l2.5,1.4l2.6,1.3l2.5,1.2l2.5,1.2l2.5,1l2.5,.9l2.5,.8l2.5,.8l2.5,.7l2.5,.6l2.5,.6l2.5,.5l2.5,.5l2.5,.5l2.5,.3l2.5,.3l2.5,.3l2.5,.2l2.5,.1l2.5,.2l2.5,.1l2.5,.2l2.5,.1l2.6,.1l2.5,.1l2.5,.1l2.5,.1l2.5,.1l2.5,.1l2.5,0l2.5,.1l2.5,0l2.5,.1l2.5,0l2.5,0" class="cv"/>
<path d="M683.8,1206.2l2.5,0l2.5,-.1l2.5,-.1l2.5,-.2l2.5,-.2l2.5,-.2l2.5,-.3l2.5,-.3l2.5,-.3l2.5,-.3l2.6,-.3l2.5,-.4l2.5,-.5l2.5,-.5l2.5,-.6l2.5,-.7l2.5,-.7l2.5,-.7l2.5,-.8l2.5,-.8l2.5,-.8l2.6,-.8l2.5,-.9l2.5,-.8l2.5,-.9l2.5,-.9l2.5,-1l2.5,-1l2.5,-.9l2.5,-1l2.5,-1l2.5,-1l2.6,-.9l2.5,-.9l2.5,-1l2.5,-.9l2.5,-.9l2.5,-.9l2.5,-1l2.5,-.9l2.5,-.9l2.5,-.8l2.5,-.8l2.6,-.7l2.5,-.7l2.5,-.7l2.5,-.5l2.5,-.6l2.5,-.5l2.5,-.5l2.5,-.5l2.5,-.3l2.5,-.3l2.5,-.1l2.6,-.1l2.5,.1l2.5,0l2.5,.1l2.5,.2l2.5,.1l2.5,.3l2.5,.3l2.5,.4l2.5,.6l2.5,.7l2.6,.7l2.5,.8l2.5,.9l2.5,.9l2.5,1.1l2.5,1l2.5,1.1l2.5,1.1l2.5,1.1l2.5,1.2l2.5,1.1l2.6,1.1l2.5,1.1l2.5,1.2l2.5,1.1l2.5,1.1l2.5,1.1l2.5,1.1l2.5,1.1l2.5,1.1l2.5,1.1l2.5,1.1l2.6,1l2.5,1l2.5,.9l2.5,.8l2.5,.8l2.5,.7l2.5,.6l2.5,.6l2.5,.6l2.5,.5l2.6,.5l2.5,.5l2.5,.4l2.5,.4l2.5,.3l2.5,.3l2.5,.2l2.5,.2l2.5,.2l2.5,.2l2.5,.2l2.6,.1l2.5,.2l2.5,.1l2.5,.1l2.5,.1l2.5,.1l2.5,0l2.5,.1l2.5,0l2.5,.1l2.5,0l2.6,.1l2.5,0l2.5,0l2.5,.1l2.5,0l2.5,0l2.5,.1l2.5,0l2.5,0l2.5,0l2.5,0l2.6,.1l2.5,0l2.5,0l2.5,0l2.5,0l2.5,0" class="cv"/>
<path d="M110.0,1295.0l2.5,-.3l2.5,-.4l2.5,-.3l2.5,-.4l2.5,-.3l2.5,-.4l2.5,-.4l2.5,-.4l2.5,-.5l2.5,-.4l2.5,-.4l2.6,-.5l2.5,-.4l2.5,-.5l2.5,-.5l2.5,-.5l2.5,-.5l2.5,-.5l2.5,-.5l2.5,-.5l2.5,-.5l2.5,-.6l2.5,-.5l2.5,-.6l2.5,-.5l2.5,-.6l2.5,-.6l2.5,-.7l2.5,-.6l2.5,-.6l2.5,-.7l2.5,-.7l2.5,-.7l2.6,-.7l2.5,-.7l2.5,-.7l2.5,-.8l2.5,-.7l2.5,-.8l2.5,-.8l2.5,-.8l2.5,-.9l2.5,-.8l2.5,-.9l2.5,-.9l2.5,-1l2.5,-.9l2.5,-1l2.5,-1l2.5,-1.1l2.5,-1l2.5,-1.1l2.5,-1.2l2.5,-1.1l2.5,-1.2l2.6,-1.2l2.5,-1.3l2.5,-1.2l2.5,-1.3l2.5,-1.3l2.5,-1.3l2.5,-1.4l2.5,-1.4l2.5,-1.4l2.5,-1.6l2.5,-1.6l2.5,-1.7l2.5,-1.8l2.5,-2l2.5,-2.1l2.5,-2.2l2.5,-2.4l2.5,-2.6l2.5,-2.8l2.5,-3.1l2.5,-3.4l2.5,-3.6l2.5,-4l2.6,-4l2.5,-4.3l2.5,-4.2l2.5,-4.3l2.5,-4.3l2.5,-4.4l2.5,-4.4l2.5,-4.5l2.5,-4.6l2.5,-4.6l2.5,-4.7l2.5,-4.9l2.5,-4.9l2.5,-5l2.5,-5l2.5,-5l2.5,-5l2.5,-5l2.5,-4.9l2.5,-4.9l2.5,-4.8l2.5,-4.8l2.6,-4.7l2.5,-4.6l2.5,-4.6l2.5,-4.5l2.5,-4.4l2.5,-4.3l2.5,-4.1l2.5,-4l2.5,-3.7l2.5,-3.4l2.5,-3.3l2.5,-3.1l2.5,-2.9l2.5,-2.9l2.5,-2.9l2.5,-2.8l2.5,-2.9l2.5,-2.9l2.5,-2.9l2.5,-2.7l2.5,-2.6l2.5,-2.3l2.6,-2l2.5,-1.6l2.5,-1.3l2.5,-1.1l2.5,-.8l2.5,-.7l2.5,-.3l2.5,-.2l2.5,0l2.5,.1l2.5,.3l2.5,.6l2.5,.9l2.5,1.3l2.5,1.8l2.5,2.1l2.5,2.4l2.5,2.5l2.5,2.7l2.5,2.9l2.5,3.2l2.5,3.5l2.6,3.7l2.5,4l2.5,4.1l2.5,4.3l2.5,4.5l2.5,4.6l2.5,4.8l2.5,5.1l2.5,5.1l2.5,5l2.5,5l2.5,4.9l2.5,4.6l2.5,4.6l2.5,4.5l2.5,4.5l2.5,4.5l2.5,4.7l2.5,4.8l2.5,4.8l2.5,5l2.5,5l2.5,5.1l2.6,5.3l2.5,5.5l2.5,5.6l2.5,5.7l2.5,5.8l2.5,5.7l2.5,5.5l2.5,5.3l2.5,5l2.5,4.8l2.5,4.6l2.5,4.5l2.5,4.4l2.5,4.2l2.5,4.3l2.5,4.2l2.5,4.2l2.5,4.2l2.5,4.1l2.5,4l2.5,3.8l2.5,3.5l2.6,3.2l2.5,2.9l2.5,2.6l2.5,2.4l2.5,2.2l2.5,1.9l2.5,1.7l2.5,1.5l2.5,1.4l2.5,1.2l2.5,1l2.5,.9l2.5,.8l2.5,.7l2.5,.5l2.5,.5l2.5,.5l2.5,.4l2.5,.4l2.5,.4l2.5,.3l2.5,.3l2.6,.3l2.5,.3l2.5,.2l2.5,.3l2.5,.2l2.5,.2l2.5,.2l2.5,.2l2.5,.1l2.5,.2l2.5,.1l2.5,.1" class="cv"/>
<path d="M683.8,1295.5l2.5,-.4l2.5,-.4l2.5,-.4l2.5,-.5l2.5,-.5l2.5,-.4l2.5,-.5l2.5,-.5l2.5,-.6l2.5,-.5l2.6,-.6l2.5,-.5l2.5,-.6l2.5,-.6l2.5,-.7l2.5,-.6l2.5,-.7l2.5,-.7l2.5,-.7l2.5,-.8l2.5,-.7l2.6,-.8l2.5,-.8l2.5,-.8l2.5,-.9l2.5,-.9l2.5,-.9l2.5,-.9l2.5,-1l2.5,-.9l2.5,-1l2.5,-1l2.6,-1.1l2.5,-1l2.5,-1.1l2.5,-1.1l2.5,-1.1l2.5,-1.2l2.5,-1.2l2.5,-1.2l2.5,-1.2l2.5,-1.2l2.5,-1.1l2.6,-1.2l2.5,-1.1l2.5,-1l2.5,-1.1l2.5,-1l2.5,-1l2.5,-1l2.5,-1l2.5,-.9l2.5,-.8l2.5,-.8l2.6,-.7l2.5,-.6l2.5,-.5l2.5,-.5l2.5,-.5l2.5,-.4l2.5,-.4l2.5,-.4l2.5,-.2l2.5,-.3l2.5,-.1l2.6,-.1l2.5,0l2.5,0l2.5,.1l2.5,.2l2.5,.2l2.5,.3l2.5,.4l2.5,.6l2.5,.7l2.5,.9l2.6,1.1l2.5,1.1l2.5,1.1l2.5,1.2l2.5,1.4l2.5,1.3l2.5,1.5l2.5,1.6l2.5,1.6l2.5,1.6l2.5,1.6l2.6,1.6l2.5,1.5l2.5,1.6l2.5,1.5l2.5,1.6l2.5,1.6l2.5,1.5l2.5,1.6l2.5,1.5l2.5,1.5l2.6,1.3l2.5,1.4l2.5,1.2l2.5,1.2l2.5,1.1l2.5,1.1l2.5,1.1l2.5,1l2.5,1l2.5,1l2.5,.9l2.6,.8l2.5,.8l2.5,.7l2.5,.7l2.5,.6l2.5,.7l2.5,.6l2.5,.5l2.5,.6l2.5,.5l2.5,.5l2.6,.4l2.5,.4l2.5,.3l2.5,.3l2.5,.1l2.5,.2l2.5,.1l2.5,.1l2.5,.1l2.5,.1l2.5,0l2.6,.1l2.5,0l2.5,.1l2.5,0l2.5,0l2.5,0" class="cv"/>
<path d="M110.0,1370.7l2.5,-.2l2.5,-.2l2.5,-.3l2.5,-.2l2.5,-.3l2.5,-.3l2.5,-.2l2.5,-.3l2.5,-.3l2.5,-.4l2.5,-.3l2.6,-.3l2.5,-.4l2.5,-.3l2.5,-.4l2.5,-.4l2.5,-.3l2.5,-.4l2.5,-.4l2.5,-.4l2.5,-.4l2.5,-.4l2.5,-.5l2.5,-.4l2.5,-.5l2.5,-.5l2.5,-.5l2.5,-.5l2.5,-.6l2.5,-.5l2.5,-.6l2.5,-.6l2.5,-.6l2.6,-.6l2.5,-.6l2.5,-.6l2.5,-.6l2.5,-.5l2.5,-.6l2.5,-.6l2.5,-.6l2.5,-.6l2.5,-.5l2.5,-.6l2.5,-.6l2.5,-.6l2.5,-.6l2.5,-.6l2.5,-.6l2.5,-.7l2.5,-.6l2.5,-.6l2.5,-.7l2.5,-.6l2.5,-.7l2.6,-.7l2.5,-.6l2.5,-.7l2.5,-.7l2.5,-.7l2.5,-.8l2.5,-.7l2.5,-.7l2.5,-.8l2.5,-.7l2.5,-.9l2.5,-.9l2.5,-.9l2.5,-1l2.5,-1.1l2.5,-1.1l2.5,-1.3l2.5,-1.3l2.5,-1.4l2.5,-1.5l2.5,-1.7l2.5,-1.9l2.5,-2l2.6,-2.2l2.5,-2.4l2.5,-2.4l2.5,-2.5l2.5,-2.5l2.5,-2.5l2.5,-2.6l2.5,-2.7l2.5,-2.8l2.5,-3.1l2.5,-3.3l2.5,-3.6l2.5,-4l2.5,-4.2l2.5,-4.6l2.5,-4.7l2.5,-5l2.5,-5.1l2.5,-5.4l2.5,-5.6l2.5,-5.8l2.5,-5.8l2.6,-5.8l2.5,-5.6l2.5,-5.5l2.5,-5.4l2.5,-5.4l2.5,-5.7l2.5,-6.1l2.5,-6.6l2.5,-6.8l2.5,-6.7l2.5,-6.5l2.5,-5.8l2.5,-5.3l2.5,-4.7l2.5,-4.3l2.5,-3.9l2.5,-3.8l2.5,-3.5l2.5,-3.5l2.5,-3.3l2.5,-3.3l2.5,-3.2l2.6,-3.1l2.5,-2.9l2.5,-2.7l2.5,-2.5l2.5,-2.3l2.5,-2.2l2.5,-2l2.5,-1.8l2.5,-1.7l2.5,-1.3l2.5,-1l2.5,-.8l2.5,-.4l2.5,-.3l2.5,-.1l2.5,.1l2.5,.3l2.5,.7l2.5,.9l2.5,1.3l2.5,1.6l2.5,2.1l2.6,2.3l2.5,2.7l2.5,2.8l2.5,3l2.5,3.1l2.5,3.4l2.5,3.7l2.5,3.9l2.5,4.2l2.5,4.4l2.5,4.6l2.5,4.9l2.5,5.3l2.5,5.5l2.5,5.7l2.5,5.8l2.5,5.8l2.5,5.7l2.5,5.6l2.5,5.5l2.5,5.6l2.5,5.6l2.5,5.7l2.6,5.8l2.5,5.8l2.5,5.9l2.5,5.9l2.5,5.8l2.5,5.8l2.5,5.6l2.5,5.6l2.5,5.4l2.5,5.4l2.5,5.4l2.5,5.2l2.5,5.2l2.5,5.1l2.5,5l2.5,5l2.5,4.7l2.5,4.7l2.5,4.6l2.5,4.5l2.5,4.3l2.5,4.1l2.6,3.8l2.5,3.5l2.5,3.2l2.5,2.8l2.5,2.5l2.5,2.3l2.5,2.2l2.5,2l2.5,1.9l2.5,1.9l2.5,1.8l2.5,1.7l2.5,1.6l2.5,1.4l2.5,1.1l2.5,1l2.5,.8l2.5,.6l2.5,.6l2.5,.5l2.5,.4l2.5,.4l2.6,.3l2.5,.3l2.5,.3l2.5,.2l2.5,.1l2.5,.2l2.5,.1l2.5,.1l2.5,.1l2.5,.1l2.5,.1l2.5,0" class="cv"/>
<path d="M683.8,1372.5l2.5,-.1l2.5,-.2l2.5,-.1l2.5,-.2l2.5,-.2l2.5,-.2l2.5,-.3l2.5,-.2l2.5,-.3l2.5,-.3l2.6,-.3l2.5,-.3l2.5,-.3l2.5,-.4l2.5,-.4l2.5,-.4l2.5,-.5l2.5,-.4l2.5,-.5l2.5,-.6l2.5,-.5l2.6,-.6l2.5,-.6l2.5,-.6l2.5,-.7l2.5,-.8l2.5,-.7l2.5,-.9l2.5,-.9l2.5,-.9l2.5,-1l2.5,-1l2.6,-1.1l2.5,-1l2.5,-1.1l2.5,-1l2.5,-1.1l2.5,-1.1l2.5,-1.1l2.5,-1.1l2.5,-1.2l2.5,-1.2l2.5,-1.2l2.6,-1.2l2.5,-1.1l2.5,-1.2l2.5,-1.1l2.5,-1.2l2.5,-1.1l2.5,-1.2l2.5,-1.1l2.5,-1.2l2.5,-1.1l2.5,-1.2l2.6,-1.1l2.5,-1l2.5,-1l2.5,-.9l2.5,-.9l2.5,-.8l2.5,-.7l2.5,-.7l2.5,-.7l2.5,-.6l2.5,-.7l2.6,-.5l2.5,-.5l2.5,-.3l2.5,-.3l2.5,-.1l2.5,0l2.5,.1l2.5,.1l2.5,.3l2.5,.3l2.5,.4l2.6,.7l2.5,.8l2.5,1.1l2.5,1.3l2.5,1.4l2.5,1.5l2.5,1.6l2.5,1.6l2.5,1.6l2.5,1.7l2.5,1.8l2.6,1.8l2.5,1.8l2.5,1.9l2.5,1.8l2.5,1.7l2.5,1.7l2.5,1.7l2.5,1.6l2.5,1.7l2.5,1.6l2.6,1.6l2.5,1.5l2.5,1.5l2.5,1.4l2.5,1.3l2.5,1.3l2.5,1.2l2.5,1.1l2.5,1.1l2.5,1l2.5,1l2.6,.9l2.5,.9l2.5,.8l2.5,.8l2.5,.8l2.5,.6l2.5,.6l2.5,.5l2.5,.5l2.5,.4l2.5,.4l2.6,.4l2.5,.4l2.5,.3l2.5,.2l2.5,.2l2.5,.2l2.5,0l2.5,.1l2.5,0l2.5,0l2.5,0l2.6,0l2.5,0l2.5,0l2.5,0l2.5,0l2.5,0" class="cv"/>
<path d="M110.0,1453.3l2.5,-.2l2.5,-.2l2.5,-.3l2.5,-.2l2.5,-.2l2.5,-.3l2.5,-.2l2.5,-.3l2.5,-.3l2.5,-.3l2.5,-.3l2.6,-.3l2.5,-.3l2.5,-.3l2.5,-.3l2.5,-.3l2.5,-.3l2.5,-.4l2.5,-.3l2.5,-.4l2.5,-.3l2.5,-.4l2.5,-.3l2.5,-.4l2.5,-.4l2.5,-.4l2.5,-.4l2.5,-.4l2.5,-.4l2.5,-.4l2.5,-.5l2.5,-.4l2.5,-.5l2.6,-.5l2.5,-.5l2.5,-.5l2.5,-.5l2.5,-.6l2.5,-.6l2.5,-.6l2.5,-.6l2.5,-.7l2.5,-.8l2.5,-.7l2.5,-.8l2.5,-.8l2.5,-.8l2.5,-.8l2.5,-.8l2.5,-.8l2.5,-.8l2.5,-.8l2.5,-.9l2.5,-.8l2.5,-.8l2.6,-.9l2.5,-.9l2.5,-.8l2.5,-.9l2.5,-.9l2.5,-.9l2.5,-.9l2.5,-.9l2.5,-.9l2.5,-1l2.5,-1l2.5,-1.1l2.5,-1.2l2.5,-1.4l2.5,-1.4l2.5,-1.6l2.5,-1.6l2.5,-1.8l2.5,-1.8l2.5,-1.9l2.5,-2.1l2.5,-2.1l2.5,-2.3l2.6,-2.5l2.5,-2.6l2.5,-2.7l2.5,-2.9l2.5,-3.2l2.5,-3.3l2.5,-3.6l2.5,-3.7l2.5,-3.9l2.5,-4l2.5,-4.1l2.5,-4.2l2.5,-4.3l2.5,-4.4l2.5,-4.5l2.5,-4.6l2.5,-4.9l2.5,-5l2.5,-5.2l2.5,-5.4l2.5,-5.6l2.5,-5.6l2.6,-5.6l2.5,-5.5l2.5,-5.5l2.5,-5.3l2.5,-5.3l2.5,-5.3l2.5,-5.2l2.5,-5.2l2.5,-5.1l2.5,-5.2l2.5,-5.1l2.5,-5l2.5,-5.2l2.5,-5.1l2.5,-5.2l2.5,-5.1l2.5,-5l2.5,-4.7l2.5,-4.3l2.5,-3.9l2.5,-3.5l2.5,-3.2l2.6,-3l2.5,-2.6l2.5,-2.3l2.5,-2.1l2.5,-1.9l2.5,-1.7l2.5,-1.6l2.5,-1.4l2.5,-1.1l2.5,-.8l2.5,-.6l2.5,-.2l2.5,.1l2.5,.2l2.5,.4l2.5,.5l2.5,.6l2.5,.8l2.5,1.1l2.5,1.4l2.5,1.9l2.5,2.3l2.6,2.8l2.5,3l2.5,3.2l2.5,3.4l2.5,3.5l2.5,3.6l2.5,3.8l2.5,4l2.5,4.3l2.5,4.6l2.5,4.8l2.5,5.1l2.5,5.5l2.5,5.7l2.5,6l2.5,6l2.5,6.1l2.5,6l2.5,5.9l2.5,6l2.5,6l2.5,6l2.5,6.1l2.6,6.1l2.5,6.2l2.5,6.3l2.5,6.2l2.5,6.2l2.5,6.1l2.5,5.9l2.5,5.7l2.5,5.5l2.5,5.2l2.5,5.2l2.5,5l2.5,4.8l2.5,4.8l2.5,4.7l2.5,4.7l2.5,4.5l2.5,4.5l2.5,4.2l2.5,3.8l2.5,3.5l2.5,3l2.6,2.8l2.5,2.4l2.5,2.3l2.5,2.1l2.5,2.1l2.5,2l2.5,2l2.5,1.9l2.5,1.9l2.5,1.8l2.5,1.6l2.5,1.4l2.5,1.2l2.5,1l2.5,.9l2.5,.8l2.5,.8l2.5,.7l2.5,.6l2.5,.5l2.5,.5l2.5,.3l2.6,.3l2.5,.3l2.5,.2l2.5,.3l2.5,.1l2.5,.2l2.5,.2l2.5,.1l2.5,.1l2.5,.1l2.5,.1l2.5,0" class="cv"/>
<path d="M683.8,1455.0l2.5,-.4l2.5,-.4l2.5,-.4l2.5,-.4l2.5,-.4l2.5,-.5l2.5,-.4l2.5,-.5l2.5,-.4l2.5,-.5l2.6,-.5l2.5,-.5l2.5,-.5l2.5,-.5l2.5,-.5l2.5,-.5l2.5,-.6l2.5,-.5l2.5,-.6l2.5,-.6l2.5,-.6l2.6,-.7l2.5,-.7l2.5,-.7l2.5,-.7l2.5,-.8l2.5,-.8l2.5,-.9l2.5,-.9l2.5,-.9l2.5,-1l2.5,-1l2.6,-1l2.5,-1l2.5,-1l2.5,-1.1l2.5,-1.1l2.5,-1l2.5,-1.2l2.5,-1.1l2.5,-1.2l2.5,-1.1l2.5,-1.2l2.6,-1.2l2.5,-1.2l2.5,-1.1l2.5,-1.2l2.5,-1.2l2.5,-1.1l2.5,-1.2l2.5,-1.2l2.5,-1.3l2.5,-1.2l2.5,-1.2l2.6,-1.2l2.5,-1.1l2.5,-.9l2.5,-.9l2.5,-.7l2.5,-.5l2.5,-.5l2.5,-.4l2.5,-.3l2.5,-.3l2.5,-.2l2.6,-.2l2.5,-.2l2.5,-.1l2.5,0l2.5,0l2.5,.2l2.5,.2l2.5,.3l2.5,.3l2.5,.5l2.5,.7l2.6,.9l2.5,1.1l2.5,1.3l2.5,1.5l2.5,1.5l2.5,1.5l2.5,1.6l2.5,1.5l2.5,1.4l2.5,1.5l2.5,1.6l2.6,1.5l2.5,1.5l2.5,1.6l2.5,1.5l2.5,1.5l2.5,1.5l2.5,1.4l2.5,1.5l2.5,1.5l2.5,1.5l2.6,1.5l2.5,1.4l2.5,1.4l2.5,1.3l2.5,1.3l2.5,1.1l2.5,1.1l2.5,1l2.5,.9l2.5,.9l2.5,.8l2.6,.8l2.5,.8l2.5,.7l2.5,.7l2.5,.7l2.5,.5l2.5,.6l2.5,.5l2.5,.4l2.5,.5l2.5,.4l2.6,.4l2.5,.4l2.5,.3l2.5,.3l2.5,.2l2.5,.2l2.5,.2l2.5,.1l2.5,0l2.5,.1l2.5,.1l2.6,0l2.5,.1l2.5,0l2.5,.1l2.5,0l2.5,0" class="cv"/>
<path d="M110.0,1531.7l2.5,-.2l2.5,-.3l2.5,-.2l2.5,-.2l2.5,-.2l2.5,-.3l2.5,-.2l2.5,-.2l2.5,-.2l2.5,-.3l2.5,-.2l2.6,-.2l2.5,-.2l2.5,-.2l2.5,-.3l2.5,-.2l2.5,-.2l2.5,-.2l2.5,-.2l2.5,-.2l2.5,-.2l2.5,-.3l2.5,-.2l2.5,-.2l2.5,-.2l2.5,-.2l2.5,-.2l2.5,-.2l2.5,-.1l2.5,-.2l2.5,-.2l2.5,-.2l2.5,-.2l2.6,-.2l2.5,-.2l2.5,-.3l2.5,-.2l2.5,-.2l2.5,-.3l2.5,-.3l2.5,-.3l2.5,-.3l2.5,-.3l2.5,-.4l2.5,-.3l2.5,-.4l2.5,-.3l2.5,-.3l2.5,-.3l2.5,-.3l2.5,-.3l2.5,-.2l2.5,-.2l2.5,-.3l2.5,-.2l2.6,-.2l2.5,-.3l2.5,-.3l2.5,-.3l2.5,-.4l2.5,-.3l2.5,-.4l2.5,-.5l2.5,-.5l2.5,-.5l2.5,-.6l2.5,-.6l2.5,-.7l2.5,-.7l2.5,-.9l2.5,-.9l2.5,-1l2.5,-1.2l2.5,-1.3l2.5,-1.4l2.5,-1.6l2.5,-1.8l2.5,-2l2.6,-2.2l2.5,-2.3l2.5,-2.6l2.5,-2.8l2.5,-3.1l2.5,-3.3l2.5,-3.6l2.5,-3.7l2.5,-3.9l2.5,-4l2.5,-4.2l2.5,-4.3l2.5,-4.5l2.5,-4.6l2.5,-4.7l2.5,-4.8l2.5,-4.8l2.5,-4.8l2.5,-4.9l2.5,-5l2.5,-5.1l2.5,-5.1l2.6,-5.3l2.5,-5.3l2.5,-5.5l2.5,-5.5l2.5,-5.5l2.5,-5.5l2.5,-5.5l2.5,-5.3l2.5,-5.2l2.5,-5.1l2.5,-5l2.5,-5l2.5,-5l2.5,-5l2.5,-5l2.5,-5.1l2.5,-5.1l2.5,-5.1l2.5,-5l2.5,-4.8l2.5,-4.7l2.5,-4.6l2.6,-4.4l2.5,-4.2l2.5,-4.1l2.5,-3.9l2.5,-3.7l2.5,-3.4l2.5,-3.3l2.5,-3.1l2.5,-2.9l2.5,-2.5l2.5,-2.3l2.5,-1.8l2.5,-1.5l2.5,-1.1l2.5,-.8l2.5,-.6l2.5,-.3l2.5,-.1l2.5,.3l2.5,.6l2.5,1.1l2.5,1.5l2.6,2l2.5,2.3l2.5,2.5l2.5,2.7l2.5,2.8l2.5,3.1l2.5,3.3l2.5,3.7l2.5,3.9l2.5,4.1l2.5,4.3l2.5,4.5l2.5,4.7l2.5,4.8l2.5,5.1l2.5,5.4l2.5,5.4l2.5,5.7l2.5,5.9l2.5,6.1l2.5,6.2l2.5,6.3l2.5,6.4l2.6,6.4l2.5,6.3l2.5,6.4l2.5,6.3l2.5,6.4l2.5,6.2l2.5,6.2l2.5,6.2l2.5,6l2.5,5.9l2.5,5.9l2.5,5.7l2.5,5.7l2.5,5.4l2.5,5.4l2.5,5.2l2.5,5.1l2.5,4.9l2.5,4.7l2.5,4.4l2.5,4.1l2.5,3.8l2.6,3.5l2.5,3.3l2.5,3.1l2.5,2.8l2.5,2.6l2.5,2.4l2.5,2.3l2.5,2l2.5,1.9l2.5,1.8l2.5,1.5l2.5,1.4l2.5,1.2l2.5,1.2l2.5,1l2.5,.9l2.5,.9l2.5,.8l2.5,.7l2.5,.6l2.5,.5l2.5,.4l2.6,.3l2.5,.3l2.5,.2l2.5,.2l2.5,.2l2.5,.2l2.5,.1l2.5,.1l2.5,.1l2.5,.1l2.5,.1l2.5,0" class="cv"/>
<path d="M683.8,1532.0l2.5,-.1l2.5,-.2l2.5,-.1l2.5,-.2l2.5,-.1l2.5,-.2l2.5,-.2l2.5,-.2l2.5,-.2l2.5,-.2l2.6,-.2l2.5,-.2l2.5,-.2l2.5,-.3l2.5,-.2l2.5,-.3l2.5,-.2l2.5,-.3l2.5,-.3l2.5,-.3l2.5,-.3l2.6,-.4l2.5,-.3l2.5,-.4l2.5,-.5l2.5,-.5l2.5,-.6l2.5,-.6l2.5,-.6l2.5,-.8l2.5,-.7l2.5,-.8l2.6,-.9l2.5,-.8l2.5,-.9l2.5,-.9l2.5,-.9l2.5,-1l2.5,-1l2.5,-1.1l2.5,-1.1l2.5,-1.2l2.5,-1.2l2.6,-1.2l2.5,-1.2l2.5,-1.3l2.5,-1.2l2.5,-1.3l2.5,-1.3l2.5,-1.3l2.5,-1.3l2.5,-1.4l2.5,-1.4l2.5,-1.4l2.6,-1.5l2.5,-1.4l2.5,-1.3l2.5,-1.4l2.5,-1.3l2.5,-1.3l2.5,-1.3l2.5,-1.3l2.5,-1.3l2.5,-1.4l2.5,-1.3l2.6,-1.1l2.5,-1.1l2.5,-.8l2.5,-.5l2.5,-.4l2.5,-.1l2.5,.1l2.5,.2l2.5,.2l2.5,.4l2.5,.6l2.6,.7l2.5,1l2.5,1.2l2.5,1.3l2.5,1.4l2.5,1.5l2.5,1.5l2.5,1.5l2.5,1.6l2.5,1.8l2.5,1.7l2.6,1.9l2.5,1.8l2.5,1.9l2.5,1.8l2.5,1.7l2.5,1.7l2.5,1.6l2.5,1.5l2.5,1.6l2.5,1.5l2.6,1.4l2.5,1.4l2.5,1.4l2.5,1.3l2.5,1.2l2.5,1.1l2.5,1.1l2.5,1l2.5,.9l2.5,.9l2.5,.8l2.6,.8l2.5,.8l2.5,.7l2.5,.6l2.5,.7l2.5,.6l2.5,.6l2.5,.5l2.5,.5l2.5,.5l2.5,.4l2.6,.4l2.5,.4l2.5,.4l2.5,.4l2.5,.3l2.5,.2l2.5,.3l2.5,.2l2.5,.2l2.5,.1l2.5,.2l2.6,.1l2.5,.2l2.5,.1l2.5,0l2.5,.1l2.5,0" class="cv"/>
<text x="141.6" y="949.5" class="pl" >(c)</text>
<text x="411.3" y="923.0" class="lb" textLength="121" lengthAdjust="spacingAndGlyphs">200/110</text>
<text x="843.3" y="1141.0" class="lb" textLength="56" lengthAdjust="spacingAndGlyphs">203</text>
<text x="927.0" y="1201.0" class="lb" textLength="92" lengthAdjust="spacingAndGlyphs">0 wt%</text>
<text x="933.3" y="1282.0" class="lb" textLength="88" lengthAdjust="spacingAndGlyphs">1 wt%</text>
<text x="932.0" y="1352.0" class="lb" textLength="89" lengthAdjust="spacingAndGlyphs">2 wt%</text>
<text x="928.3" y="1432.0" class="lb" textLength="90" lengthAdjust="spacingAndGlyphs">3 wt%</text>
<text x="929.5" y="1508.0" class="lb" textLength="92" lengthAdjust="spacingAndGlyphs">4 wt%</text>
<text x="0.0" y="0.0" class="ax" transform="translate(51.5,1307.5) rotate(-90)" textLength="196" lengthAdjust="spacingAndGlyphs">Intensity /a.u.</text>
<text x="550.7" y="1651.0" class="th" >2θ</text>
<line x1="1168.5" y1="872.3" x2="2086.0" y2="872.3" stroke="#000" stroke-width="3.0"/>
<line x1="1168.5" y1="1559.5" x2="2086.0" y2="1559.5" stroke="#000" stroke-width="3.5"/>
<line x1="1168.5" y1="870.8" x2="1168.5" y2="1561.0" stroke="#000" stroke-width="3.0"/>
<line x1="1166.0" y1="873.8" x2="1166.0" y2="1559.5" stroke="#888" stroke-width="2"/>
<line x1="2086.0" y1="870.8" x2="2086.0" y2="1561.2" stroke="#000" stroke-width="4.5"/>
<line x1="1186.0" y1="1559.5" x2="1186.0" y2="1552.0" stroke="#000" stroke-width="2.8"/>
<line x1="1280.7" y1="1559.5" x2="1280.7" y2="1546.5" stroke="#000" stroke-width="2.8"/>
<text x="1280.7" y="1597.0" class="tk" text-anchor="middle" textLength="49" lengthAdjust="spacingAndGlyphs">16.0</text>
<line x1="1374.0" y1="1559.5" x2="1374.0" y2="1552.0" stroke="#000" stroke-width="2.8"/>
<line x1="1467.3" y1="1559.5" x2="1467.3" y2="1546.5" stroke="#000" stroke-width="2.8"/>
<text x="1467.3" y="1597.0" class="tk" text-anchor="middle" textLength="49" lengthAdjust="spacingAndGlyphs">16.5</text>
<line x1="1560.0" y1="1559.5" x2="1560.0" y2="1552.0" stroke="#000" stroke-width="2.8"/>
<line x1="1654.0" y1="1559.5" x2="1654.0" y2="1546.5" stroke="#000" stroke-width="2.8"/>
<text x="1654.0" y="1597.0" class="tk" text-anchor="middle" textLength="49" lengthAdjust="spacingAndGlyphs">17.0</text>
<line x1="1793.3" y1="1559.5" x2="1793.3" y2="1546.5" stroke="#000" stroke-width="2.8"/>
<text x="1793.3" y="1597.0" class="tk" text-anchor="middle" textLength="49" lengthAdjust="spacingAndGlyphs">18.5</text>
<line x1="1854.3" y1="1559.5" x2="1854.3" y2="1552.0" stroke="#000" stroke-width="2.8"/>
<line x1="1915.7" y1="1559.5" x2="1915.7" y2="1546.5" stroke="#000" stroke-width="2.8"/>
<text x="1915.7" y="1597.0" class="tk" text-anchor="middle" textLength="49" lengthAdjust="spacingAndGlyphs">19.0</text>
<line x1="1976.0" y1="1559.5" x2="1976.0" y2="1552.0" stroke="#000" stroke-width="2.8"/>
<line x1="2037.3" y1="1559.5" x2="2037.3" y2="1546.5" stroke="#000" stroke-width="2.8"/>
<text x="2037.3" y="1597.0" class="tk" text-anchor="middle" textLength="49" lengthAdjust="spacingAndGlyphs">19.5</text>
<line x1="1720.5" y1="886.3" x2="1737.5" y2="858.3" stroke="#000" stroke-width="3"/>
<line x1="1736.5" y1="886.3" x2="1753.5" y2="858.3" stroke="#000" stroke-width="3"/>
<line x1="1730.5" y1="872.3" x2="1742.0" y2="872.3" stroke="#fff" stroke-width="5"/>
<line x1="1720.5" y1="1573.5" x2="1737.5" y2="1545.5" stroke="#000" stroke-width="3"/>
<line x1="1736.5" y1="1573.5" x2="1753.5" y2="1545.5" stroke="#000" stroke-width="3"/>
<line x1="1730.5" y1="1559.5" x2="1742.0" y2="1559.5" stroke="#fff" stroke-width="5"/>
<line x1="1522.7" y1="933.0" x2="1522.7" y2="1559.5" stroke="#000" stroke-width="4.5" stroke-dasharray="9 3 3 3"/>
<line x1="1928.0" y1="1135.0" x2="1928.0" y2="1559.5" stroke="#000" stroke-width="2.3" stroke-dasharray="10.5 3.5 4 4"/>
<path d="M1168.3,1186.0l2.5,-.1l2.5,-.1l2.5,-.1l2.5,-.1l2.5,-.1l2.5,-.2l2.5,-.1l2.5,-.2l2.5,-.2l2.5,-.1l2.5,-.2l2.5,-.2l2.5,-.2l2.5,-.2l2.4,-.2l2.5,-.3l2.5,-.2l2.5,-.3l2.5,-.3l2.5,-.3l2.5,-.3l2.5,-.4l2.5,-.4l2.5,-.4l2.5,-.4l2.5,-.4l2.5,-.4l2.5,-.4l2.5,-.4l2.5,-.3l2.5,-.3l2.5,-.3l2.5,-.3l2.5,-.3l2.5,-.2l2.5,-.2l2.5,-.2l2.5,-.2l2.5,-.2l2.5,-.2l2.5,-.2l2.5,-.1l2.4,-.2l2.5,-.1l2.5,-.2l2.5,-.1l2.5,0l2.5,-.1l2.5,0l2.5,-.1l2.5,.1l2.5,0l2.5,.1l2.5,.2l2.5,.1l2.5,.2l2.5,.2l2.5,.2l2.5,.2l2.5,.2l2.5,.2l2.5,.2l2.5,.1l2.5,.1l2.5,.1l2.5,.1l2.5,0l2.5,-.1l2.5,0l2.5,-.1l2.4,0l2.5,-.1l2.5,-.2l2.5,-.1l2.5,-.2l2.5,-.1l2.5,-.3l2.5,-.3l2.5,-.5l2.5,-.7l2.5,-1l2.5,-1.2l2.5,-1.4l2.5,-1.6l2.5,-1.7l2.5,-1.7l2.5,-1.9l2.5,-2l2.5,-2.1l2.5,-2.3l2.5,-2.4l2.5,-2.7l2.5,-2.8l2.5,-3l2.5,-3.1l2.5,-3.2l2.5,-3.4l2.5,-3.6l2.4,-3.7l2.5,-4l2.5,-4.3l2.5,-4.5l2.5,-4.7l2.5,-4.8l2.5,-4.9l2.5,-5l2.5,-5.1l2.5,-5.1l2.5,-5.1l2.5,-5.3l2.5,-5.4l2.5,-5.4l2.5,-5.5l2.5,-5.4l2.5,-5.4l2.5,-5.4l2.5,-5.3l2.5,-5.3l2.5,-5.2l2.5,-5.3l2.5,-5.2l2.5,-5.1l2.5,-5l2.5,-4.8l2.5,-4.6l2.5,-4.4l2.4,-4.3l2.5,-4.2l2.5,-4l2.5,-3.9l2.5,-3.8l2.5,-3.5l2.5,-3.3l2.5,-3l2.5,-2.7l2.5,-2.4l2.5,-2.3l2.5,-2l2.5,-1.8l2.5,-1.5l2.5,-1.1l2.5,-.7l2.5,-.3l2.5,-.1l2.5,.1l2.5,.1l2.5,.2l2.5,.3l2.5,.5l2.5,1l2.5,1.5l2.5,2.1l2.5,2.5l2.5,2.9l2.4,3.2l2.5,3.3l2.5,3.5l2.5,3.8l2.5,4l2.5,4.3l2.5,4.7l2.5,4.8l2.5,4.9l2.5,5l2.5,5.1l2.5,5.1l2.5,5.1l2.5,5.2l2.5,5.4l2.5,5.4l2.5,5.4l2.5,5.5l2.5,5.5l2.5,5.6l2.5,5.6l2.5,5.7l2.5,5.8l2.5,5.8l2.5,5.9l2.5,5.7l2.5,5.7l2.5,5.6l2.4,5.4l2.5,5.3l2.5,5.2l2.5,5.1l2.5,5l2.5,5l2.5,4.7l2.5,4.5l2.5,4.2l2.5,3.9l2.5,3.7l2.5,3.3l2.5,3.3l2.5,3.1l2.5,2.9l2.5,2.8l2.5,2.6l2.5,2.3l2.5,2.1l2.5,1.8l2.5,1.5l2.5,1.2l2.5,1.1l2.5,1l2.5,.9l2.5,.8l2.5,.7l2.5,.6l2.4,.5l2.5,.4l2.5,.3l2.5,.2l2.5,0l2.5,.1l2.5,0l2.5,-.1l2.5,0l2.5,-.1l2.5,-.1l2.5,-.2l2.5,-.2l2.5,-.2l2.5,-.3" class="cv"/>
<path d="M1744.5,1198.0l2.5,0l2.5,-.1l2.5,0l2.5,-.1l2.5,0l2.5,-.1l2.5,0l2.5,-.1l2.5,0l2.5,-.1l2.5,-.1l2.5,-.1l2.5,0l2.6,-.1l2.5,-.1l2.5,-.1l2.5,-.1l2.5,-.1l2.5,0l2.5,-.1l2.5,-.1l2.5,-.1l2.5,-.2l2.5,-.1l2.5,-.1l2.5,-.2l2.5,-.1l2.5,-.2l2.5,-.2l2.5,-.2l2.5,-.2l2.5,-.3l2.5,-.4l2.5,-.5l2.5,-.5l2.5,-.7l2.5,-.6l2.5,-.8l2.5,-.7l2.5,-.9l2.6,-.8l2.5,-1l2.5,-1l2.5,-1.1l2.5,-1.3l2.5,-1.3l2.5,-1.3l2.5,-1.4l2.5,-1.3l2.5,-1.4l2.5,-1.3l2.5,-1.3l2.5,-1.3l2.5,-1.4l2.5,-1.4l2.5,-1.3l2.5,-1.3l2.5,-1.3l2.5,-1.1l2.5,-1.1l2.5,-1l2.5,-.9l2.5,-.9l2.5,-.8l2.5,-.8l2.5,-.7l2.5,-.6l2.6,-.5l2.5,-.3l2.5,-.2l2.5,-.1l2.5,.1l2.5,.1l2.5,.1l2.5,.2l2.5,.3l2.5,.5l2.5,.7l2.5,.9l2.5,1.1l2.5,1.3l2.5,1.3l2.5,1.3l2.5,1.4l2.5,1.5l2.5,1.5l2.5,1.6l2.5,1.6l2.5,1.7l2.5,1.7l2.5,1.7l2.5,1.7l2.5,1.6l2.5,1.6l2.5,1.6l2.6,1.5l2.5,1.5l2.5,1.5l2.5,1.5l2.5,1.4l2.5,1.3l2.5,1.3l2.5,1.1l2.5,1.1l2.5,.9l2.5,.9l2.5,.9l2.5,.8l2.5,.8l2.5,.7l2.5,.6l2.5,.5l2.5,.4l2.5,.2l2.5,.2l2.5,.2l2.5,.1l2.5,.1l2.5,.1l2.5,0l2.5,.1l2.5,0l2.6,.1l2.5,0l2.5,-.1l2.5,-.1l2.5,-.1l2.5,-.1l2.5,-.3l2.5,-.2l2.5,-.3l2.5,-.3l2.5,-.3l2.5,-.4l2.5,-.4l2.5,-.4" class="cv"/>
<path d="M1168.3,1306.0l2.5,-.1l2.5,-.1l2.5,0l2.5,-.2l2.5,-.1l2.5,-.1l2.5,-.2l2.5,-.1l2.5,-.2l2.5,-.2l2.5,-.2l2.5,-.2l2.5,-.2l2.5,-.2l2.4,-.2l2.5,-.3l2.5,-.2l2.5,-.3l2.5,-.3l2.5,-.3l2.5,-.4l2.5,-.4l2.5,-.4l2.5,-.4l2.5,-.5l2.5,-.5l2.5,-.4l2.5,-.5l2.5,-.5l2.5,-.5l2.5,-.4l2.5,-.5l2.5,-.4l2.5,-.4l2.5,-.4l2.5,-.4l2.5,-.4l2.5,-.3l2.5,-.3l2.5,-.3l2.5,-.2l2.5,-.3l2.4,-.2l2.5,-.3l2.5,-.2l2.5,-.2l2.5,-.3l2.5,-.2l2.5,-.2l2.5,-.2l2.5,-.3l2.5,-.2l2.5,-.3l2.5,-.3l2.5,-.2l2.5,-.4l2.5,-.3l2.5,-.3l2.5,-.4l2.5,-.4l2.5,-.5l2.5,-.5l2.5,-.5l2.5,-.6l2.5,-.7l2.5,-.7l2.5,-.8l2.5,-.9l2.5,-.9l2.5,-1l2.4,-1.1l2.5,-1.3l2.5,-1.4l2.5,-1.7l2.5,-1.8l2.5,-2l2.5,-2.2l2.5,-2.3l2.5,-2.5l2.5,-2.7l2.5,-2.8l2.5,-3l2.5,-3.1l2.5,-3.5l2.5,-3.8l2.5,-4.1l2.5,-4.3l2.5,-4.5l2.5,-4.7l2.5,-4.8l2.5,-4.9l2.5,-5l2.5,-5.1l2.5,-5.3l2.5,-5.4l2.5,-5.6l2.5,-5.7l2.5,-5.8l2.4,-5.9l2.5,-5.9l2.5,-5.9l2.5,-5.8l2.5,-5.9l2.5,-5.8l2.5,-5.8l2.5,-5.9l2.5,-5.8l2.5,-5.7l2.5,-5.7l2.5,-5.5l2.5,-5.3l2.5,-5.3l2.5,-5.1l2.5,-5.1l2.5,-4.9l2.5,-4.9l2.5,-4.7l2.5,-4.5l2.5,-4.2l2.5,-4l2.5,-3.8l2.5,-3.6l2.5,-3.5l2.5,-3.3l2.5,-3.2l2.5,-2.9l2.4,-2.8l2.5,-2.4l2.5,-2.2l2.5,-1.9l2.5,-1.7l2.5,-1.5l2.5,-1.4l2.5,-1.2l2.5,-1l2.5,-.9l2.5,-.5l2.5,-.4l2.5,0l2.5,.1l2.5,.3l2.5,.4l2.5,.6l2.5,.9l2.5,1.4l2.5,1.8l2.5,2.2l2.5,2.7l2.5,2.9l2.5,3.1l2.5,3.3l2.5,3.3l2.5,3.6l2.5,3.7l2.4,4l2.5,4.2l2.5,4.5l2.5,4.5l2.5,4.8l2.5,4.8l2.5,5l2.5,5.1l2.5,5.3l2.5,5.5l2.5,5.7l2.5,5.8l2.5,5.9l2.5,6l2.5,5.9l2.5,6l2.5,6l2.5,6l2.5,6.1l2.5,6.1l2.5,6.2l2.5,6.1l2.5,6.1l2.5,6l2.5,5.9l2.5,5.8l2.5,5.8l2.5,5.8l2.4,5.8l2.5,5.6l2.5,5.5l2.5,5.2l2.5,5l2.5,4.6l2.5,4.4l2.5,4l2.5,3.9l2.5,3.7l2.5,3.5l2.5,3.4l2.5,3.2l2.5,2.9l2.5,2.7l2.5,2.4l2.5,2.2l2.5,1.9l2.5,1.8l2.5,1.7l2.5,1.6l2.5,1.5l2.5,1.3l2.5,1.2l2.5,1.1l2.5,.8l2.5,.6l2.5,.4l2.4,.3l2.5,.1l2.5,.2l2.5,0l2.5,.1l2.5,.1l2.5,.1l2.5,0l2.5,.1l2.5,0l2.5,0l2.5,.1l2.5,0l2.5,0l2.5,0" class="cv"/>
<path d="M1744.5,1300.5l2.5,-.1l2.5,-.2l2.5,-.2l2.5,-.2l2.5,-.2l2.5,-.2l2.5,-.3l2.5,-.2l2.5,-.3l2.5,-.3l2.5,-.3l2.5,-.3l2.5,-.4l2.6,-.3l2.5,-.3l2.5,-.4l2.5,-.4l2.5,-.4l2.5,-.4l2.5,-.4l2.5,-.5l2.5,-.5l2.5,-.5l2.5,-.6l2.5,-.6l2.5,-.6l2.5,-.7l2.5,-.7l2.5,-.8l2.5,-.8l2.5,-1l2.5,-1l2.5,-1.1l2.5,-1.2l2.5,-1.2l2.5,-1.2l2.5,-1.3l2.5,-1.3l2.5,-1.3l2.5,-1.4l2.6,-1.4l2.5,-1.4l2.5,-1.5l2.5,-1.5l2.5,-1.6l2.5,-1.6l2.5,-1.6l2.5,-1.7l2.5,-1.6l2.5,-1.6l2.5,-1.6l2.5,-1.6l2.5,-1.6l2.5,-1.7l2.5,-1.6l2.5,-1.7l2.5,-1.7l2.5,-1.5l2.5,-1.5l2.5,-1.4l2.5,-1.2l2.5,-1.1l2.5,-.9l2.5,-.9l2.5,-.8l2.5,-.8l2.5,-.6l2.6,-.5l2.5,-.3l2.5,-.2l2.5,0l2.5,.1l2.5,.1l2.5,.3l2.5,.3l2.5,.5l2.5,.7l2.5,.9l2.5,1.2l2.5,1.4l2.5,1.6l2.5,1.7l2.5,1.7l2.5,1.6l2.5,1.7l2.5,1.7l2.5,1.7l2.5,1.7l2.5,1.8l2.5,1.8l2.5,1.8l2.5,1.8l2.5,1.8l2.5,1.8l2.5,1.8l2.6,1.9l2.5,1.8l2.5,1.9l2.5,1.8l2.5,1.8l2.5,1.8l2.5,1.6l2.5,1.6l2.5,1.4l2.5,1.4l2.5,1.4l2.5,1.3l2.5,1.3l2.5,1.2l2.5,1.2l2.5,1.1l2.5,.9l2.5,.9l2.5,.8l2.5,.6l2.5,.5l2.5,.4l2.5,.3l2.5,.3l2.5,.3l2.5,.3l2.5,.3l2.6,.2l2.5,.3l2.5,.2l2.5,.2l2.5,.2l2.5,.2l2.5,.1l2.5,.1l2.5,.2l2.5,0l2.5,.1l2.5,.1l2.5,0l2.5,0" class="cv"/>
<path d="M1168.3,1381.7l2.5,0l2.5,-.1l2.5,0l2.5,-.1l2.5,0l2.5,-.1l2.5,-.1l2.5,-.1l2.5,-.1l2.5,-.1l2.5,-.2l2.5,-.1l2.5,-.1l2.5,-.2l2.4,-.1l2.5,-.2l2.5,-.2l2.5,-.2l2.5,-.2l2.5,-.2l2.5,-.3l2.5,-.3l2.5,-.3l2.5,-.4l2.5,-.3l2.5,-.4l2.5,-.4l2.5,-.4l2.5,-.4l2.5,-.4l2.5,-.4l2.5,-.3l2.5,-.4l2.5,-.4l2.5,-.3l2.5,-.3l2.5,-.4l2.5,-.2l2.5,-.3l2.5,-.3l2.5,-.2l2.5,-.3l2.4,-.2l2.5,-.2l2.5,-.3l2.5,-.2l2.5,-.2l2.5,-.2l2.5,-.2l2.5,-.2l2.5,-.3l2.5,-.2l2.5,-.2l2.5,-.3l2.5,-.3l2.5,-.2l2.5,-.3l2.5,-.4l2.5,-.3l2.5,-.3l2.5,-.4l2.5,-.4l2.5,-.5l2.5,-.4l2.5,-.6l2.5,-.6l2.5,-.7l2.5,-.8l2.5,-.8l2.5,-.9l2.4,-1l2.5,-1.2l2.5,-1.2l2.5,-1.3l2.5,-1.5l2.5,-1.8l2.5,-2l2.5,-2.3l2.5,-2.5l2.5,-2.7l2.5,-2.9l2.5,-3.1l2.5,-3.2l2.5,-3.5l2.5,-3.7l2.5,-4l2.5,-4.4l2.5,-4.6l2.5,-4.8l2.5,-5l2.5,-5.2l2.5,-5.2l2.5,-5.4l2.5,-5.6l2.5,-5.7l2.5,-6l2.5,-6.1l2.5,-6.2l2.4,-6.2l2.5,-6.3l2.5,-6.3l2.5,-6.2l2.5,-6.3l2.5,-6.3l2.5,-6.3l2.5,-6.3l2.5,-6.3l2.5,-6.1l2.5,-5.9l2.5,-5.6l2.5,-5.4l2.5,-5.1l2.5,-4.8l2.5,-4.6l2.5,-4.5l2.5,-4.3l2.5,-4.2l2.5,-4l2.5,-3.8l2.5,-3.6l2.5,-3.5l2.5,-3.3l2.5,-3.2l2.5,-3.1l2.5,-3l2.5,-3l2.4,-2.8l2.5,-2.6l2.5,-2.5l2.5,-2.2l2.5,-1.8l2.5,-1.6l2.5,-1.4l2.5,-1.1l2.5,-1l2.5,-.9l2.5,-.7l2.5,-.5l2.5,-.4l2.5,0l2.5,.4l2.5,.7l2.5,1.2l2.5,1.6l2.5,1.8l2.5,2.1l2.5,2.2l2.5,2.4l2.5,2.7l2.5,3l2.5,3.2l2.5,3.6l2.5,3.7l2.5,4l2.4,4l2.5,4.2l2.5,4.2l2.5,4.4l2.5,4.5l2.5,4.7l2.5,4.9l2.5,5l2.5,5.2l2.5,5.3l2.5,5.4l2.5,5.6l2.5,5.8l2.5,6l2.5,6.3l2.5,6.4l2.5,6.5l2.5,6.6l2.5,6.6l2.5,6.5l2.5,6.5l2.5,6.4l2.5,6.3l2.5,6.4l2.5,6.5l2.5,6.3l2.5,6.3l2.5,6.1l2.4,5.8l2.5,5.6l2.5,5.2l2.5,4.8l2.5,4.5l2.5,4.3l2.5,4.1l2.5,3.9l2.5,3.8l2.5,3.5l2.5,3.3l2.5,3.1l2.5,2.8l2.5,2.5l2.5,2.3l2.5,2l2.5,2l2.5,1.9l2.5,1.8l2.5,1.7l2.5,1.5l2.5,1.5l2.5,1.2l2.5,1.1l2.5,.8l2.5,.7l2.5,.4l2.5,.4l2.4,.2l2.5,.2l2.5,.2l2.5,.2l2.5,.2l2.5,.1l2.5,.2l2.5,.1l2.5,.1l2.5,.1l2.5,0l2.5,.1l2.5,0l2.5,.1l2.5,0" class="cv"/>
<path d="M1744.5,1385.0l2.5,-.1l2.5,-.1l2.5,-.2l2.5,-.1l2.5,-.2l2.5,-.2l2.5,-.2l2.5,-.2l2.5,-.3l2.5,-.3l2.5,-.2l2.5,-.3l2.5,-.3l2.6,-.4l2.5,-.3l2.5,-.3l2.5,-.4l2.5,-.4l2.5,-.4l2.5,-.4l2.5,-.5l2.5,-.5l2.5,-.5l2.5,-.6l2.5,-.6l2.5,-.6l2.5,-.7l2.5,-.6l2.5,-.7l2.5,-.8l2.5,-.8l2.5,-.8l2.5,-.9l2.5,-1l2.5,-.9l2.5,-1l2.5,-1.1l2.5,-1l2.5,-1.1l2.5,-1.2l2.6,-1.1l2.5,-1.3l2.5,-1.3l2.5,-1.3l2.5,-1.4l2.5,-1.4l2.5,-1.5l2.5,-1.4l2.5,-1.4l2.5,-1.4l2.5,-1.3l2.5,-1.3l2.5,-1.3l2.5,-1.3l2.5,-1.3l2.5,-1.2l2.5,-1.2l2.5,-1.2l2.5,-1.1l2.5,-1l2.5,-.9l2.5,-.8l2.5,-.7l2.5,-.7l2.5,-.6l2.5,-.5l2.5,-.5l2.6,-.4l2.5,-.2l2.5,-.1l2.5,0l2.5,.1l2.5,.1l2.5,.3l2.5,.3l2.5,.5l2.5,.6l2.5,.8l2.5,1.1l2.5,1.2l2.5,1.4l2.5,1.5l2.5,1.5l2.5,1.5l2.5,1.6l2.5,1.5l2.5,1.6l2.5,1.6l2.5,1.7l2.5,1.7l2.5,1.6l2.5,1.7l2.5,1.7l2.5,1.6l2.5,1.6l2.6,1.6l2.5,1.7l2.5,1.6l2.5,1.6l2.5,1.5l2.5,1.5l2.5,1.4l2.5,1.3l2.5,1.1l2.5,1.2l2.5,1l2.5,1l2.5,1l2.5,1l2.5,.9l2.5,.8l2.5,.7l2.5,.7l2.5,.5l2.5,.4l2.5,.4l2.5,.3l2.5,.2l2.5,.2l2.5,.2l2.5,.2l2.5,.2l2.6,.2l2.5,.1l2.5,.2l2.5,.1l2.5,.1l2.5,.1l2.5,.1l2.5,.1l2.5,.1l2.5,.1l2.5,0l2.5,.1l2.5,0l2.5,0" class="cv"/>
<path d="M1168.3,1458.3l2.5,-.2l2.5,-.2l2.5,-.1l2.5,-.2l2.5,-.2l2.5,-.2l2.5,-.2l2.5,-.2l2.5,-.2l2.5,-.2l2.5,-.2l2.5,-.2l2.5,-.2l2.5,-.2l2.4,-.2l2.5,-.3l2.5,-.2l2.5,-.2l2.5,-.3l2.5,-.3l2.5,-.3l2.5,-.3l2.5,-.3l2.5,-.4l2.5,-.3l2.5,-.3l2.5,-.3l2.5,-.3l2.5,-.3l2.5,-.3l2.5,-.2l2.5,-.2l2.5,-.2l2.5,-.2l2.5,-.1l2.5,0l2.5,-.1l2.5,0l2.5,0l2.5,.1l2.5,0l2.5,0l2.4,.1l2.5,0l2.5,.1l2.5,0l2.5,.1l2.5,0l2.5,.1l2.5,0l2.5,.1l2.5,0l2.5,0l2.5,.1l2.5,0l2.5,0l2.5,0l2.5,0l2.5,0l2.5,0l2.5,0l2.5,0l2.5,0l2.5,0l2.5,0l2.5,0l2.5,0l2.5,0l2.5,0l2.5,0l2.4,0l2.5,0l2.5,-.1l2.5,-.2l2.5,-.3l2.5,-.7l2.5,-1l2.5,-1.2l2.5,-1.6l2.5,-1.8l2.5,-1.9l2.5,-2.1l2.5,-2.3l2.5,-2.5l2.5,-2.8l2.5,-3.1l2.5,-3.6l2.5,-3.9l2.5,-4.2l2.5,-4.4l2.5,-4.5l2.5,-4.8l2.5,-5l2.5,-5.2l2.5,-5.5l2.5,-5.8l2.5,-6.1l2.5,-6.2l2.4,-6.4l2.5,-6.4l2.5,-6.5l2.5,-6.4l2.5,-6.4l2.5,-6.4l2.5,-6.4l2.5,-6.5l2.5,-6.5l2.5,-6.5l2.5,-6.4l2.5,-6.3l2.5,-6.3l2.5,-6.1l2.5,-6.2l2.5,-6.1l2.5,-6.1l2.5,-6.1l2.5,-5.9l2.5,-5.7l2.5,-5.5l2.5,-5.1l2.5,-4.8l2.5,-4.5l2.5,-4.2l2.5,-3.9l2.5,-3.8l2.5,-3.6l2.4,-3.4l2.5,-3.2l2.5,-3l2.5,-2.7l2.5,-2.5l2.5,-2.2l2.5,-1.9l2.5,-1.8l2.5,-1.6l2.5,-1.5l2.5,-1.4l2.5,-1.2l2.5,-.9l2.5,-.7l2.5,-.3l2.5,0l2.5,.5l2.5,.9l2.5,1.2l2.5,1.6l2.5,1.7l2.5,1.9l2.5,2.2l2.5,2.3l2.5,2.8l2.5,3l2.5,3.4l2.5,3.7l2.4,3.9l2.5,4.1l2.5,4.3l2.5,4.5l2.5,4.7l2.5,4.9l2.5,5.3l2.5,5.5l2.5,5.8l2.5,6l2.5,6l2.5,6.1l2.5,6.2l2.5,6.2l2.5,6.2l2.5,6.3l2.5,6.5l2.5,6.5l2.5,6.5l2.5,6.5l2.5,6.5l2.5,6.4l2.5,6.5l2.5,6.4l2.5,6.5l2.5,6.5l2.5,6.5l2.5,6.3l2.4,6.1l2.5,5.7l2.5,5.4l2.5,5l2.5,4.6l2.5,4.4l2.5,4.1l2.5,3.9l2.5,3.8l2.5,3.5l2.5,3.3l2.5,3.1l2.5,2.8l2.5,2.5l2.5,2.3l2.5,2.1l2.5,2l2.5,1.9l2.5,1.8l2.5,1.7l2.5,1.6l2.5,1.5l2.5,1.2l2.5,1.1l2.5,.8l2.5,.5l2.5,.4l2.5,.2l2.4,.2l2.5,.1l2.5,0l2.5,.1l2.5,.1l2.5,0l2.5,.1l2.5,0l2.5,.1l2.5,0l2.5,0l2.5,.1l2.5,0l2.5,0l2.5,0" class="cv"/>
<path d="M1744.5,1456.2l2.5,0l2.5,0l2.5,0l2.5,-.1l2.5,0l2.5,-.1l2.5,0l2.5,-.1l2.5,-.1l2.5,-.1l2.5,-.1l2.5,-.1l2.5,-.1l2.6,-.1l2.5,-.2l2.5,-.1l2.5,-.2l2.5,-.1l2.5,-.2l2.5,-.3l2.5,-.3l2.5,-.3l2.5,-.3l2.5,-.4l2.5,-.3l2.5,-.4l2.5,-.5l2.5,-.4l2.5,-.5l2.5,-.6l2.5,-.7l2.5,-.7l2.5,-.7l2.5,-.8l2.5,-.9l2.5,-.9l2.5,-1l2.5,-1l2.5,-1.1l2.5,-1.1l2.6,-1.2l2.5,-1.2l2.5,-1.4l2.5,-1.5l2.5,-1.5l2.5,-1.6l2.5,-1.7l2.5,-1.7l2.5,-1.7l2.5,-1.7l2.5,-1.7l2.5,-1.7l2.5,-1.8l2.5,-1.8l2.5,-1.9l2.5,-1.9l2.5,-1.9l2.5,-1.8l2.5,-1.8l2.5,-1.7l2.5,-1.5l2.5,-1.3l2.5,-1.3l2.5,-1.2l2.5,-1.1l2.5,-1.1l2.5,-.9l2.6,-.7l2.5,-.5l2.5,-.2l2.5,-.2l2.5,.1l2.5,.1l2.5,.1l2.5,.2l2.5,.4l2.5,.6l2.5,.9l2.5,1.2l2.5,1.4l2.5,1.6l2.5,1.7l2.5,1.7l2.5,1.8l2.5,1.7l2.5,1.8l2.5,1.8l2.5,1.9l2.5,2l2.5,1.9l2.5,2l2.5,1.9l2.5,1.9l2.5,1.8l2.5,1.8l2.6,1.8l2.5,1.8l2.5,1.8l2.5,1.7l2.5,1.7l2.5,1.5l2.5,1.5l2.5,1.4l2.5,1.2l2.5,1.2l2.5,1.1l2.5,1.1l2.5,1.1l2.5,1l2.5,.9l2.5,.9l2.5,.7l2.5,.7l2.5,.6l2.5,.4l2.5,.4l2.5,.3l2.5,.2l2.5,.2l2.5,.2l2.5,.2l2.5,.2l2.6,.2l2.5,.1l2.5,.2l2.5,.1l2.5,.1l2.5,.1l2.5,.1l2.5,.1l2.5,.1l2.5,.1l2.5,0l2.5,.1l2.5,0l2.5,0" class="cv"/>
<path d="M1168.3,1530.0l2.5,0l2.5,-.1l2.5,-.1l2.5,0l2.5,-.1l2.5,-.1l2.5,-.1l2.5,-.1l2.5,-.1l2.5,-.1l2.5,-.1l2.5,-.2l2.5,-.1l2.5,-.1l2.4,-.2l2.5,-.1l2.5,-.2l2.5,-.1l2.5,-.2l2.5,-.2l2.5,-.2l2.5,-.3l2.5,-.2l2.5,-.3l2.5,-.2l2.5,-.3l2.5,-.3l2.5,-.3l2.5,-.3l2.5,-.2l2.5,-.3l2.5,-.3l2.5,-.3l2.5,-.2l2.5,-.3l2.5,-.2l2.5,-.2l2.5,-.3l2.5,-.2l2.5,-.2l2.5,-.2l2.5,-.2l2.4,-.2l2.5,-.2l2.5,-.2l2.5,-.2l2.5,-.2l2.5,-.2l2.5,-.2l2.5,-.2l2.5,-.2l2.5,-.2l2.5,-.2l2.5,-.2l2.5,-.2l2.5,-.2l2.5,-.1l2.5,-.2l2.5,-.2l2.5,-.1l2.5,-.1l2.5,-.2l2.5,-.1l2.5,-.2l2.5,-.1l2.5,-.2l2.5,-.1l2.5,-.2l2.5,-.3l2.5,-.2l2.4,-.4l2.5,-.4l2.5,-.6l2.5,-.7l2.5,-.9l2.5,-1l2.5,-1.1l2.5,-1.3l2.5,-1.4l2.5,-1.5l2.5,-1.7l2.5,-1.9l2.5,-2.2l2.5,-2.4l2.5,-2.7l2.5,-2.9l2.5,-3.2l2.5,-3.3l2.5,-3.6l2.5,-3.8l2.5,-4.1l2.5,-4.4l2.5,-4.8l2.5,-5.1l2.5,-5.4l2.5,-5.6l2.5,-5.8l2.5,-6l2.4,-6l2.5,-6.2l2.5,-6.4l2.5,-6.6l2.5,-6.8l2.5,-6.9l2.5,-7l2.5,-7l2.5,-6.9l2.5,-6.7l2.5,-6.7l2.5,-6.6l2.5,-6.5l2.5,-6.5l2.5,-6.4l2.5,-6.2l2.5,-6.1l2.5,-5.7l2.5,-5.4l2.5,-5.1l2.5,-4.8l2.5,-4.6l2.5,-4.4l2.5,-4.3l2.5,-4l2.5,-3.9l2.5,-3.6l2.5,-3.3l2.4,-3.1l2.5,-2.8l2.5,-2.5l2.5,-2.4l2.5,-2.2l2.5,-2.1l2.5,-2l2.5,-1.8l2.5,-1.5l2.5,-1.2l2.5,-.8l2.5,-.5l2.5,-.3l2.5,-.1l2.5,0l2.5,.2l2.5,.2l2.5,.6l2.5,1l2.5,1.3l2.5,1.7l2.5,2l2.5,2.1l2.5,2.3l2.5,2.5l2.5,2.7l2.5,3l2.5,3.3l2.4,3.5l2.5,3.8l2.5,4l2.5,4.1l2.5,4.4l2.5,4.6l2.5,4.8l2.5,5.2l2.5,5.4l2.5,5.8l2.5,5.9l2.5,6l2.5,6.1l2.5,6.2l2.5,6.2l2.5,6.2l2.5,6.4l2.5,6.4l2.5,6.6l2.5,6.5l2.5,6.5l2.5,6.5l2.5,6.4l2.5,6.2l2.5,6.3l2.5,6.1l2.5,6.1l2.5,6.1l2.4,5.9l2.5,5.8l2.5,5.5l2.5,5.2l2.5,4.9l2.5,4.5l2.5,4.4l2.5,4.1l2.5,4.1l2.5,3.8l2.5,3.6l2.5,3.5l2.5,3.1l2.5,2.9l2.5,2.6l2.5,2.3l2.5,2.1l2.5,2l2.5,1.9l2.5,1.8l2.5,1.6l2.5,1.6l2.5,1.4l2.5,1.3l2.5,1l2.5,.9l2.5,.6l2.5,.4l2.4,.3l2.5,.2l2.5,.1l2.5,.1l2.5,.1l2.5,.1l2.5,.1l2.5,.1l2.5,0l2.5,.1l2.5,0l2.5,0l2.5,.1l2.5,0l2.5,0" class="cv"/>
<path d="M1744.5,1531.2l2.5,-.1l2.5,-.2l2.5,-.1l2.5,-.2l2.5,-.2l2.5,-.2l2.5,-.2l2.5,-.3l2.5,-.2l2.5,-.3l2.5,-.2l2.5,-.3l2.5,-.3l2.6,-.3l2.5,-.3l2.5,-.3l2.5,-.3l2.5,-.3l2.5,-.3l2.5,-.4l2.5,-.4l2.5,-.4l2.5,-.4l2.5,-.4l2.5,-.5l2.5,-.5l2.5,-.5l2.5,-.6l2.5,-.5l2.5,-.7l2.5,-.6l2.5,-.7l2.5,-.8l2.5,-.8l2.5,-.9l2.5,-.8l2.5,-1l2.5,-1l2.5,-1l2.5,-1.2l2.6,-1.2l2.5,-1.3l2.5,-1.5l2.5,-1.6l2.5,-1.7l2.5,-1.7l2.5,-1.8l2.5,-1.8l2.5,-1.9l2.5,-1.8l2.5,-1.7l2.5,-1.8l2.5,-1.7l2.5,-1.7l2.5,-1.8l2.5,-1.7l2.5,-1.8l2.5,-1.6l2.5,-1.6l2.5,-1.6l2.5,-1.4l2.5,-1.3l2.5,-1.3l2.5,-1.3l2.5,-1.2l2.5,-1.1l2.5,-.9l2.6,-.8l2.5,-.6l2.5,-.3l2.5,0l2.5,0l2.5,.2l2.5,.2l2.5,.4l2.5,.4l2.5,.7l2.5,.9l2.5,1.2l2.5,1.5l2.5,1.5l2.5,1.7l2.5,1.7l2.5,1.7l2.5,1.8l2.5,1.8l2.5,1.8l2.5,1.9l2.5,1.9l2.5,2l2.5,1.9l2.5,1.9l2.5,1.9l2.5,1.8l2.5,1.8l2.6,1.8l2.5,1.8l2.5,1.7l2.5,1.7l2.5,1.7l2.5,1.6l2.5,1.5l2.5,1.4l2.5,1.3l2.5,1.3l2.5,1.2l2.5,1.1l2.5,1.2l2.5,1l2.5,1.1l2.5,.9l2.5,.9l2.5,.8l2.5,.7l2.5,.6l2.5,.5l2.5,.4l2.5,.4l2.5,.4l2.5,.3l2.5,.4l2.5,.3l2.6,.3l2.5,.3l2.5,.2l2.5,.3l2.5,.2l2.5,.2l2.5,.2l2.5,.2l2.5,.1l2.5,.1l2.5,.1l2.5,.1l2.5,.1l2.5,0" class="cv"/>
<text x="1199.9" y="949.1" class="pl" >(d)</text>
<text x="1464.7" y="917.7" class="lb" textLength="121" lengthAdjust="spacingAndGlyphs">200/110</text>
<text x="1906.0" y="1124.0" class="lb" textLength="56" lengthAdjust="spacingAndGlyphs">203</text>
<text x="1998.5" y="1185.5" class="lb" textLength="89" lengthAdjust="spacingAndGlyphs">0 wt%</text>
<text x="1997.3" y="1277.0" class="lb" textLength="89" lengthAdjust="spacingAndGlyphs">1 wt%</text>
<text x="1994.8" y="1362.0" class="lb" textLength="90" lengthAdjust="spacingAndGlyphs">2 wt%</text>
<text x="1998.5" y="1436.0" class="lb" textLength="89" lengthAdjust="spacingAndGlyphs">3 wt%</text>
<text x="1993.5" y="1506.0" class="lb" textLength="90" lengthAdjust="spacingAndGlyphs">4 wt%</text>
<text x="0.0" y="0.0" class="ax" transform="translate(1109.7,1307.5) rotate(-90)" textLength="196" lengthAdjust="spacingAndGlyphs">Intensity /a.u.</text>
<text x="1609.0" y="1651.5" class="th" >2θ</text>
<line x1="103.8" y1="1701.7" x2="1021.0" y2="1701.7" stroke="#000" stroke-width="3.0"/>
<line x1="103.8" y1="2388.3" x2="1021.0" y2="2388.3" stroke="#000" stroke-width="3.5"/>
<line x1="103.8" y1="1700.2" x2="103.8" y2="2389.8" stroke="#000" stroke-width="3.0"/>
<line x1="1021.0" y1="1700.2" x2="1021.0" y2="2390.1" stroke="#000" stroke-width="4.5"/>
<line x1="122.7" y1="2388.3" x2="122.7" y2="2380.8" stroke="#000" stroke-width="2.8"/>
<line x1="215.7" y1="2388.3" x2="215.7" y2="2375.3" stroke="#000" stroke-width="2.8"/>
<text x="215.7" y="2426.0" class="tk" text-anchor="middle" textLength="49" lengthAdjust="spacingAndGlyphs">16.0</text>
<line x1="309.3" y1="2388.3" x2="309.3" y2="2380.8" stroke="#000" stroke-width="2.8"/>
<line x1="404.0" y1="2388.3" x2="404.0" y2="2375.3" stroke="#000" stroke-width="2.8"/>
<text x="404.0" y="2426.0" class="tk" text-anchor="middle" textLength="49" lengthAdjust="spacingAndGlyphs">16.5</text>
<line x1="496.7" y1="2388.3" x2="496.7" y2="2380.8" stroke="#000" stroke-width="2.8"/>
<line x1="590.5" y1="2388.3" x2="590.5" y2="2375.3" stroke="#000" stroke-width="2.8"/>
<text x="590.5" y="2426.0" class="tk" text-anchor="middle" textLength="49" lengthAdjust="spacingAndGlyphs">17.0</text>
<line x1="729.3" y1="2388.3" x2="729.3" y2="2375.3" stroke="#000" stroke-width="2.8"/>
<text x="729.3" y="2426.0" class="tk" text-anchor="middle" textLength="49" lengthAdjust="spacingAndGlyphs">18.5</text>
<line x1="790.7" y1="2388.3" x2="790.7" y2="2380.8" stroke="#000" stroke-width="2.8"/>
<line x1="852.3" y1="2388.3" x2="852.3" y2="2375.3" stroke="#000" stroke-width="2.8"/>
<text x="852.3" y="2426.0" class="tk" text-anchor="middle" textLength="49" lengthAdjust="spacingAndGlyphs">19.0</text>
<line x1="912.7" y1="2388.3" x2="912.7" y2="2380.8" stroke="#000" stroke-width="2.8"/>
<line x1="973.3" y1="2388.3" x2="973.3" y2="2375.3" stroke="#000" stroke-width="2.8"/>
<text x="973.3" y="2426.0" class="tk" text-anchor="middle" textLength="49" lengthAdjust="spacingAndGlyphs">19.5</text>
<line x1="656.5" y1="1715.7" x2="673.5" y2="1687.7" stroke="#000" stroke-width="3"/>
<line x1="672.3" y1="1715.7" x2="689.3" y2="1687.7" stroke="#000" stroke-width="3"/>
<line x1="666.5" y1="1701.7" x2="678.0" y2="1701.7" stroke="#fff" stroke-width="5"/>
<line x1="656.5" y1="2402.3" x2="673.5" y2="2374.3" stroke="#000" stroke-width="3"/>
<line x1="672.3" y1="2402.3" x2="689.3" y2="2374.3" stroke="#000" stroke-width="3"/>
<line x1="666.5" y1="2388.3" x2="678.0" y2="2388.3" stroke="#fff" stroke-width="5"/>
<line x1="458.3" y1="1755.0" x2="458.3" y2="2388.3" stroke="#000" stroke-width="2.3" stroke-dasharray="10.5 3.5 4 4"/>
<line x1="863.8" y1="1975.0" x2="863.8" y2="2388.3" stroke="#000" stroke-width="2.3" stroke-dasharray="10.5 3.5 4 4"/>
<path d="M105.0,2060.0l2.5,0l2.5,0l2.5,0l2.5,-.1l2.5,0l2.5,0l2.5,-.1l2.5,0l2.5,-.1l2.5,-.1l2.5,0l2.4,-.1l2.5,-.1l2.5,-.1l2.5,-.1l2.5,-.1l2.5,-.1l2.5,-.1l2.5,-.1l2.5,-.2l2.5,-.1l2.5,-.1l2.5,-.2l2.5,-.2l2.5,-.3l2.5,-.4l2.5,-.4l2.5,-.5l2.5,-.5l2.5,-.6l2.5,-.7l2.5,-.6l2.5,-.7l2.4,-.7l2.5,-.7l2.5,-.7l2.5,-.8l2.5,-.7l2.5,-.6l2.5,-.7l2.5,-.6l2.5,-.6l2.5,-.6l2.5,-.5l2.5,-.5l2.5,-.5l2.5,-.5l2.5,-.5l2.5,-.5l2.5,-.5l2.5,-.4l2.5,-.5l2.5,-.5l2.5,-.4l2.5,-.5l2.5,-.5l2.4,-.5l2.5,-.5l2.5,-.5l2.5,-.6l2.5,-.5l2.5,-.6l2.5,-.5l2.5,-.6l2.5,-.6l2.5,-.6l2.5,-.6l2.5,-.6l2.5,-.7l2.5,-.6l2.5,-.8l2.5,-.8l2.5,-.8l2.5,-.9l2.5,-1.1l2.5,-1.1l2.5,-1.3l2.5,-1.4l2.4,-1.5l2.5,-1.7l2.5,-1.8l2.5,-1.9l2.5,-2l2.5,-2.1l2.5,-2.2l2.5,-2.4l2.5,-2.5l2.5,-2.7l2.5,-3l2.5,-3.1l2.5,-3.3l2.5,-3.4l2.5,-3.7l2.5,-3.7l2.5,-4l2.5,-4.2l2.5,-4.5l2.5,-4.7l2.5,-5l2.5,-5.1l2.5,-5.2l2.4,-5.4l2.5,-5.3l2.5,-5.5l2.5,-5.5l2.5,-5.5l2.5,-5.7l2.5,-5.7l2.5,-5.8l2.5,-5.8l2.5,-5.8l2.5,-5.7l2.5,-5.7l2.5,-5.6l2.5,-5.6l2.5,-5.6l2.5,-5.6l2.5,-5.5l2.5,-5.4l2.5,-5.2l2.5,-5.1l2.5,-5l2.5,-4.7l2.4,-4.7l2.5,-4.6l2.5,-4.5l2.5,-4.3l2.5,-4.1l2.5,-3.9l2.5,-3.5l2.5,-3.1l2.5,-2.7l2.5,-2.5l2.5,-2.2l2.5,-2.1l2.5,-1.9l2.5,-1.7l2.5,-1.5l2.5,-1.2l2.5,-.8l2.5,-.5l2.5,0l2.5,.4l2.5,.8l2.5,1.1l2.5,1.4l2.4,1.7l2.5,1.8l2.5,2l2.5,2.3l2.5,2.7l2.5,3l2.5,3.5l2.5,3.9l2.5,4.1l2.5,4.4l2.5,4.5l2.5,4.7l2.5,4.9l2.5,5.2l2.5,5.4l2.5,5.7l2.5,5.8l2.5,6l2.5,6.1l2.5,6.1l2.5,6.1l2.5,6.3l2.4,6.3l2.5,6.4l2.5,6.6l2.5,6.5l2.5,6.5l2.5,6.5l2.5,6.4l2.5,6.3l2.5,6.2l2.5,6.1l2.5,6.1l2.5,6l2.5,6l2.5,5.7l2.5,5.6l2.5,5.3l2.5,5l2.5,4.7l2.5,4.6l2.5,4.3l2.5,4.2l2.5,4.1l2.5,3.9l2.4,3.7l2.5,3.5l2.5,3.3l2.5,3.1l2.5,2.9l2.5,2.7l2.5,2.6l2.5,2.6l2.5,2.5l2.5,2.4l2.5,2.2l2.5,2.1l2.5,1.9l2.5,1.7l2.5,1.3l2.5,1.1l2.5,.8l2.5,.6l2.5,.4l2.5,.4l2.5,.3l2.5,.3l2.4,.3l2.5,.2l2.5,.3l2.5,.2l2.5,.2l2.5,.1l2.5,.1l2.5,.2l2.5,.1l2.5,0l2.5,.1l2.5,0" class="cv"/>
<path d="M681.2,2062.0l2.6,-.2l2.5,-.2l2.5,-.2l2.5,-.2l2.5,-.3l2.5,-.3l2.5,-.2l2.5,-.3l2.5,-.3l2.5,-.4l2.5,-.3l2.5,-.3l2.5,-.4l2.5,-.4l2.5,-.3l2.5,-.4l2.5,-.4l2.5,-.4l2.5,-.5l2.5,-.4l2.5,-.5l2.5,-.5l2.5,-.5l2.5,-.6l2.5,-.6l2.5,-.5l2.5,-.7l2.5,-.6l2.5,-.6l2.5,-.7l2.5,-.7l2.5,-.8l2.5,-.8l2.5,-.8l2.5,-.9l2.5,-.9l2.5,-.9l2.5,-1l2.5,-1l2.5,-1.1l2.5,-1.1l2.5,-1.1l2.5,-1.2l2.5,-1.3l2.5,-1.3l2.5,-1.4l2.5,-1.5l2.5,-1.5l2.5,-1.6l2.5,-1.6l2.5,-1.7l2.5,-1.6l2.5,-1.5l2.6,-1.6l2.5,-1.4l2.5,-1.5l2.5,-1.4l2.5,-1.4l2.5,-1.4l2.5,-1.4l2.5,-1.3l2.5,-1.3l2.5,-1.1l2.5,-1l2.5,-1l2.5,-.8l2.5,-.7l2.5,-.7l2.5,-.6l2.5,-.4l2.5,-.2l2.5,-.1l2.5,.2l2.5,.2l2.5,.4l2.5,.5l2.5,.6l2.5,.9l2.5,1.1l2.5,1.3l2.5,1.6l2.5,1.6l2.5,1.7l2.5,1.7l2.5,1.8l2.5,1.7l2.5,1.8l2.5,1.8l2.5,1.9l2.5,1.9l2.5,2l2.5,1.9l2.5,1.9l2.5,1.9l2.5,1.8l2.5,1.8l2.5,1.8l2.5,1.8l2.5,1.8l2.5,1.7l2.5,1.7l2.5,1.6l2.5,1.5l2.5,1.5l2.5,1.3l2.5,1.2l2.5,1.1l2.5,1.1l2.6,1l2.5,1l2.5,.9l2.5,.9l2.5,.7l2.5,.6l2.5,.6l2.5,.4l2.5,.4l2.5,.4l2.5,.3l2.5,.3l2.5,.3l2.5,.2l2.5,.2l2.5,.1l2.5,.1l2.5,0l2.5,0l2.5,0l2.5,0l2.5,0l2.5,0l2.5,.1l2.5,0l2.5,0l2.5,0" class="cv"/>
<path d="M105.0,2136.7l2.5,0l2.5,0l2.5,0l2.5,-.1l2.5,0l2.5,-.1l2.5,0l2.5,-.1l2.5,0l2.5,-.1l2.5,-.1l2.4,0l2.5,-.1l2.5,-.1l2.5,-.1l2.5,-.1l2.5,-.1l2.5,-.1l2.5,-.1l2.5,-.2l2.5,-.1l2.5,-.1l2.5,-.2l2.5,-.2l2.5,-.2l2.5,-.3l2.5,-.3l2.5,-.4l2.5,-.4l2.5,-.4l2.5,-.5l2.5,-.5l2.5,-.4l2.4,-.6l2.5,-.5l2.5,-.5l2.5,-.5l2.5,-.5l2.5,-.4l2.5,-.5l2.5,-.4l2.5,-.4l2.5,-.3l2.5,-.4l2.5,-.3l2.5,-.3l2.5,-.3l2.5,-.2l2.5,-.3l2.5,-.2l2.5,-.3l2.5,-.2l2.5,-.2l2.5,-.3l2.5,-.2l2.5,-.3l2.4,-.2l2.5,-.3l2.5,-.3l2.5,-.3l2.5,-.3l2.5,-.4l2.5,-.4l2.5,-.4l2.5,-.5l2.5,-.5l2.5,-.6l2.5,-.7l2.5,-.7l2.5,-.9l2.5,-.9l2.5,-1l2.5,-1.1l2.5,-1.1l2.5,-1.3l2.5,-1.3l2.5,-1.4l2.5,-1.6l2.4,-1.8l2.5,-1.9l2.5,-2l2.5,-2.3l2.5,-2.3l2.5,-2.5l2.5,-2.6l2.5,-2.7l2.5,-2.9l2.5,-3.1l2.5,-3.3l2.5,-3.5l2.5,-3.8l2.5,-3.9l2.5,-4.2l2.5,-4.4l2.5,-4.6l2.5,-4.8l2.5,-5l2.5,-5.4l2.5,-5.8l2.5,-6l2.5,-6.2l2.4,-6.4l2.5,-6.4l2.5,-6.4l2.5,-6.2l2.5,-6.3l2.5,-6.2l2.5,-6.2l2.5,-6.1l2.5,-6.2l2.5,-6.1l2.5,-6l2.5,-5.9l2.5,-5.8l2.5,-5.6l2.5,-5.6l2.5,-5.5l2.5,-5.4l2.5,-5.4l2.5,-5.1l2.5,-5l2.5,-4.6l2.5,-4.4l2.4,-4l2.5,-3.8l2.5,-3.6l2.5,-3.3l2.5,-3.3l2.5,-3l2.5,-2.8l2.5,-2.5l2.5,-2.3l2.5,-2l2.5,-1.8l2.5,-1.7l2.5,-1.5l2.5,-1.3l2.5,-1.2l2.5,-.8l2.5,-.6l2.5,-.2l2.5,.3l2.5,.5l2.5,.9l2.5,1.2l2.5,1.4l2.4,1.6l2.5,1.8l2.5,2.1l2.5,2.4l2.5,2.9l2.5,3.3l2.5,3.6l2.5,3.9l2.5,4.1l2.5,4.3l2.5,4.4l2.5,4.6l2.5,4.9l2.5,5.1l2.5,5.4l2.5,5.6l2.5,5.9l2.5,6l2.5,6.1l2.5,6.2l2.5,6.3l2.5,6.5l2.4,6.6l2.5,6.8l2.5,6.9l2.5,7l2.5,6.9l2.5,6.9l2.5,6.7l2.5,6.5l2.5,6.4l2.5,6.2l2.5,6.2l2.5,6l2.5,5.9l2.5,5.7l2.5,5.6l2.5,5.2l2.5,5l2.5,4.8l2.5,4.6l2.5,4.4l2.5,4.3l2.5,4.2l2.5,4l2.4,3.7l2.5,3.5l2.5,3.2l2.5,3l2.5,2.6l2.5,2.4l2.5,2.2l2.5,2.1l2.5,2l2.5,1.9l2.5,1.7l2.5,1.7l2.5,1.4l2.5,1.2l2.5,1.1l2.5,.8l2.5,.5l2.5,.4l2.5,.4l2.5,.2l2.5,.2l2.5,.2l2.4,.2l2.5,.2l2.5,.1l2.5,.2l2.5,.1l2.5,.1l2.5,.1l2.5,0l2.5,.1l2.5,0l2.5,.1l2.5,0" class="cv"/>
<path d="M681.2,2138.0l2.6,-.2l2.5,-.2l2.5,-.2l2.5,-.2l2.5,-.2l2.5,-.3l2.5,-.3l2.5,-.2l2.5,-.3l2.5,-.3l2.5,-.3l2.5,-.4l2.5,-.3l2.5,-.3l2.5,-.4l2.5,-.4l2.5,-.3l2.5,-.4l2.5,-.4l2.5,-.5l2.5,-.4l2.5,-.5l2.5,-.5l2.5,-.5l2.5,-.5l2.5,-.5l2.5,-.6l2.5,-.6l2.5,-.6l2.5,-.7l2.5,-.7l2.5,-.7l2.5,-.8l2.5,-.8l2.5,-.8l2.5,-1l2.5,-.9l2.5,-1l2.5,-1l2.5,-1.1l2.5,-1.1l2.5,-1.2l2.5,-1.2l2.5,-1.2l2.5,-1.4l2.5,-1.4l2.5,-1.6l2.5,-1.6l2.5,-1.6l2.5,-1.7l2.5,-1.7l2.5,-1.6l2.5,-1.6l2.6,-1.6l2.5,-1.5l2.5,-1.4l2.5,-1.4l2.5,-1.4l2.5,-1.4l2.5,-1.3l2.5,-1.2l2.5,-1.2l2.5,-1.1l2.5,-1l2.5,-.8l2.5,-.8l2.5,-.7l2.5,-.6l2.5,-.5l2.5,-.4l2.5,-.2l2.5,0l2.5,.2l2.5,.3l2.5,.5l2.5,.6l2.5,.8l2.5,1l2.5,1.3l2.5,1.5l2.5,1.6l2.5,1.8l2.5,1.8l2.5,1.9l2.5,1.8l2.5,1.9l2.5,1.8l2.5,1.9l2.5,1.8l2.5,2l2.5,1.9l2.5,1.9l2.5,1.9l2.5,1.9l2.5,1.8l2.5,1.8l2.5,1.8l2.5,1.8l2.5,1.8l2.5,1.8l2.5,1.7l2.5,1.6l2.5,1.5l2.5,1.4l2.5,1.2l2.5,1.2l2.5,1l2.5,1l2.6,1l2.5,.9l2.5,.8l2.5,.7l2.5,.5l2.5,.5l2.5,.3l2.5,.3l2.5,.1l2.5,.1l2.5,.2l2.5,.1l2.5,.1l2.5,0l2.5,.1l2.5,.1l2.5,.1l2.5,0l2.5,.1l2.5,0l2.5,.1l2.5,0l2.5,0l2.5,.1l2.5,0l2.5,0l2.5,0" class="cv"/>
<path d="M105.0,2212.7l2.5,0l2.5,0l2.5,-.1l2.5,0l2.5,-.1l2.5,-.1l2.5,0l2.5,-.1l2.5,-.1l2.5,-.2l2.5,-.1l2.4,-.1l2.5,-.2l2.5,-.1l2.5,-.2l2.5,-.1l2.5,-.2l2.5,-.2l2.5,-.1l2.5,-.2l2.5,-.2l2.5,-.2l2.5,-.2l2.5,-.2l2.5,-.3l2.5,-.3l2.5,-.3l2.5,-.4l2.5,-.4l2.5,-.4l2.5,-.4l2.5,-.5l2.5,-.5l2.4,-.4l2.5,-.5l2.5,-.5l2.5,-.5l2.5,-.5l2.5,-.4l2.5,-.5l2.5,-.4l2.5,-.5l2.5,-.4l2.5,-.4l2.5,-.3l2.5,-.4l2.5,-.3l2.5,-.4l2.5,-.3l2.5,-.3l2.5,-.4l2.5,-.3l2.5,-.3l2.5,-.4l2.5,-.4l2.5,-.3l2.4,-.4l2.5,-.4l2.5,-.5l2.5,-.4l2.5,-.5l2.5,-.5l2.5,-.6l2.5,-.6l2.5,-.6l2.5,-.7l2.5,-.7l2.5,-.8l2.5,-.8l2.5,-.9l2.5,-1l2.5,-1.1l2.5,-1.1l2.5,-1.3l2.5,-1.4l2.5,-1.7l2.5,-1.9l2.5,-2.1l2.4,-2.4l2.5,-2.5l2.5,-2.8l2.5,-2.9l2.5,-3.1l2.5,-3.2l2.5,-3.3l2.5,-3.7l2.5,-3.8l2.5,-4.1l2.5,-4.3l2.5,-4.5l2.5,-4.6l2.5,-4.8l2.5,-4.9l2.5,-5l2.5,-5.2l2.5,-5.4l2.5,-5.5l2.5,-5.7l2.5,-5.8l2.5,-5.9l2.5,-6l2.4,-5.9l2.5,-6l2.5,-6.1l2.5,-6.2l2.5,-6.2l2.5,-6.3l2.5,-6.2l2.5,-6.1l2.5,-6l2.5,-5.8l2.5,-5.6l2.5,-5.3l2.5,-5.3l2.5,-5l2.5,-5l2.5,-4.8l2.5,-4.5l2.5,-4.4l2.5,-4.2l2.5,-3.8l2.5,-3.7l2.5,-3.5l2.4,-3.3l2.5,-3.2l2.5,-3l2.5,-2.9l2.5,-2.6l2.5,-2.5l2.5,-2.3l2.5,-2l2.5,-2l2.5,-1.8l2.5,-1.7l2.5,-1.4l2.5,-1l2.5,-.7l2.5,-.2l2.5,.1l2.5,.4l2.5,.6l2.5,.7l2.5,1l2.5,1l2.5,1.3l2.5,1.5l2.4,1.9l2.5,2.3l2.5,2.7l2.5,3.1l2.5,3.4l2.5,3.8l2.5,3.9l2.5,4.1l2.5,4.2l2.5,4.6l2.5,4.9l2.5,5.3l2.5,5.6l2.5,5.8l2.5,6.1l2.5,6.2l2.5,6.2l2.5,6.4l2.5,6.4l2.5,6.6l2.5,6.7l2.5,6.8l2.4,6.9l2.5,7l2.5,6.9l2.5,6.8l2.5,6.7l2.5,6.5l2.5,6.6l2.5,6.5l2.5,6.4l2.5,6.4l2.5,6.1l2.5,6l2.5,5.7l2.5,5.3l2.5,5l2.5,4.7l2.5,4.6l2.5,4.3l2.5,4.2l2.5,4l2.5,3.8l2.5,3.5l2.5,3.4l2.4,3.1l2.5,2.8l2.5,2.7l2.5,2.5l2.5,2.5l2.5,2.4l2.5,2.3l2.5,2.2l2.5,2l2.5,1.8l2.5,1.6l2.5,1.3l2.5,1l2.5,.8l2.5,.5l2.5,.3l2.5,.3l2.5,.2l2.5,.2l2.5,.2l2.5,.1l2.5,.2l2.4,.1l2.5,.2l2.5,.1l2.5,.1l2.5,.1l2.5,.1l2.5,0l2.5,.1l2.5,0l2.5,.1l2.5,0l2.5,0" class="cv"/>
<path d="M681.2,2212.0l2.6,-.2l2.5,-.2l2.5,-.2l2.5,-.2l2.5,-.2l2.5,-.2l2.5,-.3l2.5,-.3l2.5,-.2l2.5,-.3l2.5,-.3l2.5,-.3l2.5,-.3l2.5,-.3l2.5,-.3l2.5,-.4l2.5,-.3l2.5,-.4l2.5,-.3l2.5,-.4l2.5,-.4l2.5,-.4l2.5,-.5l2.5,-.4l2.5,-.5l2.5,-.5l2.5,-.5l2.5,-.5l2.5,-.6l2.5,-.6l2.5,-.7l2.5,-.7l2.5,-.7l2.5,-.8l2.5,-.9l2.5,-.9l2.5,-1l2.5,-1l2.5,-1.1l2.5,-1l2.5,-1.2l2.5,-1.1l2.5,-1.2l2.5,-1.2l2.5,-1.3l2.5,-1.4l2.5,-1.4l2.5,-1.5l2.5,-1.5l2.5,-1.6l2.5,-1.5l2.5,-1.6l2.5,-1.5l2.6,-1.4l2.5,-1.4l2.5,-1.3l2.5,-1.4l2.5,-1.3l2.5,-1.3l2.5,-1.2l2.5,-1.2l2.5,-1.1l2.5,-1l2.5,-.9l2.5,-.8l2.5,-.6l2.5,-.6l2.5,-.4l2.5,-.4l2.5,-.1l2.5,-.1l2.5,.1l2.5,.3l2.5,.3l2.5,.5l2.5,.6l2.5,.7l2.5,.9l2.5,1.2l2.5,1.4l2.5,1.6l2.5,1.8l2.5,1.7l2.5,1.9l2.5,1.8l2.5,1.8l2.5,1.8l2.5,1.9l2.5,1.9l2.5,1.9l2.5,1.9l2.5,2l2.5,1.9l2.5,1.8l2.5,1.8l2.5,1.7l2.5,1.7l2.5,1.7l2.5,1.7l2.5,1.6l2.5,1.5l2.5,1.5l2.5,1.4l2.5,1.3l2.5,1.1l2.5,1.1l2.5,1.1l2.5,.9l2.6,1l2.5,.9l2.5,.8l2.5,.7l2.5,.6l2.5,.4l2.5,.4l2.5,.2l2.5,.2l2.5,.1l2.5,.1l2.5,.1l2.5,.1l2.5,.1l2.5,.1l2.5,.1l2.5,0l2.5,.1l2.5,0l2.5,.1l2.5,0l2.5,.1l2.5,0l2.5,0l2.5,0l2.5,0l2.5,0" class="cv"/>
<path d="M105.0,2290.7l2.5,0l2.5,0l2.5,0l2.5,0l2.5,0l2.5,-.1l2.5,0l2.5,0l2.5,0l2.5,-.1l2.5,0l2.4,0l2.5,-.1l2.5,0l2.5,0l2.5,-.1l2.5,0l2.5,-.1l2.5,0l2.5,-.1l2.5,0l2.5,-.1l2.5,-.1l2.5,-.1l2.5,-.1l2.5,-.2l2.5,-.2l2.5,-.3l2.5,-.2l2.5,-.3l2.5,-.4l2.5,-.3l2.5,-.4l2.4,-.3l2.5,-.4l2.5,-.4l2.5,-.4l2.5,-.3l2.5,-.4l2.5,-.3l2.5,-.3l2.5,-.3l2.5,-.3l2.5,-.2l2.5,-.2l2.5,-.2l2.5,-.1l2.5,-.1l2.5,-.1l2.5,-.1l2.5,0l2.5,-.1l2.5,0l2.5,-.1l2.5,0l2.5,-.1l2.4,0l2.5,0l2.5,-.1l2.5,0l2.5,0l2.5,-.1l2.5,0l2.5,0l2.5,-.1l2.5,0l2.5,-.1l2.5,-.1l2.5,0l2.5,-.1l2.5,-.1l2.5,-.2l2.5,-.2l2.5,-.3l2.5,-.5l2.5,-.8l2.5,-1l2.5,-1.2l2.4,-1.4l2.5,-1.5l2.5,-1.7l2.5,-1.9l2.5,-2l2.5,-2.4l2.5,-2.7l2.5,-3.1l2.5,-3.4l2.5,-3.8l2.5,-3.9l2.5,-4.1l2.5,-4.3l2.5,-4.4l2.5,-4.5l2.5,-4.8l2.5,-4.9l2.5,-5.2l2.5,-5.4l2.5,-5.6l2.5,-5.7l2.5,-5.7l2.5,-5.9l2.4,-6l2.5,-6.1l2.5,-6.2l2.5,-6.4l2.5,-6.5l2.5,-6.5l2.5,-6.5l2.5,-6.5l2.5,-6.5l2.5,-6.4l2.5,-6.3l2.5,-6.4l2.5,-6.4l2.5,-6.3l2.5,-6.2l2.5,-6.1l2.5,-5.8l2.5,-5.6l2.5,-5.4l2.5,-5.2l2.5,-4.9l2.5,-4.8l2.4,-4.7l2.5,-4.4l2.5,-4.3l2.5,-4l2.5,-3.6l2.5,-3.4l2.5,-3.2l2.5,-2.9l2.5,-2.8l2.5,-2.6l2.5,-2.4l2.5,-2.1l2.5,-1.8l2.5,-1.6l2.5,-1.2l2.5,-1.1l2.5,-.8l2.5,-.5l2.5,-.3l2.5,.1l2.5,.5l2.5,.9l2.5,1.1l2.4,1.3l2.5,1.5l2.5,1.7l2.5,1.9l2.5,2.1l2.5,2.5l2.5,2.8l2.5,3.1l2.5,3.3l2.5,3.6l2.5,3.8l2.5,4l2.5,4.3l2.5,4.5l2.5,4.9l2.5,5.2l2.5,5.6l2.5,5.9l2.5,6l2.5,6.2l2.5,6.3l2.5,6.3l2.4,6.4l2.5,6.6l2.5,6.7l2.5,6.9l2.5,6.9l2.5,6.9l2.5,6.9l2.5,6.8l2.5,6.7l2.5,6.6l2.5,6.5l2.5,6.5l2.5,6.5l2.5,6.3l2.5,6.2l2.5,6l2.5,5.6l2.5,5.4l2.5,5l2.5,4.8l2.5,4.6l2.5,4.4l2.5,4.3l2.4,4.1l2.5,3.8l2.5,3.6l2.5,3.3l2.5,2.9l2.5,2.7l2.5,2.4l2.5,2.2l2.5,2.1l2.5,2l2.5,1.9l2.5,1.7l2.5,1.7l2.5,1.4l2.5,1.2l2.5,1l2.5,.7l2.5,.5l2.5,.2l2.5,.2l2.5,0l2.5,0l2.4,0l2.5,.1l2.5,0l2.5,0l2.5,0l2.5,0l2.5,0l2.5,0l2.5,0l2.5,0l2.5,0l2.5,0" class="cv"/>
<path d="M681.2,2287.5l2.6,-.1l2.5,-.2l2.5,-.2l2.5,-.1l2.5,-.2l2.5,-.3l2.5,-.2l2.5,-.2l2.5,-.3l2.5,-.3l2.5,-.3l2.5,-.3l2.5,-.3l2.5,-.3l2.5,-.3l2.5,-.3l2.5,-.4l2.5,-.4l2.5,-.4l2.5,-.4l2.5,-.4l2.5,-.5l2.5,-.5l2.5,-.5l2.5,-.5l2.5,-.6l2.5,-.6l2.5,-.6l2.5,-.6l2.5,-.7l2.5,-.7l2.5,-.8l2.5,-.8l2.5,-.9l2.5,-.9l2.5,-1.1l2.5,-1l2.5,-1.1l2.5,-1.2l2.5,-1.2l2.5,-1.2l2.5,-1.3l2.5,-1.3l2.5,-1.3l2.5,-1.5l2.5,-1.5l2.5,-1.6l2.5,-1.7l2.5,-1.7l2.5,-1.8l2.5,-1.8l2.5,-1.7l2.5,-1.8l2.6,-1.7l2.5,-1.6l2.5,-1.7l2.5,-1.6l2.5,-1.7l2.5,-1.6l2.5,-1.7l2.5,-1.5l2.5,-1.5l2.5,-1.3l2.5,-1.1l2.5,-1l2.5,-.9l2.5,-.7l2.5,-.6l2.5,-.5l2.5,-.4l2.5,-.2l2.5,-.1l2.5,.1l2.5,.2l2.5,.3l2.5,.5l2.5,.6l2.5,.9l2.5,1.1l2.5,1.4l2.5,1.5l2.5,1.8l2.5,1.8l2.5,1.9l2.5,1.9l2.5,2l2.5,2.1l2.5,2.1l2.5,2.3l2.5,2.3l2.5,2.4l2.5,2.4l2.5,2.3l2.5,2.3l2.5,2.1l2.5,2.1l2.5,2l2.5,2.1l2.5,1.9l2.5,1.9l2.5,1.9l2.5,1.7l2.5,1.6l2.5,1.4l2.5,1.3l2.5,1.1l2.5,1l2.5,1l2.6,.9l2.5,.8l2.5,.7l2.5,.7l2.5,.5l2.5,.4l2.5,.3l2.5,.2l2.5,.1l2.5,.1l2.5,.1l2.5,.1l2.5,.1l2.5,.1l2.5,0l2.5,.1l2.5,0l2.5,.1l2.5,0l2.5,.1l2.5,0l2.5,0l2.5,.1l2.5,0l2.5,0l2.5,0l2.5,0" class="cv"/>
<path d="M105.0,2366.7l2.5,.2l2.5,.3l2.5,.2l2.5,.2l2.5,.1l2.5,.2l2.5,.1l2.5,.1l2.5,.1l2.5,0l2.5,0l2.4,.1l2.5,0l2.5,-.1l2.5,0l2.5,-.2l2.5,-.1l2.5,-.2l2.5,-.3l2.5,-.3l2.5,-.3l2.5,-.4l2.5,-.4l2.5,-.4l2.5,-.4l2.5,-.4l2.5,-.4l2.5,-.5l2.5,-.4l2.5,-.5l2.5,-.4l2.5,-.4l2.5,-.4l2.4,-.4l2.5,-.3l2.5,-.4l2.5,-.3l2.5,-.3l2.5,-.3l2.5,-.3l2.5,-.3l2.5,-.4l2.5,-.3l2.5,-.3l2.5,-.3l2.5,-.3l2.5,-.3l2.5,-.3l2.5,-.3l2.5,-.2l2.5,-.3l2.5,-.3l2.5,-.2l2.5,-.2l2.5,-.3l2.5,-.2l2.4,-.1l2.5,-.2l2.5,-.2l2.5,-.1l2.5,-.1l2.5,-.1l2.5,-.1l2.5,-.2l2.5,-.1l2.5,-.1l2.5,-.2l2.5,-.2l2.5,-.2l2.5,-.3l2.5,-.3l2.5,-.5l2.5,-.6l2.5,-.8l2.5,-.9l2.5,-1.1l2.5,-1.2l2.5,-1.2l2.4,-1.4l2.5,-1.5l2.5,-1.6l2.5,-1.8l2.5,-2.1l2.5,-2.2l2.5,-2.5l2.5,-2.7l2.5,-2.8l2.5,-3.1l2.5,-3.3l2.5,-3.5l2.5,-3.9l2.5,-4.3l2.5,-4.7l2.5,-4.9l2.5,-5.2l2.5,-5.5l2.5,-5.5l2.5,-5.7l2.5,-5.7l2.5,-6l2.5,-6.1l2.4,-6.3l2.5,-6.5l2.5,-6.6l2.5,-6.6l2.5,-6.6l2.5,-6.5l2.5,-6.5l2.5,-6.4l2.5,-6.3l2.5,-6.3l2.5,-6.3l2.5,-6.2l2.5,-6.1l2.5,-5.9l2.5,-5.8l2.5,-5.5l2.5,-5.4l2.5,-5.3l2.5,-5.1l2.5,-5l2.5,-4.9l2.5,-4.7l2.4,-4.4l2.5,-4.2l2.5,-3.9l2.5,-3.7l2.5,-3.5l2.5,-3.3l2.5,-3.2l2.5,-3l2.5,-2.8l2.5,-2.6l2.5,-2.3l2.5,-1.9l2.5,-1.6l2.5,-1.4l2.5,-1.1l2.5,-.9l2.5,-.7l2.5,-.3l2.5,-.1l2.5,.4l2.5,.6l2.5,1l2.5,1.2l2.4,1.5l2.5,1.6l2.5,1.7l2.5,2l2.5,2.4l2.5,2.7l2.5,3.1l2.5,3.4l2.5,3.8l2.5,4l2.5,4.3l2.5,4.4l2.5,4.7l2.5,4.9l2.5,5.3l2.5,5.6l2.5,6l2.5,6.3l2.5,6.4l2.5,6.5l2.5,6.5l2.5,6.6l2.4,6.6l2.5,6.6l2.5,6.7l2.5,6.9l2.5,6.8l2.5,6.9l2.5,6.9l2.5,6.8l2.5,6.8l2.5,6.8l2.5,6.9l2.5,6.9l2.5,6.9l2.5,6.8l2.5,6.6l2.5,6.4l2.5,5.9l2.5,5.5l2.5,5l2.5,4.7l2.5,4.3l2.5,4.1l2.5,3.9l2.4,3.7l2.5,3.5l2.5,3.2l2.5,3l2.5,2.6l2.5,2.5l2.5,2.2l2.5,2.1l2.5,2l2.5,1.9l2.5,1.8l2.5,1.7l2.5,1.6l2.5,1.3l2.5,1.2l2.5,1l2.5,.7l2.5,.5l2.5,.3l2.5,.1l2.5,.1l2.5,0l2.4,0l2.5,.1l2.5,0l2.5,0l2.5,0l2.5,.1l2.5,0l2.5,0l2.5,0l2.5,0l2.5,0l2.5,0" class="cv"/>
<path d="M681.2,2368.7l2.6,0l2.5,-.1l2.5,-.1l2.5,-.1l2.5,-.1l2.5,-.1l2.5,-.2l2.5,-.2l2.5,-.2l2.5,-.1l2.5,-.3l2.5,-.2l2.5,-.2l2.5,-.2l2.5,-.3l2.5,-.2l2.5,-.3l2.5,-.3l2.5,-.3l2.5,-.3l2.5,-.4l2.5,-.4l2.5,-.4l2.5,-.4l2.5,-.5l2.5,-.5l2.5,-.5l2.5,-.5l2.5,-.5l2.5,-.6l2.5,-.6l2.5,-.6l2.5,-.7l2.5,-.7l2.5,-.8l2.5,-.8l2.5,-.9l2.5,-.9l2.5,-.9l2.5,-1l2.5,-1l2.5,-1l2.5,-1.1l2.5,-1.2l2.5,-1.2l2.5,-1.3l2.5,-1.5l2.5,-1.5l2.5,-1.5l2.5,-1.6l2.5,-1.5l2.5,-1.6l2.5,-1.5l2.6,-1.5l2.5,-1.4l2.5,-1.4l2.5,-1.3l2.5,-1.4l2.5,-1.3l2.5,-1.3l2.5,-1.3l2.5,-1.2l2.5,-1l2.5,-.9l2.5,-.8l2.5,-.7l2.5,-.6l2.5,-.6l2.5,-.4l2.5,-.3l2.5,-.2l2.5,0l2.5,.2l2.5,.3l2.5,.4l2.5,.6l2.5,.7l2.5,1l2.5,1.2l2.5,1.4l2.5,1.6l2.5,1.7l2.5,1.8l2.5,1.8l2.5,1.8l2.5,1.8l2.5,1.9l2.5,1.9l2.5,1.9l2.5,2l2.5,2l2.5,1.9l2.5,1.9l2.5,1.8l2.5,1.7l2.5,1.5l2.5,1.6l2.5,1.4l2.5,1.5l2.5,1.3l2.5,1.3l2.5,1.2l2.5,1.1l2.5,1l2.5,.9l2.5,.8l2.5,.7l2.5,.7l2.6,.6l2.5,.6l2.5,.6l2.5,.4l2.5,.4l2.5,.3l2.5,.2l2.5,.2l2.5,.1l2.5,0l2.5,.1l2.5,.1l2.5,0l2.5,.1l2.5,0l2.5,.1l2.5,0l2.5,0l2.5,.1l2.5,0l2.5,0l2.5,0l2.5,.1l2.5,0l2.5,0l2.5,0l2.5,0" class="cv"/>
<text x="135.9" y="1779.1" class="pl" >(e)</text>
<text x="403.0" y="1747.7" class="lb" textLength="121" lengthAdjust="spacingAndGlyphs">200/110</text>
<text x="842.3" y="1973.5" class="lb" textLength="56" lengthAdjust="spacingAndGlyphs">203</text>
<text x="927.3" y="2037.0" class="lb" textLength="92" lengthAdjust="spacingAndGlyphs">0 wt%</text>
<text x="928.5" y="2123.5" class="lb" textLength="91" lengthAdjust="spacingAndGlyphs">1 wt%</text>
<text x="929.8" y="2194.5" class="lb" textLength="90" lengthAdjust="spacingAndGlyphs">2 wt%</text>
<text x="929.8" y="2266.0" class="lb" textLength="90" lengthAdjust="spacingAndGlyphs">3 wt%</text>
<text x="929.8" y="2352.0" class="lb" textLength="90" lengthAdjust="spacingAndGlyphs">4 wt%</text>
<text x="0.0" y="0.0" class="ax" transform="translate(45.5,2136.5) rotate(-90)" textLength="196" lengthAdjust="spacingAndGlyphs">Intensity /a.u.</text>
<text x="545.7" y="2481.0" class="th2" >2θ</text>
<line x1="1168.3" y1="1702.7" x2="2086.0" y2="1702.7" stroke="#000" stroke-width="3.0"/>
<line x1="1168.3" y1="2389.0" x2="2086.0" y2="2389.0" stroke="#000" stroke-width="3.5"/>
<line x1="1168.3" y1="1701.2" x2="1168.3" y2="2390.5" stroke="#000" stroke-width="3.0"/>
<line x1="2086.0" y1="1701.2" x2="2086.0" y2="2390.8" stroke="#000" stroke-width="4.5"/>
<line x1="1186.0" y1="2389.0" x2="1186.0" y2="2381.5" stroke="#000" stroke-width="2.8"/>
<line x1="1279.0" y1="2389.0" x2="1279.0" y2="2376.0" stroke="#000" stroke-width="2.8"/>
<text x="1279.0" y="2426.0" class="tk" text-anchor="middle" textLength="49" lengthAdjust="spacingAndGlyphs">16.0</text>
<line x1="1374.0" y1="2389.0" x2="1374.0" y2="2381.5" stroke="#000" stroke-width="2.8"/>
<line x1="1467.3" y1="2389.0" x2="1467.3" y2="2376.0" stroke="#000" stroke-width="2.8"/>
<text x="1467.3" y="2426.0" class="tk" text-anchor="middle" textLength="49" lengthAdjust="spacingAndGlyphs">16.5</text>
<line x1="1560.0" y1="2389.0" x2="1560.0" y2="2381.5" stroke="#000" stroke-width="2.8"/>
<line x1="1654.0" y1="2389.0" x2="1654.0" y2="2376.0" stroke="#000" stroke-width="2.8"/>
<text x="1654.0" y="2426.0" class="tk" text-anchor="middle" textLength="49" lengthAdjust="spacingAndGlyphs">17.0</text>
<line x1="1793.3" y1="2389.0" x2="1793.3" y2="2376.0" stroke="#000" stroke-width="2.8"/>
<text x="1793.3" y="2426.0" class="tk" text-anchor="middle" textLength="49" lengthAdjust="spacingAndGlyphs">18.5</text>
<line x1="1854.3" y1="2389.0" x2="1854.3" y2="2381.5" stroke="#000" stroke-width="2.8"/>
<line x1="1915.0" y1="2389.0" x2="1915.0" y2="2376.0" stroke="#000" stroke-width="2.8"/>
<text x="1915.0" y="2426.0" class="tk" text-anchor="middle" textLength="49" lengthAdjust="spacingAndGlyphs">19.0</text>
<line x1="1976.0" y1="2389.0" x2="1976.0" y2="2381.5" stroke="#000" stroke-width="2.8"/>
<line x1="2037.3" y1="2389.0" x2="2037.3" y2="2376.0" stroke="#000" stroke-width="2.8"/>
<text x="2037.3" y="2426.0" class="tk" text-anchor="middle" textLength="49" lengthAdjust="spacingAndGlyphs">19.5</text>
<line x1="1719.8" y1="1716.7" x2="1736.8" y2="1688.7" stroke="#000" stroke-width="3"/>
<line x1="1736.2" y1="1716.7" x2="1753.2" y2="1688.7" stroke="#000" stroke-width="3"/>
<line x1="1729.8" y1="1702.7" x2="1741.3" y2="1702.7" stroke="#fff" stroke-width="5"/>
<line x1="1719.8" y1="2403.0" x2="1736.8" y2="2375.0" stroke="#000" stroke-width="3"/>
<line x1="1736.2" y1="2403.0" x2="1753.2" y2="2375.0" stroke="#000" stroke-width="3"/>
<line x1="1729.8" y1="2389.0" x2="1741.3" y2="2389.0" stroke="#fff" stroke-width="5"/>
<line x1="1522.7" y1="1758.0" x2="1522.7" y2="2389.0" stroke="#000" stroke-width="4.5" stroke-dasharray="9 3 3 3"/>
<line x1="1927.0" y1="1976.0" x2="1927.0" y2="2389.0" stroke="#000" stroke-width="4.5" stroke-dasharray="9 3 3 3"/>
<path d="M1168.3,2041.7l2.5,.3l2.5,.2l2.5,.3l2.5,.2l2.5,.2l2.5,.2l2.5,.2l2.5,.1l2.5,.1l2.5,.2l2.5,.1l2.5,0l2.5,.1l2.5,0l2.4,.1l2.5,0l2.5,0l2.5,-.1l2.5,-.1l2.5,-.1l2.5,-.1l2.5,-.2l2.5,-.2l2.5,-.2l2.5,-.2l2.5,-.3l2.5,-.3l2.5,-.3l2.5,-.3l2.5,-.3l2.5,-.3l2.5,-.3l2.5,-.3l2.5,-.3l2.5,-.3l2.5,-.3l2.5,-.3l2.5,-.2l2.5,-.3l2.5,-.3l2.5,-.2l2.5,-.3l2.4,-.3l2.5,-.3l2.5,-.2l2.5,-.3l2.5,-.3l2.5,-.3l2.5,-.3l2.5,-.3l2.5,-.3l2.5,-.4l2.5,-.3l2.5,-.3l2.5,-.4l2.5,-.3l2.5,-.4l2.5,-.4l2.5,-.4l2.5,-.4l2.5,-.4l2.5,-.4l2.5,-.4l2.5,-.5l2.5,-.4l2.5,-.5l2.5,-.5l2.5,-.5l2.5,-.5l2.5,-.5l2.4,-.6l2.5,-.6l2.5,-.5l2.5,-.7l2.5,-.6l2.5,-.7l2.5,-.6l2.5,-.7l2.5,-.8l2.5,-.8l2.5,-.8l2.5,-.9l2.5,-.9l2.5,-1l2.5,-1.1l2.5,-1.1l2.5,-1.2l2.5,-1.4l2.5,-1.5l2.5,-1.7l2.5,-1.8l2.5,-2l2.5,-2.2l2.5,-2.3l2.5,-2.5l2.5,-2.6l2.5,-2.7l2.5,-3l2.4,-3.1l2.5,-3.5l2.5,-3.7l2.5,-4l2.5,-4.3l2.5,-4.5l2.5,-4.7l2.5,-4.9l2.5,-5.1l2.5,-5.3l2.5,-5.6l2.5,-5.9l2.5,-6.2l2.5,-6.4l2.5,-6.5l2.5,-6.5l2.5,-6.5l2.5,-6.4l2.5,-6.3l2.5,-6.4l2.5,-6.3l2.5,-6.3l2.5,-6.3l2.5,-6.1l2.5,-6l2.5,-6l2.5,-5.9l2.5,-5.8l2.4,-5.7l2.5,-5.5l2.5,-5.3l2.5,-5l2.5,-4.6l2.5,-4.3l2.5,-4l2.5,-3.8l2.5,-3.4l2.5,-3.1l2.5,-2.8l2.5,-2.2l2.5,-1.9l2.5,-1.5l2.5,-1.1l2.5,-.4l2.5,.2l2.5,.9l2.5,1.6l2.5,2.1l2.5,2.6l2.5,2.9l2.5,3.3l2.5,3.7l2.5,4.2l2.5,4.9l2.5,5.8l2.5,6.3l2.4,6.9l2.5,7.2l2.5,7.4l2.5,7.4l2.5,7.6l2.5,7.7l2.5,7.9l2.5,8.1l2.5,8.1l2.5,8l2.5,7.8l2.5,7.6l2.5,7.4l2.5,7.2l2.5,7l2.5,6.8l2.5,6.7l2.5,6.5l2.5,6.2l2.5,6.1l2.5,5.8l2.5,5.8l2.5,5.6l2.5,5.3l2.5,5.1l2.5,4.7l2.5,4.2l2.5,3.7l2.4,3.3l2.5,3l2.5,2.8l2.5,2.5l2.5,2.4l2.5,2l2.5,1.8l2.5,1.5l2.5,1.2l2.5,.9l2.5,.7l2.5,.6l2.5,.5l2.5,.4l2.5,.4l2.5,.3l2.5,.3l2.5,.3l2.5,.3l2.5,.3l2.5,.3l2.5,.3l2.5,.3l2.5,.3l2.5,.3l2.5,.3l2.5,.3l2.5,.2l2.4,.3l2.5,.3l2.5,.3l2.5,.4l2.5,.4l2.5,.4l2.5,.5l2.5,.6l2.5,.6l2.5,.7l2.5,.7l2.5,.7l2.5,.8l2.5,.9l2.5,.7" class="cv"/>
<path d="M1744.5,2050.5l2.5,.3l2.5,.3l2.5,.2l2.5,.2l2.5,.2l2.5,.1l2.5,.1l2.5,0l2.5,.1l2.5,0l2.5,-.1l2.5,-.1l2.5,-.2l2.6,-.3l2.5,-.4l2.5,-.4l2.5,-.6l2.5,-.5l2.5,-.6l2.5,-.6l2.5,-.6l2.5,-.6l2.5,-.6l2.5,-.7l2.5,-.7l2.5,-.7l2.5,-.8l2.5,-.8l2.5,-.7l2.5,-.8l2.5,-.9l2.5,-.8l2.5,-.8l2.5,-.8l2.5,-.7l2.5,-.8l2.5,-.8l2.5,-.7l2.5,-.7l2.5,-.7l2.6,-.7l2.5,-.7l2.5,-.7l2.5,-.7l2.5,-.8l2.5,-.7l2.5,-.8l2.5,-.8l2.5,-.8l2.5,-.9l2.5,-.9l2.5,-.9l2.5,-1l2.5,-1.1l2.5,-1.2l2.5,-1.1l2.5,-1.2l2.5,-1.2l2.5,-1.2l2.5,-1.2l2.5,-1.2l2.5,-1.1l2.5,-1.2l2.5,-1.2l2.5,-1.3l2.5,-1.2l2.5,-1l2.6,-.9l2.5,-.6l2.5,-.4l2.5,-.2l2.5,0l2.5,.1l2.5,.1l2.5,.2l2.5,.3l2.5,.5l2.5,.8l2.5,1.1l2.5,1.4l2.5,1.6l2.5,1.8l2.5,1.8l2.5,1.9l2.5,1.8l2.5,1.8l2.5,1.8l2.5,1.8l2.5,1.8l2.5,1.9l2.5,1.8l2.5,1.8l2.5,1.8l2.5,1.7l2.5,1.6l2.6,1.5l2.5,1.4l2.5,1.4l2.5,1.3l2.5,1.2l2.5,1.2l2.5,1.2l2.5,1l2.5,1l2.5,.8l2.5,.8l2.5,.8l2.5,.7l2.5,.6l2.5,.6l2.5,.6l2.5,.5l2.5,.5l2.5,.3l2.5,.3l2.5,.2l2.5,.1l2.5,.1l2.5,.1l2.5,0l2.5,.1l2.5,0l2.6,.1l2.5,0l2.5,.1l2.5,0l2.5,0l2.5,.1l2.5,0l2.5,0l2.5,.1l2.5,0l2.5,0l2.5,0l2.5,0l2.5,0" class="cv"/>
<path d="M1168.3,2138.3l2.5,.2l2.5,.1l2.5,.1l2.5,.1l2.5,.1l2.5,.1l2.5,.1l2.5,0l2.5,.1l2.5,0l2.5,.1l2.5,0l2.5,0l2.5,0l2.4,0l2.5,0l2.5,-.1l2.5,-.1l2.5,-.1l2.5,-.3l2.5,-.3l2.5,-.4l2.5,-.4l2.5,-.5l2.5,-.5l2.5,-.5l2.5,-.6l2.5,-.6l2.5,-.6l2.5,-.6l2.5,-.6l2.5,-.6l2.5,-.6l2.5,-.5l2.5,-.6l2.5,-.4l2.5,-.5l2.5,-.4l2.5,-.4l2.5,-.3l2.5,-.4l2.5,-.4l2.4,-.3l2.5,-.4l2.5,-.3l2.5,-.3l2.5,-.4l2.5,-.3l2.5,-.4l2.5,-.3l2.5,-.4l2.5,-.3l2.5,-.4l2.5,-.4l2.5,-.4l2.5,-.4l2.5,-.4l2.5,-.4l2.5,-.5l2.5,-.4l2.5,-.4l2.5,-.5l2.5,-.4l2.5,-.5l2.5,-.5l2.5,-.5l2.5,-.6l2.5,-.6l2.5,-.6l2.5,-.7l2.4,-.7l2.5,-.9l2.5,-.9l2.5,-1l2.5,-1.2l2.5,-1.3l2.5,-1.4l2.5,-1.5l2.5,-1.6l2.5,-1.7l2.5,-1.8l2.5,-2l2.5,-2.2l2.5,-2.5l2.5,-2.7l2.5,-2.9l2.5,-3.2l2.5,-3.5l2.5,-3.6l2.5,-3.7l2.5,-4l2.5,-4.2l2.5,-4.5l2.5,-4.8l2.5,-5.1l2.5,-5.4l2.5,-5.5l2.5,-5.7l2.4,-5.8l2.5,-5.9l2.5,-6l2.5,-6.1l2.5,-6.3l2.5,-6.4l2.5,-6.6l2.5,-6.6l2.5,-6.5l2.5,-6.5l2.5,-6.4l2.5,-6.3l2.5,-6.2l2.5,-6.2l2.5,-6l2.5,-6.1l2.5,-5.9l2.5,-5.7l2.5,-5.4l2.5,-5.2l2.5,-4.9l2.5,-4.6l2.5,-4.3l2.5,-4.2l2.5,-3.9l2.5,-3.8l2.5,-3.6l2.5,-3.3l2.4,-3.1l2.5,-2.9l2.5,-2.7l2.5,-2.5l2.5,-2.4l2.5,-2.2l2.5,-2.1l2.5,-1.8l2.5,-1.5l2.5,-1.2l2.5,-.9l2.5,-.6l2.5,-.5l2.5,-.2l2.5,-.1l2.5,.2l2.5,.7l2.5,1l2.5,1.5l2.5,1.7l2.5,2l2.5,2.3l2.5,2.5l2.5,2.8l2.5,3.1l2.5,3.6l2.5,3.9l2.5,4.3l2.4,4.5l2.5,4.7l2.5,4.9l2.5,5.1l2.5,5.4l2.5,5.7l2.5,6l2.5,6.2l2.5,6.4l2.5,6.5l2.5,6.5l2.5,6.7l2.5,6.8l2.5,7l2.5,7.1l2.5,7.3l2.5,7.3l2.5,7.3l2.5,7.1l2.5,7l2.5,6.8l2.5,6.6l2.5,6.4l2.5,6.3l2.5,6.2l2.5,6l2.5,5.8l2.5,5.5l2.4,5.3l2.5,4.9l2.5,4.6l2.5,4.4l2.5,4.2l2.5,4.1l2.5,3.9l2.5,3.7l2.5,3.4l2.5,3.3l2.5,2.9l2.5,2.7l2.5,2.4l2.5,2.2l2.5,2l2.5,1.9l2.5,1.8l2.5,1.7l2.5,1.6l2.5,1.4l2.5,1.3l2.5,1.2l2.5,.9l2.5,.7l2.5,.6l2.5,.3l2.5,.3l2.5,.2l2.4,.2l2.5,.1l2.5,.2l2.5,.1l2.5,.1l2.5,.1l2.5,.1l2.5,.1l2.5,.1l2.5,0l2.5,.1l2.5,0l2.5,.1l2.5,0l2.5,0" class="cv"/>
<path d="M1744.5,2137.0l2.5,-.1l2.5,-.1l2.5,-.2l2.5,-.1l2.5,-.2l2.5,-.2l2.5,-.1l2.5,-.2l2.5,-.3l2.5,-.2l2.5,-.2l2.5,-.3l2.5,-.2l2.6,-.3l2.5,-.2l2.5,-.3l2.5,-.3l2.5,-.3l2.5,-.3l2.5,-.3l2.5,-.4l2.5,-.3l2.5,-.4l2.5,-.4l2.5,-.4l2.5,-.5l2.5,-.5l2.5,-.5l2.5,-.5l2.5,-.6l2.5,-.6l2.5,-.6l2.5,-.8l2.5,-.8l2.5,-.9l2.5,-.9l2.5,-1.1l2.5,-1.1l2.5,-1.1l2.5,-1.2l2.6,-1.3l2.5,-1.4l2.5,-1.5l2.5,-1.6l2.5,-1.8l2.5,-1.9l2.5,-2l2.5,-2l2.5,-2.2l2.5,-2.1l2.5,-2.2l2.5,-2.1l2.5,-2.1l2.5,-2.1l2.5,-2l2.5,-2.1l2.5,-2.1l2.5,-2.1l2.5,-2.1l2.5,-2l2.5,-1.8l2.5,-1.7l2.5,-1.4l2.5,-1.3l2.5,-1.2l2.5,-1l2.5,-.9l2.6,-.7l2.5,-.6l2.5,-.5l2.5,-.2l2.5,0l2.5,.1l2.5,.3l2.5,.3l2.5,.6l2.5,.7l2.5,1.1l2.5,1.3l2.5,1.7l2.5,1.9l2.5,2l2.5,2.1l2.5,2.1l2.5,2.1l2.5,2l2.5,2l2.5,1.9l2.5,2l2.5,2l2.5,2l2.5,2l2.5,2.1l2.5,2l2.5,2.1l2.6,2l2.5,2.1l2.5,2.2l2.5,2.2l2.5,2.2l2.5,2.2l2.5,2.1l2.5,1.9l2.5,1.9l2.5,1.6l2.5,1.5l2.5,1.3l2.5,1.2l2.5,1.2l2.5,1.1l2.5,1l2.5,.9l2.5,.7l2.5,.6l2.5,.5l2.5,.3l2.5,.2l2.5,.2l2.5,.1l2.5,.1l2.5,.1l2.5,.1l2.6,.1l2.5,.1l2.5,0l2.5,.1l2.5,0l2.5,.1l2.5,0l2.5,.1l2.5,0l2.5,0l2.5,.1l2.5,0l2.5,0l2.5,0" class="cv"/>
<path d="M1168.3,2220.0l2.5,0l2.5,0l2.5,-.1l2.5,0l2.5,-.1l2.5,-.1l2.5,0l2.5,-.1l2.5,-.1l2.5,-.1l2.5,-.2l2.5,-.1l2.5,-.1l2.5,-.2l2.4,-.1l2.5,-.2l2.5,-.1l2.5,-.2l2.5,-.1l2.5,-.2l2.5,-.2l2.5,-.2l2.5,-.1l2.5,-.3l2.5,-.2l2.5,-.2l2.5,-.3l2.5,-.3l2.5,-.4l2.5,-.3l2.5,-.4l2.5,-.4l2.5,-.4l2.5,-.4l2.5,-.5l2.5,-.4l2.5,-.4l2.5,-.4l2.5,-.4l2.5,-.4l2.5,-.4l2.5,-.4l2.4,-.3l2.5,-.4l2.5,-.3l2.5,-.3l2.5,-.4l2.5,-.3l2.5,-.3l2.5,-.3l2.5,-.3l2.5,-.4l2.5,-.3l2.5,-.2l2.5,-.3l2.5,-.3l2.5,-.3l2.5,-.2l2.5,-.2l2.5,-.2l2.5,-.2l2.5,-.2l2.5,-.1l2.5,-.1l2.5,-.2l2.5,-.1l2.5,-.1l2.5,-.1l2.5,-.1l2.5,-.2l2.4,-.2l2.5,-.2l2.5,-.4l2.5,-.5l2.5,-.8l2.5,-.9l2.5,-1.2l2.5,-1.3l2.5,-1.5l2.5,-1.6l2.5,-1.7l2.5,-1.8l2.5,-2l2.5,-2.3l2.5,-2.5l2.5,-2.8l2.5,-3l2.5,-3.3l2.5,-3.4l2.5,-3.7l2.5,-3.8l2.5,-4.1l2.5,-4.4l2.5,-4.8l2.5,-5l2.5,-5.4l2.5,-5.6l2.5,-5.7l2.4,-5.9l2.5,-5.9l2.5,-6l2.5,-6.1l2.5,-6.3l2.5,-6.4l2.5,-6.6l2.5,-6.6l2.5,-6.5l2.5,-6.5l2.5,-6.4l2.5,-6.3l2.5,-6.1l2.5,-6l2.5,-5.9l2.5,-5.8l2.5,-5.8l2.5,-5.7l2.5,-5.5l2.5,-5.4l2.5,-5.3l2.5,-5.3l2.5,-5.2l2.5,-5.1l2.5,-5l2.5,-4.9l2.5,-4.8l2.5,-4.4l2.4,-4.2l2.5,-3.9l2.5,-3.6l2.5,-3.3l2.5,-3.1l2.5,-3l2.5,-2.7l2.5,-2.4l2.5,-2.1l2.5,-1.6l2.5,-1.3l2.5,-1l2.5,-.8l2.5,-.5l2.5,-.2l2.5,.1l2.5,.4l2.5,.8l2.5,1.2l2.5,1.4l2.5,1.6l2.5,1.9l2.5,2.1l2.5,2.4l2.5,2.9l2.5,3.3l2.5,3.7l2.5,4.1l2.4,4.3l2.5,4.6l2.5,4.9l2.5,5.2l2.5,5.6l2.5,6l2.5,6.3l2.5,6.6l2.5,6.8l2.5,7l2.5,7l2.5,7.1l2.5,7.2l2.5,7.3l2.5,7.5l2.5,7.6l2.5,7.7l2.5,7.7l2.5,7.5l2.5,7.4l2.5,7.1l2.5,7l2.5,6.8l2.5,6.7l2.5,6.6l2.5,6.4l2.5,6.2l2.5,5.8l2.4,5.6l2.5,5.2l2.5,4.8l2.5,4.5l2.5,4.2l2.5,4.1l2.5,3.9l2.5,3.7l2.5,3.5l2.5,3.2l2.5,3l2.5,2.7l2.5,2.4l2.5,2.1l2.5,2.1l2.5,1.9l2.5,1.8l2.5,1.8l2.5,1.6l2.5,1.5l2.5,1.3l2.5,1.2l2.5,.9l2.5,.6l2.5,.4l2.5,.3l2.5,.1l2.5,0l2.4,0l2.5,0l2.5,0l2.5,0l2.5,-.1l2.5,0l2.5,0l2.5,-.1l2.5,0l2.5,-.1l2.5,0l2.5,-.1l2.5,-.1l2.5,-.1l2.5,-.1" class="cv"/>
<path d="M1744.5,2217.0l2.5,0l2.5,-.1l2.5,0l2.5,-.1l2.5,-.1l2.5,-.1l2.5,-.1l2.5,-.1l2.5,-.2l2.5,-.1l2.5,-.2l2.5,-.1l2.5,-.2l2.6,-.2l2.5,-.2l2.5,-.2l2.5,-.2l2.5,-.2l2.5,-.3l2.5,-.3l2.5,-.4l2.5,-.3l2.5,-.4l2.5,-.4l2.5,-.5l2.5,-.5l2.5,-.5l2.5,-.5l2.5,-.5l2.5,-.6l2.5,-.6l2.5,-.7l2.5,-.7l2.5,-.9l2.5,-.8l2.5,-1l2.5,-1.1l2.5,-1.1l2.5,-1.1l2.5,-1.2l2.6,-1.3l2.5,-1.3l2.5,-1.5l2.5,-1.6l2.5,-1.7l2.5,-1.8l2.5,-1.9l2.5,-2l2.5,-2l2.5,-2.1l2.5,-2l2.5,-2l2.5,-1.9l2.5,-1.8l2.5,-1.9l2.5,-1.8l2.5,-1.8l2.5,-1.8l2.5,-1.8l2.5,-1.7l2.5,-1.6l2.5,-1.4l2.5,-1.3l2.5,-1.2l2.5,-1.1l2.5,-.9l2.5,-.9l2.6,-.8l2.5,-.6l2.5,-.5l2.5,-.2l2.5,0l2.5,.1l2.5,.3l2.5,.3l2.5,.6l2.5,.7l2.5,1l2.5,1.4l2.5,1.6l2.5,1.8l2.5,2l2.5,2.1l2.5,2.2l2.5,2.1l2.5,2.2l2.5,2.1l2.5,2.2l2.5,2.2l2.5,2.4l2.5,2.3l2.5,2.3l2.5,2.4l2.5,2.2l2.5,2.2l2.6,2.1l2.5,2.1l2.5,2l2.5,2l2.5,2l2.5,1.9l2.5,1.8l2.5,1.7l2.5,1.5l2.5,1.3l2.5,1.2l2.5,1l2.5,.9l2.5,.8l2.5,.8l2.5,.7l2.5,.7l2.5,.5l2.5,.4l2.5,.3l2.5,.2l2.5,.2l2.5,.1l2.5,.1l2.5,0l2.5,.1l2.5,0l2.6,.1l2.5,0l2.5,.1l2.5,0l2.5,.1l2.5,0l2.5,0l2.5,0l2.5,.1l2.5,0l2.5,0l2.5,0l2.5,0l2.5,0" class="cv"/>
<path d="M1168.3,2293.3l2.5,0l2.5,-.1l2.5,0l2.5,-.1l2.5,0l2.5,-.1l2.5,-.1l2.5,-.1l2.5,-.1l2.5,-.2l2.5,-.1l2.5,-.2l2.5,-.2l2.5,-.1l2.4,-.2l2.5,-.2l2.5,-.2l2.5,-.2l2.5,-.2l2.5,-.2l2.5,-.2l2.5,-.2l2.5,-.2l2.5,-.3l2.5,-.2l2.5,-.3l2.5,-.3l2.5,-.4l2.5,-.4l2.5,-.4l2.5,-.4l2.5,-.4l2.5,-.5l2.5,-.4l2.5,-.5l2.5,-.5l2.5,-.4l2.5,-.5l2.5,-.5l2.5,-.5l2.5,-.4l2.5,-.5l2.4,-.4l2.5,-.4l2.5,-.4l2.5,-.4l2.5,-.4l2.5,-.4l2.5,-.4l2.5,-.3l2.5,-.4l2.5,-.4l2.5,-.4l2.5,-.3l2.5,-.4l2.5,-.4l2.5,-.5l2.5,-.4l2.5,-.4l2.5,-.5l2.5,-.5l2.5,-.5l2.5,-.6l2.5,-.6l2.5,-.6l2.5,-.6l2.5,-.7l2.5,-.7l2.5,-.7l2.5,-.8l2.4,-.9l2.5,-.9l2.5,-1l2.5,-1.1l2.5,-1.2l2.5,-1.4l2.5,-1.5l2.5,-1.7l2.5,-1.9l2.5,-2.1l2.5,-2.3l2.5,-2.4l2.5,-2.7l2.5,-2.7l2.5,-3.1l2.5,-3.2l2.5,-3.6l2.5,-3.7l2.5,-4.1l2.5,-4.2l2.5,-4.5l2.5,-4.9l2.5,-5.2l2.5,-5.5l2.5,-6l2.5,-6.2l2.5,-6.3l2.5,-6.4l2.4,-6.5l2.5,-6.3l2.5,-6.3l2.5,-6.3l2.5,-6.2l2.5,-6.2l2.5,-6.2l2.5,-6.2l2.5,-6.1l2.5,-6l2.5,-5.8l2.5,-5.7l2.5,-5.5l2.5,-5.5l2.5,-5.3l2.5,-5.3l2.5,-5.1l2.5,-5l2.5,-4.7l2.5,-4.5l2.5,-4.3l2.5,-4l2.5,-3.8l2.5,-3.7l2.5,-3.5l2.5,-3.4l2.5,-3.1l2.5,-3.1l2.4,-2.8l2.5,-2.7l2.5,-2.5l2.5,-2.4l2.5,-2.4l2.5,-2.2l2.5,-2.1l2.5,-1.8l2.5,-1.5l2.5,-1.2l2.5,-1l2.5,-.6l2.5,-.5l2.5,-.3l2.5,-.1l2.5,.2l2.5,.5l2.5,.9l2.5,1.2l2.5,1.5l2.5,1.8l2.5,1.9l2.5,2.3l2.5,2.5l2.5,2.9l2.5,3.4l2.5,3.7l2.5,4l2.4,4.3l2.5,4.6l2.5,4.7l2.5,5l2.5,5.4l2.5,5.7l2.5,5.9l2.5,6.3l2.5,6.4l2.5,6.5l2.5,6.6l2.5,6.7l2.5,6.7l2.5,7l2.5,7.1l2.5,7.2l2.5,7.3l2.5,7.2l2.5,7.2l2.5,7.1l2.5,6.9l2.5,6.8l2.5,6.7l2.5,6.6l2.5,6.6l2.5,6.4l2.5,6.2l2.5,5.9l2.4,5.6l2.5,5.2l2.5,4.8l2.5,4.5l2.5,4.3l2.5,4.1l2.5,3.8l2.5,3.7l2.5,3.5l2.5,3.2l2.5,3l2.5,2.7l2.5,2.4l2.5,2.3l2.5,2.1l2.5,2l2.5,2l2.5,1.8l2.5,1.8l2.5,1.6l2.5,1.4l2.5,1.3l2.5,1l2.5,.7l2.5,.6l2.5,.3l2.5,.2l2.5,.1l2.4,.1l2.5,.1l2.5,.1l2.5,.1l2.5,.1l2.5,0l2.5,.1l2.5,0l2.5,.1l2.5,0l2.5,0l2.5,.1l2.5,0l2.5,0l2.5,0" class="cv"/>
<path d="M1744.5,2292.5l2.5,-.1l2.5,-.1l2.5,-.1l2.5,-.1l2.5,-.1l2.5,-.2l2.5,-.1l2.5,-.2l2.5,-.2l2.5,-.3l2.5,-.2l2.5,-.2l2.5,-.3l2.6,-.2l2.5,-.3l2.5,-.3l2.5,-.3l2.5,-.3l2.5,-.3l2.5,-.3l2.5,-.4l2.5,-.4l2.5,-.5l2.5,-.4l2.5,-.5l2.5,-.5l2.5,-.6l2.5,-.5l2.5,-.6l2.5,-.7l2.5,-.7l2.5,-.7l2.5,-.9l2.5,-.9l2.5,-1l2.5,-1.1l2.5,-1.2l2.5,-1.2l2.5,-1.3l2.5,-1.3l2.6,-1.4l2.5,-1.4l2.5,-1.5l2.5,-1.6l2.5,-1.6l2.5,-1.8l2.5,-1.8l2.5,-1.9l2.5,-1.9l2.5,-1.9l2.5,-1.8l2.5,-1.9l2.5,-1.7l2.5,-1.7l2.5,-1.6l2.5,-1.7l2.5,-1.6l2.5,-1.6l2.5,-1.5l2.5,-1.5l2.5,-1.3l2.5,-1.3l2.5,-1.2l2.5,-1l2.5,-.9l2.5,-.9l2.5,-.8l2.6,-.7l2.5,-.6l2.5,-.3l2.5,-.2l2.5,0l2.5,.3l2.5,.4l2.5,.5l2.5,.7l2.5,.8l2.5,1l2.5,1.3l2.5,1.4l2.5,1.6l2.5,1.8l2.5,1.8l2.5,1.8l2.5,1.8l2.5,1.9l2.5,1.8l2.5,1.9l2.5,2l2.5,2l2.5,2.1l2.5,2l2.5,2.1l2.5,2l2.5,2.1l2.6,2l2.5,2l2.5,2.1l2.5,2.1l2.5,2.1l2.5,2l2.5,2l2.5,1.8l2.5,1.7l2.5,1.5l2.5,1.3l2.5,1.2l2.5,1.1l2.5,1l2.5,.9l2.5,.9l2.5,.7l2.5,.7l2.5,.5l2.5,.4l2.5,.2l2.5,.2l2.5,.1l2.5,.1l2.5,0l2.5,.1l2.5,0l2.6,.1l2.5,0l2.5,.1l2.5,0l2.5,.1l2.5,0l2.5,0l2.5,0l2.5,.1l2.5,0l2.5,0l2.5,0l2.5,0l2.5,0" class="cv"/>
<path d="M1168.3,2366.7l2.5,.2l2.5,.3l2.5,.2l2.5,.2l2.5,.1l2.5,.2l2.5,.1l2.5,.1l2.5,0l2.5,.1l2.5,0l2.5,.1l2.5,0l2.5,0l2.4,0l2.5,0l2.5,-.1l2.5,0l2.5,-.1l2.5,-.2l2.5,-.2l2.5,-.3l2.5,-.3l2.5,-.3l2.5,-.4l2.5,-.4l2.5,-.4l2.5,-.4l2.5,-.4l2.5,-.5l2.5,-.4l2.5,-.4l2.5,-.4l2.5,-.4l2.5,-.4l2.5,-.3l2.5,-.4l2.5,-.3l2.5,-.4l2.5,-.3l2.5,-.4l2.5,-.3l2.4,-.4l2.5,-.3l2.5,-.4l2.5,-.3l2.5,-.3l2.5,-.2l2.5,-.2l2.5,-.2l2.5,-.1l2.5,-.1l2.5,-.1l2.5,0l2.5,0l2.5,0l2.5,0l2.5,0l2.5,0l2.5,0l2.5,0l2.5,0l2.5,0l2.5,0l2.5,0l2.5,0l2.5,0l2.5,0l2.5,0l2.5,0l2.4,0l2.5,-.1l2.5,-.1l2.5,-.4l2.5,-.5l2.5,-.7l2.5,-1l2.5,-1l2.5,-1.2l2.5,-1.4l2.5,-1.4l2.5,-1.6l2.5,-1.9l2.5,-2.1l2.5,-2.3l2.5,-2.6l2.5,-2.8l2.5,-2.9l2.5,-3.2l2.5,-3.4l2.5,-3.6l2.5,-4.1l2.5,-4.4l2.5,-4.8l2.5,-5l2.5,-5.3l2.5,-5.5l2.5,-5.6l2.4,-5.7l2.5,-5.8l2.5,-6l2.5,-6.2l2.5,-6.4l2.5,-6.5l2.5,-6.6l2.5,-6.7l2.5,-6.5l2.5,-6.5l2.5,-6.4l2.5,-6.4l2.5,-6.3l2.5,-6.2l2.5,-6.3l2.5,-6.1l2.5,-6.1l2.5,-5.9l2.5,-5.8l2.5,-5.6l2.5,-5.6l2.5,-5.5l2.5,-5.4l2.5,-5.3l2.5,-5.2l2.5,-5l2.5,-4.7l2.5,-4.4l2.4,-4.2l2.5,-3.8l2.5,-3.7l2.5,-3.5l2.5,-3.3l2.5,-3l2.5,-2.7l2.5,-2.4l2.5,-2.1l2.5,-1.7l2.5,-1.5l2.5,-1.3l2.5,-1.2l2.5,-.8l2.5,-.6l2.5,-.3l2.5,.1l2.5,.5l2.5,.7l2.5,1l2.5,1.3l2.5,1.4l2.5,1.7l2.5,2.1l2.5,2.5l2.5,2.9l2.5,3.4l2.5,3.6l2.4,3.9l2.5,4.1l2.5,4.4l2.5,4.6l2.5,4.9l2.5,5.3l2.5,5.5l2.5,5.9l2.5,6l2.5,6.2l2.5,6.3l2.5,6.5l2.5,6.6l2.5,6.8l2.5,6.9l2.5,7.2l2.5,7.3l2.5,7.3l2.5,7.3l2.5,7.2l2.5,7.1l2.5,6.9l2.5,7l2.5,6.9l2.5,6.9l2.5,6.8l2.5,6.6l2.5,6.3l2.4,6l2.5,5.6l2.5,5.2l2.5,4.8l2.5,4.7l2.5,4.5l2.5,4.2l2.5,4.1l2.5,3.8l2.5,3.5l2.5,3.2l2.5,2.9l2.5,2.6l2.5,2.3l2.5,2.2l2.5,2l2.5,1.9l2.5,1.9l2.5,1.7l2.5,1.5l2.5,1.4l2.5,1.2l2.5,.9l2.5,.7l2.5,.4l2.5,.3l2.5,.1l2.5,0l2.4,0l2.5,0l2.5,0l2.5,0l2.5,0l2.5,-.1l2.5,0l2.5,0l2.5,0l2.5,-.1l2.5,0l2.5,-.1l2.5,-.1l2.5,0l2.5,-.1" class="cv"/>
<path d="M1744.5,2362.0l2.5,0l2.5,0l2.5,0l2.5,-.1l2.5,0l2.5,0l2.5,-.1l2.5,0l2.5,-.1l2.5,0l2.5,-.1l2.5,0l2.5,-.1l2.6,-.1l2.5,-.1l2.5,-.1l2.5,-.1l2.5,-.1l2.5,-.2l2.5,-.2l2.5,-.3l2.5,-.2l2.5,-.3l2.5,-.4l2.5,-.4l2.5,-.4l2.5,-.4l2.5,-.4l2.5,-.5l2.5,-.5l2.5,-.5l2.5,-.6l2.5,-.7l2.5,-.8l2.5,-.9l2.5,-.9l2.5,-1.1l2.5,-1.1l2.5,-1.2l2.5,-1.2l2.6,-1.3l2.5,-1.5l2.5,-1.6l2.5,-1.7l2.5,-1.9l2.5,-2.1l2.5,-2.2l2.5,-2.3l2.5,-2.4l2.5,-2.4l2.5,-2.4l2.5,-2.4l2.5,-2.3l2.5,-2.2l2.5,-2.2l2.5,-2.2l2.5,-2.2l2.5,-2.2l2.5,-2.1l2.5,-2.1l2.5,-1.9l2.5,-1.9l2.5,-1.7l2.5,-1.6l2.5,-1.5l2.5,-1.4l2.5,-1.3l2.6,-1.2l2.5,-.9l2.5,-.7l2.5,-.4l2.5,-.1l2.5,.1l2.5,.3l2.5,.3l2.5,.6l2.5,.8l2.5,1.2l2.5,1.5l2.5,1.9l2.5,2.1l2.5,2.3l2.5,2.4l2.5,2.5l2.5,2.4l2.5,2.4l2.5,2.4l2.5,2.5l2.5,2.5l2.5,2.6l2.5,2.6l2.5,2.6l2.5,2.6l2.5,2.5l2.5,2.4l2.6,2.3l2.5,2.2l2.5,2.2l2.5,2.2l2.5,2.1l2.5,2l2.5,1.9l2.5,1.8l2.5,1.6l2.5,1.4l2.5,1.3l2.5,1.2l2.5,1.1l2.5,1l2.5,.9l2.5,.9l2.5,.7l2.5,.7l2.5,.5l2.5,.4l2.5,.2l2.5,.2l2.5,.1l2.5,.1l2.5,0l2.5,.1l2.5,0l2.6,.1l2.5,0l2.5,.1l2.5,0l2.5,.1l2.5,0l2.5,0l2.5,0l2.5,.1l2.5,0l2.5,0l2.5,0l2.5,0l2.5,0" class="cv"/>
<text x="1199.9" y="1779.1" class="pl" >(f)</text>
<text x="1471.3" y="1747.7" class="lb" textLength="121" lengthAdjust="spacingAndGlyphs">200/110</text>
<text x="1906.0" y="1965.5" class="lb" textLength="56" lengthAdjust="spacingAndGlyphs">203</text>
<text x="1997.3" y="2036.0" class="lb" textLength="89" lengthAdjust="spacingAndGlyphs">0 wt%</text>
<text x="1999.8" y="2114.5" class="lb" textLength="87" lengthAdjust="spacingAndGlyphs">1 wt%</text>
<text x="1993.5" y="2192.0" class="lb" textLength="91" lengthAdjust="spacingAndGlyphs">2 wt%</text>
<text x="1994.8" y="2264.5" class="lb" textLength="90" lengthAdjust="spacingAndGlyphs">3 wt%</text>
<text x="1993.5" y="2338.5" class="lb" textLength="91" lengthAdjust="spacingAndGlyphs">4 wt%</text>
<text x="0.0" y="0.0" class="ax" transform="translate(1109.5,2138.5) rotate(-90)" textLength="197" lengthAdjust="spacingAndGlyphs">Intensity /a.u.</text>
<text x="1609.0" y="2481.5" class="th2" >2θ</text>
</svg>
</body></html>
